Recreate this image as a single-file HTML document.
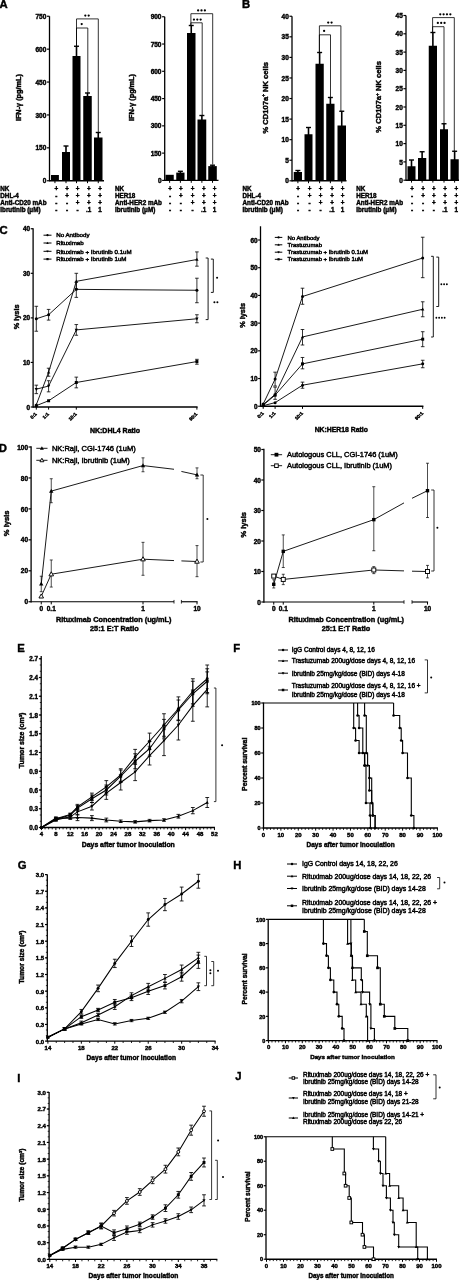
<!DOCTYPE html>
<html><head><meta charset="utf-8"><style>
html,body{margin:0;padding:0;background:#fff;width:460px;height:1280px;overflow:hidden}
svg{display:block;will-change:transform;filter:blur(0.3px)}
text{font-family:"Liberation Sans",sans-serif;fill:#000;stroke:#000;stroke-width:0.42px}
text[font-weight="normal"]{stroke-width:0.45px}
</style></head><body>
<svg width="460" height="1280" viewBox="0 0 460 1280">
<rect width="460" height="1280" fill="#fff"/>
<text x="-0.6" y="8.1" font-size="11.3" font-weight="bold" text-anchor="start">A</text>
<text x="242" y="8.2" font-size="11.3" font-weight="bold" text-anchor="start">B</text>
<line x1="49.5" y1="16.25" x2="49.5" y2="181.4" stroke="#000" stroke-width="1.3"/>
<line x1="46.9" y1="180.75" x2="49.5" y2="180.75" stroke="#000" stroke-width="1.17"/>
<text x="46.3" y="183.35" font-size="6.5" font-weight="bold" text-anchor="end">0</text>
<line x1="46.9" y1="147.85" x2="49.5" y2="147.85" stroke="#000" stroke-width="1.17"/>
<text x="46.3" y="150.45" font-size="6.5" font-weight="bold" text-anchor="end">150</text>
<line x1="46.9" y1="114.95" x2="49.5" y2="114.95" stroke="#000" stroke-width="1.17"/>
<text x="46.3" y="117.55" font-size="6.5" font-weight="bold" text-anchor="end">300</text>
<line x1="46.9" y1="82.05" x2="49.5" y2="82.05" stroke="#000" stroke-width="1.17"/>
<text x="46.3" y="84.65" font-size="6.5" font-weight="bold" text-anchor="end">450</text>
<line x1="46.9" y1="49.15" x2="49.5" y2="49.15" stroke="#000" stroke-width="1.17"/>
<text x="46.3" y="51.75" font-size="6.5" font-weight="bold" text-anchor="end">600</text>
<line x1="46.9" y1="16.25" x2="49.5" y2="16.25" stroke="#000" stroke-width="1.17"/>
<text x="46.3" y="18.85" font-size="6.5" font-weight="bold" text-anchor="end">750</text>
<line x1="49.5" y1="180.75" x2="104" y2="180.75" stroke="#000" stroke-width="1.4"/>
<rect x="51" y="175" width="7.9" height="5.75" fill="#000"/>
<line x1="54.95" y1="180.75" x2="54.95" y2="183.15" stroke="#000" stroke-width="1"/>
<rect x="62" y="152" width="8" height="28.75" fill="#000"/>
<line x1="66" y1="180.75" x2="66" y2="183.15" stroke="#000" stroke-width="1"/>
<line x1="66" y1="146" x2="66" y2="154" stroke="#000" stroke-width="1.6"/>
<line x1="63.5" y1="146" x2="68.5" y2="146" stroke="#000" stroke-width="1.4"/>
<rect x="72.5" y="56" width="8" height="124.75" fill="#000"/>
<line x1="76.5" y1="180.75" x2="76.5" y2="183.15" stroke="#000" stroke-width="1"/>
<line x1="76.5" y1="46.25" x2="76.5" y2="58" stroke="#000" stroke-width="1.6"/>
<line x1="74" y1="46.25" x2="79" y2="46.25" stroke="#000" stroke-width="1.4"/>
<rect x="83.25" y="96" width="8.5" height="84.75" fill="#000"/>
<line x1="87.5" y1="180.75" x2="87.5" y2="183.15" stroke="#000" stroke-width="1"/>
<line x1="87.5" y1="93" x2="87.5" y2="98" stroke="#000" stroke-width="1.6"/>
<line x1="85" y1="93" x2="90" y2="93" stroke="#000" stroke-width="1.4"/>
<rect x="94" y="137.5" width="8.5" height="43.25" fill="#000"/>
<line x1="98.25" y1="180.75" x2="98.25" y2="183.15" stroke="#000" stroke-width="1"/>
<line x1="98.25" y1="132.5" x2="98.25" y2="139.5" stroke="#000" stroke-width="1.6"/>
<line x1="95.75" y1="132.5" x2="100.75" y2="132.5" stroke="#000" stroke-width="1.4"/>
<polyline points="76.5,46.25 76.5,18.9 98.3,18.9 98.3,132.5" fill="none" stroke="#000" stroke-width="0.8" stroke-linejoin="miter"/>
<circle cx="85.32" cy="15.6" r="1.13" fill="#000"/>
<circle cx="88.68" cy="15.6" r="1.13" fill="#000"/>
<polyline points="76.5,46.25 76.5,28 87.8,28 87.8,93" fill="none" stroke="#000" stroke-width="0.8" stroke-linejoin="miter"/>
<circle cx="81.7" cy="24.1" r="1.13" fill="#000"/>
<text x="21.2" y="97.6" font-size="7.3" font-weight="bold" text-anchor="middle" transform="rotate(-90 21.2 97.6)">IFN-γ (pg/mL)</text>
<text x="0.3" y="191" font-size="6.3" font-weight="bold" text-anchor="start">NK</text>
<text x="56.25" y="191" font-size="6.3" font-weight="bold" text-anchor="middle">+</text>
<text x="67" y="191" font-size="6.3" font-weight="bold" text-anchor="middle">+</text>
<text x="77.5" y="191" font-size="6.3" font-weight="bold" text-anchor="middle">+</text>
<text x="88.75" y="191" font-size="6.3" font-weight="bold" text-anchor="middle">+</text>
<text x="100" y="191" font-size="6.3" font-weight="bold" text-anchor="middle">+</text>
<text x="0.3" y="197.7" font-size="6.3" font-weight="bold" text-anchor="start">DHL-4</text>
<text x="56.25" y="197.7" font-size="6.3" font-weight="bold" text-anchor="middle">-</text>
<text x="67" y="197.7" font-size="6.3" font-weight="bold" text-anchor="middle">+</text>
<text x="77.5" y="197.7" font-size="6.3" font-weight="bold" text-anchor="middle">+</text>
<text x="88.75" y="197.7" font-size="6.3" font-weight="bold" text-anchor="middle">+</text>
<text x="100" y="197.7" font-size="6.3" font-weight="bold" text-anchor="middle">+</text>
<text x="0.3" y="204.9" font-size="6.3" font-weight="bold" text-anchor="start">Anti-CD20 mAb</text>
<text x="56.25" y="204.9" font-size="6.3" font-weight="bold" text-anchor="middle">-</text>
<text x="67" y="204.9" font-size="6.3" font-weight="bold" text-anchor="middle">-</text>
<text x="77.5" y="204.9" font-size="6.3" font-weight="bold" text-anchor="middle">+</text>
<text x="88.75" y="204.9" font-size="6.3" font-weight="bold" text-anchor="middle">+</text>
<text x="100" y="204.9" font-size="6.3" font-weight="bold" text-anchor="middle">+</text>
<text x="0.3" y="211.6" font-size="6.3" font-weight="bold" text-anchor="start">Ibrutinib (μM)</text>
<text x="56.25" y="211.6" font-size="6.3" font-weight="bold" text-anchor="middle">-</text>
<text x="67" y="211.6" font-size="6.3" font-weight="bold" text-anchor="middle">-</text>
<text x="77.5" y="211.6" font-size="6.3" font-weight="bold" text-anchor="middle">-</text>
<text x="88.75" y="211.6" font-size="6.3" font-weight="bold" text-anchor="middle">.1</text>
<text x="100" y="211.6" font-size="6.3" font-weight="bold" text-anchor="middle">1</text>
<line x1="164.7" y1="16.75" x2="164.7" y2="181.05" stroke="#000" stroke-width="1.3"/>
<line x1="162.1" y1="180.4" x2="164.7" y2="180.4" stroke="#000" stroke-width="1.17"/>
<text x="161.5" y="183" font-size="6.5" font-weight="bold" text-anchor="end">0</text>
<line x1="162.1" y1="153.12" x2="164.7" y2="153.12" stroke="#000" stroke-width="1.17"/>
<text x="161.5" y="155.72" font-size="6.5" font-weight="bold" text-anchor="end">150</text>
<line x1="162.1" y1="125.85" x2="164.7" y2="125.85" stroke="#000" stroke-width="1.17"/>
<text x="161.5" y="128.45" font-size="6.5" font-weight="bold" text-anchor="end">300</text>
<line x1="162.1" y1="98.58" x2="164.7" y2="98.58" stroke="#000" stroke-width="1.17"/>
<text x="161.5" y="101.17" font-size="6.5" font-weight="bold" text-anchor="end">450</text>
<line x1="162.1" y1="71.3" x2="164.7" y2="71.3" stroke="#000" stroke-width="1.17"/>
<text x="161.5" y="73.9" font-size="6.5" font-weight="bold" text-anchor="end">600</text>
<line x1="162.1" y1="44.03" x2="164.7" y2="44.03" stroke="#000" stroke-width="1.17"/>
<text x="161.5" y="46.63" font-size="6.5" font-weight="bold" text-anchor="end">750</text>
<line x1="162.1" y1="16.75" x2="164.7" y2="16.75" stroke="#000" stroke-width="1.17"/>
<text x="161.5" y="19.35" font-size="6.5" font-weight="bold" text-anchor="end">900</text>
<line x1="164.7" y1="180.4" x2="218.5" y2="180.4" stroke="#000" stroke-width="1.4"/>
<rect x="165.5" y="174.8" width="8.25" height="5.6" fill="#000"/>
<line x1="169.62" y1="180.4" x2="169.62" y2="182.8" stroke="#000" stroke-width="1"/>
<rect x="176.25" y="172.6" width="8.25" height="7.8" fill="#000"/>
<line x1="180.38" y1="180.4" x2="180.38" y2="182.8" stroke="#000" stroke-width="1"/>
<line x1="180.38" y1="171.3" x2="180.38" y2="174.6" stroke="#000" stroke-width="1.6"/>
<line x1="177.88" y1="171.3" x2="182.88" y2="171.3" stroke="#000" stroke-width="1.4"/>
<rect x="187" y="33" width="8.5" height="147.4" fill="#000"/>
<line x1="191.25" y1="180.4" x2="191.25" y2="182.8" stroke="#000" stroke-width="1"/>
<line x1="191.25" y1="25.5" x2="191.25" y2="35" stroke="#000" stroke-width="1.6"/>
<line x1="188.75" y1="25.5" x2="193.75" y2="25.5" stroke="#000" stroke-width="1.4"/>
<rect x="197.5" y="119.5" width="8.75" height="60.9" fill="#000"/>
<line x1="201.88" y1="180.4" x2="201.88" y2="182.8" stroke="#000" stroke-width="1"/>
<line x1="201.88" y1="115.5" x2="201.88" y2="121.5" stroke="#000" stroke-width="1.6"/>
<line x1="199.38" y1="115.5" x2="204.38" y2="115.5" stroke="#000" stroke-width="1.4"/>
<rect x="208.25" y="166.1" width="8.55" height="14.3" fill="#000"/>
<line x1="212.53" y1="180.4" x2="212.53" y2="182.8" stroke="#000" stroke-width="1"/>
<line x1="212.53" y1="165.2" x2="212.53" y2="168.1" stroke="#000" stroke-width="1.6"/>
<line x1="210.03" y1="165.2" x2="215.03" y2="165.2" stroke="#000" stroke-width="1.4"/>
<polyline points="190.9,25.7 190.9,13.7 212.7,13.7 212.7,164.5" fill="none" stroke="#000" stroke-width="0.8" stroke-linejoin="miter"/>
<circle cx="198.14" cy="10.4" r="1.13" fill="#000"/>
<circle cx="201.5" cy="10.4" r="1.13" fill="#000"/>
<circle cx="204.86" cy="10.4" r="1.13" fill="#000"/>
<polyline points="190.9,25.7 190.9,22.8 202.2,22.8 202.2,115.5" fill="none" stroke="#000" stroke-width="0.8" stroke-linejoin="miter"/>
<circle cx="193.94" cy="19.6" r="1.13" fill="#000"/>
<circle cx="197.3" cy="19.6" r="1.13" fill="#000"/>
<circle cx="200.66" cy="19.6" r="1.13" fill="#000"/>
<text x="134.3" y="97.5" font-size="7.3" font-weight="bold" text-anchor="middle" transform="rotate(-90 134.3 97.5)">IFN-γ (pg/mL)</text>
<text x="115" y="191" font-size="6.3" font-weight="bold" text-anchor="start">NK</text>
<text x="170" y="191" font-size="6.3" font-weight="bold" text-anchor="middle">+</text>
<text x="180.75" y="191" font-size="6.3" font-weight="bold" text-anchor="middle">+</text>
<text x="192.5" y="191" font-size="6.3" font-weight="bold" text-anchor="middle">+</text>
<text x="203.75" y="191" font-size="6.3" font-weight="bold" text-anchor="middle">+</text>
<text x="214.5" y="191" font-size="6.3" font-weight="bold" text-anchor="middle">+</text>
<text x="115" y="197.7" font-size="6.3" font-weight="bold" text-anchor="start">HER18</text>
<text x="170" y="197.7" font-size="6.3" font-weight="bold" text-anchor="middle">-</text>
<text x="180.75" y="197.7" font-size="6.3" font-weight="bold" text-anchor="middle">+</text>
<text x="192.5" y="197.7" font-size="6.3" font-weight="bold" text-anchor="middle">+</text>
<text x="203.75" y="197.7" font-size="6.3" font-weight="bold" text-anchor="middle">+</text>
<text x="214.5" y="197.7" font-size="6.3" font-weight="bold" text-anchor="middle">+</text>
<text x="115" y="204.9" font-size="6.3" font-weight="bold" text-anchor="start">Anti-HER2 mAb</text>
<text x="170" y="204.9" font-size="6.3" font-weight="bold" text-anchor="middle">-</text>
<text x="180.75" y="204.9" font-size="6.3" font-weight="bold" text-anchor="middle">-</text>
<text x="192.5" y="204.9" font-size="6.3" font-weight="bold" text-anchor="middle">+</text>
<text x="203.75" y="204.9" font-size="6.3" font-weight="bold" text-anchor="middle">+</text>
<text x="214.5" y="204.9" font-size="6.3" font-weight="bold" text-anchor="middle">+</text>
<text x="115" y="211.6" font-size="6.3" font-weight="bold" text-anchor="start">Ibrutinib (μM)</text>
<text x="170" y="211.6" font-size="6.3" font-weight="bold" text-anchor="middle">-</text>
<text x="180.75" y="211.6" font-size="6.3" font-weight="bold" text-anchor="middle">-</text>
<text x="192.5" y="211.6" font-size="6.3" font-weight="bold" text-anchor="middle">-</text>
<text x="203.75" y="211.6" font-size="6.3" font-weight="bold" text-anchor="middle">.1</text>
<text x="214.5" y="211.6" font-size="6.3" font-weight="bold" text-anchor="middle">1</text>
<line x1="292" y1="16.25" x2="292" y2="181.45" stroke="#000" stroke-width="1.3"/>
<line x1="289.4" y1="180.8" x2="292" y2="180.8" stroke="#000" stroke-width="1.17"/>
<text x="288.8" y="183.4" font-size="6.5" font-weight="bold" text-anchor="end">0</text>
<line x1="289.4" y1="160.23" x2="292" y2="160.23" stroke="#000" stroke-width="1.17"/>
<text x="288.8" y="162.83" font-size="6.5" font-weight="bold" text-anchor="end">5</text>
<line x1="289.4" y1="139.66" x2="292" y2="139.66" stroke="#000" stroke-width="1.17"/>
<text x="288.8" y="142.26" font-size="6.5" font-weight="bold" text-anchor="end">10</text>
<line x1="289.4" y1="119.09" x2="292" y2="119.09" stroke="#000" stroke-width="1.17"/>
<text x="288.8" y="121.69" font-size="6.5" font-weight="bold" text-anchor="end">15</text>
<line x1="289.4" y1="98.53" x2="292" y2="98.53" stroke="#000" stroke-width="1.17"/>
<text x="288.8" y="101.12" font-size="6.5" font-weight="bold" text-anchor="end">20</text>
<line x1="289.4" y1="77.96" x2="292" y2="77.96" stroke="#000" stroke-width="1.17"/>
<text x="288.8" y="80.56" font-size="6.5" font-weight="bold" text-anchor="end">25</text>
<line x1="289.4" y1="57.39" x2="292" y2="57.39" stroke="#000" stroke-width="1.17"/>
<text x="288.8" y="59.99" font-size="6.5" font-weight="bold" text-anchor="end">30</text>
<line x1="289.4" y1="36.82" x2="292" y2="36.82" stroke="#000" stroke-width="1.17"/>
<text x="288.8" y="39.42" font-size="6.5" font-weight="bold" text-anchor="end">35</text>
<line x1="289.4" y1="16.25" x2="292" y2="16.25" stroke="#000" stroke-width="1.17"/>
<text x="288.8" y="18.85" font-size="6.5" font-weight="bold" text-anchor="end">40</text>
<line x1="292" y1="180.8" x2="346.5" y2="180.8" stroke="#000" stroke-width="1.4"/>
<rect x="293.75" y="172" width="8.25" height="8.8" fill="#000"/>
<line x1="297.88" y1="180.8" x2="297.88" y2="183.2" stroke="#000" stroke-width="1"/>
<line x1="297.88" y1="170.5" x2="297.88" y2="174" stroke="#000" stroke-width="1.6"/>
<line x1="295.38" y1="170.5" x2="300.38" y2="170.5" stroke="#000" stroke-width="1.4"/>
<rect x="304.5" y="134.25" width="8" height="46.55" fill="#000"/>
<line x1="308.5" y1="180.8" x2="308.5" y2="183.2" stroke="#000" stroke-width="1"/>
<line x1="308.5" y1="127.5" x2="308.5" y2="136.25" stroke="#000" stroke-width="1.6"/>
<line x1="306" y1="127.5" x2="311" y2="127.5" stroke="#000" stroke-width="1.4"/>
<rect x="315.5" y="63.75" width="8.25" height="117.05" fill="#000"/>
<line x1="319.62" y1="180.8" x2="319.62" y2="183.2" stroke="#000" stroke-width="1"/>
<line x1="319.62" y1="52.5" x2="319.62" y2="65.75" stroke="#000" stroke-width="1.6"/>
<line x1="317.12" y1="52.5" x2="322.12" y2="52.5" stroke="#000" stroke-width="1.4"/>
<rect x="326.25" y="103.75" width="8.25" height="77.05" fill="#000"/>
<line x1="330.38" y1="180.8" x2="330.38" y2="183.2" stroke="#000" stroke-width="1"/>
<line x1="330.38" y1="97.5" x2="330.38" y2="105.75" stroke="#000" stroke-width="1.6"/>
<line x1="327.88" y1="97.5" x2="332.88" y2="97.5" stroke="#000" stroke-width="1.4"/>
<rect x="337.5" y="125.5" width="8.5" height="55.3" fill="#000"/>
<line x1="341.75" y1="180.8" x2="341.75" y2="183.2" stroke="#000" stroke-width="1"/>
<line x1="341.75" y1="111.25" x2="341.75" y2="127.5" stroke="#000" stroke-width="1.6"/>
<line x1="339.25" y1="111.25" x2="344.25" y2="111.25" stroke="#000" stroke-width="1.4"/>
<polyline points="319.4,52.5 319.4,25.8 340.9,25.8 340.9,111.25" fill="none" stroke="#000" stroke-width="0.8" stroke-linejoin="miter"/>
<circle cx="328.22" cy="22.6" r="1.13" fill="#000"/>
<circle cx="331.58" cy="22.6" r="1.13" fill="#000"/>
<polyline points="319.4,52.5 319.4,34.8 330.5,34.8 330.5,97.5" fill="none" stroke="#000" stroke-width="0.8" stroke-linejoin="miter"/>
<circle cx="324.1" cy="30.9" r="1.13" fill="#000"/>
<text x="267.6" y="97.8" font-size="7.6" font-weight="bold" text-anchor="middle" transform="rotate(-90 267.6 97.8)">% CD107a<tspan font-size="4.71" dy="-2.6">+</tspan><tspan dy="2.6"> NK cells</tspan></text>
<text x="242.5" y="191" font-size="6.3" font-weight="bold" text-anchor="start">NK</text>
<text x="298" y="191" font-size="6.3" font-weight="bold" text-anchor="middle">+</text>
<text x="309.5" y="191" font-size="6.3" font-weight="bold" text-anchor="middle">+</text>
<text x="320.5" y="191" font-size="6.3" font-weight="bold" text-anchor="middle">+</text>
<text x="332" y="191" font-size="6.3" font-weight="bold" text-anchor="middle">+</text>
<text x="342.5" y="191" font-size="6.3" font-weight="bold" text-anchor="middle">+</text>
<text x="242.5" y="197.7" font-size="6.3" font-weight="bold" text-anchor="start">DHL-4</text>
<text x="298" y="197.7" font-size="6.3" font-weight="bold" text-anchor="middle">-</text>
<text x="309.5" y="197.7" font-size="6.3" font-weight="bold" text-anchor="middle">+</text>
<text x="320.5" y="197.7" font-size="6.3" font-weight="bold" text-anchor="middle">+</text>
<text x="332" y="197.7" font-size="6.3" font-weight="bold" text-anchor="middle">+</text>
<text x="342.5" y="197.7" font-size="6.3" font-weight="bold" text-anchor="middle">+</text>
<text x="242.5" y="204.9" font-size="6.3" font-weight="bold" text-anchor="start">Anti-CD20 mAb</text>
<text x="298" y="204.9" font-size="6.3" font-weight="bold" text-anchor="middle">-</text>
<text x="309.5" y="204.9" font-size="6.3" font-weight="bold" text-anchor="middle">-</text>
<text x="320.5" y="204.9" font-size="6.3" font-weight="bold" text-anchor="middle">+</text>
<text x="332" y="204.9" font-size="6.3" font-weight="bold" text-anchor="middle">+</text>
<text x="342.5" y="204.9" font-size="6.3" font-weight="bold" text-anchor="middle">+</text>
<text x="242.5" y="211.6" font-size="6.3" font-weight="bold" text-anchor="start">Ibrutinib (μM)</text>
<text x="298" y="211.6" font-size="6.3" font-weight="bold" text-anchor="middle">-</text>
<text x="309.5" y="211.6" font-size="6.3" font-weight="bold" text-anchor="middle">-</text>
<text x="320.5" y="211.6" font-size="6.3" font-weight="bold" text-anchor="middle">-</text>
<text x="332" y="211.6" font-size="6.3" font-weight="bold" text-anchor="middle">.1</text>
<text x="342.5" y="211.6" font-size="6.3" font-weight="bold" text-anchor="middle">1</text>
<line x1="406" y1="15.5" x2="406" y2="180.85" stroke="#000" stroke-width="1.3"/>
<line x1="403.4" y1="180.2" x2="406" y2="180.2" stroke="#000" stroke-width="1.17"/>
<text x="402.8" y="182.8" font-size="6.5" font-weight="bold" text-anchor="end">0</text>
<line x1="403.4" y1="161.9" x2="406" y2="161.9" stroke="#000" stroke-width="1.17"/>
<text x="402.8" y="164.5" font-size="6.5" font-weight="bold" text-anchor="end">5</text>
<line x1="403.4" y1="143.6" x2="406" y2="143.6" stroke="#000" stroke-width="1.17"/>
<text x="402.8" y="146.2" font-size="6.5" font-weight="bold" text-anchor="end">10</text>
<line x1="403.4" y1="125.3" x2="406" y2="125.3" stroke="#000" stroke-width="1.17"/>
<text x="402.8" y="127.9" font-size="6.5" font-weight="bold" text-anchor="end">15</text>
<line x1="403.4" y1="107" x2="406" y2="107" stroke="#000" stroke-width="1.17"/>
<text x="402.8" y="109.6" font-size="6.5" font-weight="bold" text-anchor="end">20</text>
<line x1="403.4" y1="88.7" x2="406" y2="88.7" stroke="#000" stroke-width="1.17"/>
<text x="402.8" y="91.3" font-size="6.5" font-weight="bold" text-anchor="end">25</text>
<line x1="403.4" y1="70.4" x2="406" y2="70.4" stroke="#000" stroke-width="1.17"/>
<text x="402.8" y="73" font-size="6.5" font-weight="bold" text-anchor="end">30</text>
<line x1="403.4" y1="52.1" x2="406" y2="52.1" stroke="#000" stroke-width="1.17"/>
<text x="402.8" y="54.7" font-size="6.5" font-weight="bold" text-anchor="end">35</text>
<line x1="403.4" y1="33.8" x2="406" y2="33.8" stroke="#000" stroke-width="1.17"/>
<text x="402.8" y="36.4" font-size="6.5" font-weight="bold" text-anchor="end">40</text>
<line x1="403.4" y1="15.5" x2="406" y2="15.5" stroke="#000" stroke-width="1.17"/>
<text x="402.8" y="18.1" font-size="6.5" font-weight="bold" text-anchor="end">45</text>
<line x1="406" y1="180.2" x2="459" y2="180.2" stroke="#000" stroke-width="1.4"/>
<rect x="407.5" y="166.25" width="8" height="13.95" fill="#000"/>
<line x1="411.5" y1="180.2" x2="411.5" y2="182.6" stroke="#000" stroke-width="1"/>
<line x1="411.5" y1="160" x2="411.5" y2="168.25" stroke="#000" stroke-width="1.6"/>
<line x1="409" y1="160" x2="414" y2="160" stroke="#000" stroke-width="1.4"/>
<rect x="418" y="158" width="8.25" height="22.2" fill="#000"/>
<line x1="422.12" y1="180.2" x2="422.12" y2="182.6" stroke="#000" stroke-width="1"/>
<line x1="422.12" y1="151.75" x2="422.12" y2="160" stroke="#000" stroke-width="1.6"/>
<line x1="419.62" y1="151.75" x2="424.62" y2="151.75" stroke="#000" stroke-width="1.4"/>
<rect x="428.75" y="45.75" width="8.25" height="134.45" fill="#000"/>
<line x1="432.88" y1="180.2" x2="432.88" y2="182.6" stroke="#000" stroke-width="1"/>
<line x1="432.88" y1="32.5" x2="432.88" y2="47.75" stroke="#000" stroke-width="1.6"/>
<line x1="430.38" y1="32.5" x2="435.38" y2="32.5" stroke="#000" stroke-width="1.4"/>
<rect x="440" y="129.25" width="8" height="50.95" fill="#000"/>
<line x1="444" y1="180.2" x2="444" y2="182.6" stroke="#000" stroke-width="1"/>
<line x1="444" y1="123.75" x2="444" y2="131.25" stroke="#000" stroke-width="1.6"/>
<line x1="441.5" y1="123.75" x2="446.5" y2="123.75" stroke="#000" stroke-width="1.4"/>
<rect x="450.5" y="159.25" width="8.25" height="20.95" fill="#000"/>
<line x1="454.62" y1="180.2" x2="454.62" y2="182.6" stroke="#000" stroke-width="1"/>
<line x1="454.62" y1="151.25" x2="454.62" y2="161.25" stroke="#000" stroke-width="1.6"/>
<line x1="452.12" y1="151.25" x2="457.12" y2="151.25" stroke="#000" stroke-width="1.4"/>
<polyline points="432.6,32.5 432.6,17.6 454.3,17.6 454.3,151.25" fill="none" stroke="#000" stroke-width="0.8" stroke-linejoin="miter"/>
<circle cx="440.26" cy="14.3" r="1.13" fill="#000"/>
<circle cx="443.62" cy="14.3" r="1.13" fill="#000"/>
<circle cx="446.98" cy="14.3" r="1.13" fill="#000"/>
<circle cx="450.34" cy="14.3" r="1.13" fill="#000"/>
<polyline points="432.6,32.5 432.6,26.7 444,26.7 444,123.75" fill="none" stroke="#000" stroke-width="0.8" stroke-linejoin="miter"/>
<circle cx="437.84" cy="22.9" r="1.13" fill="#000"/>
<circle cx="441.2" cy="22.9" r="1.13" fill="#000"/>
<circle cx="444.56" cy="22.9" r="1.13" fill="#000"/>
<text x="381.4" y="96.9" font-size="7.6" font-weight="bold" text-anchor="middle" transform="rotate(-90 381.4 96.9)">% CD107a<tspan font-size="4.71" dy="-2.6">+</tspan><tspan dy="2.6"> NK cells</tspan></text>
<text x="356.25" y="191" font-size="6.3" font-weight="bold" text-anchor="start">NK</text>
<text x="412" y="191" font-size="6.3" font-weight="bold" text-anchor="middle">+</text>
<text x="423" y="191" font-size="6.3" font-weight="bold" text-anchor="middle">+</text>
<text x="433.75" y="191" font-size="6.3" font-weight="bold" text-anchor="middle">+</text>
<text x="445" y="191" font-size="6.3" font-weight="bold" text-anchor="middle">+</text>
<text x="456.25" y="191" font-size="6.3" font-weight="bold" text-anchor="middle">+</text>
<text x="356.25" y="197.7" font-size="6.3" font-weight="bold" text-anchor="start">HER18</text>
<text x="412" y="197.7" font-size="6.3" font-weight="bold" text-anchor="middle">-</text>
<text x="423" y="197.7" font-size="6.3" font-weight="bold" text-anchor="middle">+</text>
<text x="433.75" y="197.7" font-size="6.3" font-weight="bold" text-anchor="middle">+</text>
<text x="445" y="197.7" font-size="6.3" font-weight="bold" text-anchor="middle">+</text>
<text x="456.25" y="197.7" font-size="6.3" font-weight="bold" text-anchor="middle">+</text>
<text x="356.25" y="204.9" font-size="6.3" font-weight="bold" text-anchor="start">Anti-HER2 mAb</text>
<text x="412" y="204.9" font-size="6.3" font-weight="bold" text-anchor="middle">-</text>
<text x="423" y="204.9" font-size="6.3" font-weight="bold" text-anchor="middle">-</text>
<text x="433.75" y="204.9" font-size="6.3" font-weight="bold" text-anchor="middle">+</text>
<text x="445" y="204.9" font-size="6.3" font-weight="bold" text-anchor="middle">+</text>
<text x="456.25" y="204.9" font-size="6.3" font-weight="bold" text-anchor="middle">+</text>
<text x="356.25" y="211.6" font-size="6.3" font-weight="bold" text-anchor="start">Ibrutinib (μM)</text>
<text x="412" y="211.6" font-size="6.3" font-weight="bold" text-anchor="middle">-</text>
<text x="423" y="211.6" font-size="6.3" font-weight="bold" text-anchor="middle">-</text>
<text x="433.75" y="211.6" font-size="6.3" font-weight="bold" text-anchor="middle">-</text>
<text x="445" y="211.6" font-size="6.3" font-weight="bold" text-anchor="middle">.1</text>
<text x="456.25" y="211.6" font-size="6.3" font-weight="bold" text-anchor="middle">1</text>
<text x="-0.5" y="234.2" font-size="11.3" font-weight="bold" text-anchor="start">C</text>
<line x1="33.1" y1="228.3" x2="33.1" y2="407.65" stroke="#000" stroke-width="1.3"/>
<line x1="30.7" y1="407" x2="33.1" y2="407" stroke="#000" stroke-width="1.17"/>
<text x="30.1" y="409.56" font-size="6.4" font-weight="bold" text-anchor="end">0</text>
<line x1="30.7" y1="362.44" x2="33.1" y2="362.44" stroke="#000" stroke-width="1.17"/>
<text x="30.1" y="365" font-size="6.4" font-weight="bold" text-anchor="end">10</text>
<line x1="30.7" y1="317.88" x2="33.1" y2="317.88" stroke="#000" stroke-width="1.17"/>
<text x="30.1" y="320.44" font-size="6.4" font-weight="bold" text-anchor="end">20</text>
<line x1="30.7" y1="273.31" x2="33.1" y2="273.31" stroke="#000" stroke-width="1.17"/>
<text x="30.1" y="275.87" font-size="6.4" font-weight="bold" text-anchor="end">30</text>
<line x1="30.7" y1="228.75" x2="33.1" y2="228.75" stroke="#000" stroke-width="1.17"/>
<text x="30.1" y="231.31" font-size="6.4" font-weight="bold" text-anchor="end">40</text>
<line x1="33.1" y1="407" x2="197.6" y2="407" stroke="#000" stroke-width="1.4"/>
<line x1="36.3" y1="407" x2="36.3" y2="409.6" stroke="#000" stroke-width="1"/>
<line x1="48.6" y1="407" x2="48.6" y2="409.6" stroke="#000" stroke-width="1"/>
<line x1="76.3" y1="407" x2="76.3" y2="409.6" stroke="#000" stroke-width="1"/>
<line x1="196.9" y1="407" x2="196.9" y2="409.6" stroke="#000" stroke-width="1"/>
<text x="37.1" y="414.4" font-size="4.7" font-weight="bold" text-anchor="end" transform="rotate(-45 37.1 414.4)">0:1</text>
<text x="49.4" y="414.4" font-size="4.7" font-weight="bold" text-anchor="end" transform="rotate(-45 49.4 414.4)">1:1</text>
<text x="77.1" y="414.4" font-size="4.7" font-weight="bold" text-anchor="end" transform="rotate(-45 77.1 414.4)">10:1</text>
<text x="197.7" y="414.4" font-size="4.7" font-weight="bold" text-anchor="end" transform="rotate(-45 197.7 414.4)">90:1</text>
<polyline points="36.3,318.77 48.6,314.76 76.3,289.36 196.9,290.25" fill="none" stroke="#000" stroke-width="0.9" stroke-linejoin="miter"/>
<line x1="36.3" y1="306.29" x2="36.3" y2="331.24" stroke="#000" stroke-width="0.8"/>
<line x1="34.5" y1="306.29" x2="38.1" y2="306.29" stroke="#000" stroke-width="0.8"/>
<line x1="34.5" y1="331.24" x2="38.1" y2="331.24" stroke="#000" stroke-width="0.8"/>
<line x1="48.6" y1="309.41" x2="48.6" y2="320.1" stroke="#000" stroke-width="0.8"/>
<line x1="46.8" y1="309.41" x2="50.4" y2="309.41" stroke="#000" stroke-width="0.8"/>
<line x1="46.8" y1="320.1" x2="50.4" y2="320.1" stroke="#000" stroke-width="0.8"/>
<line x1="76.3" y1="282.23" x2="76.3" y2="297.38" stroke="#000" stroke-width="0.8"/>
<line x1="74.5" y1="282.23" x2="78.1" y2="282.23" stroke="#000" stroke-width="0.8"/>
<line x1="74.5" y1="297.38" x2="78.1" y2="297.38" stroke="#000" stroke-width="0.8"/>
<line x1="196.9" y1="278.21" x2="196.9" y2="302.72" stroke="#000" stroke-width="0.8"/>
<line x1="195.1" y1="278.21" x2="198.7" y2="278.21" stroke="#000" stroke-width="0.8"/>
<line x1="195.1" y1="302.72" x2="198.7" y2="302.72" stroke="#000" stroke-width="0.8"/>
<circle cx="36.3" cy="318.77" r="1.5" fill="#000"/>
<circle cx="48.6" cy="314.76" r="1.5" fill="#000"/>
<circle cx="76.3" cy="289.36" r="1.5" fill="#000"/>
<circle cx="196.9" cy="290.25" r="1.5" fill="#000"/>
<polyline points="36.3,404.77 48.6,372.24 76.3,281.33 196.9,259.5" fill="none" stroke="#000" stroke-width="0.9" stroke-linejoin="miter"/>
<line x1="48.6" y1="368.23" x2="48.6" y2="376.25" stroke="#000" stroke-width="0.8"/>
<line x1="46.8" y1="368.23" x2="50.4" y2="368.23" stroke="#000" stroke-width="0.8"/>
<line x1="46.8" y1="376.25" x2="50.4" y2="376.25" stroke="#000" stroke-width="0.8"/>
<line x1="76.3" y1="273.31" x2="76.3" y2="288.91" stroke="#000" stroke-width="0.8"/>
<line x1="74.5" y1="273.31" x2="78.1" y2="273.31" stroke="#000" stroke-width="0.8"/>
<line x1="74.5" y1="288.91" x2="78.1" y2="288.91" stroke="#000" stroke-width="0.8"/>
<line x1="196.9" y1="251.92" x2="196.9" y2="266.18" stroke="#000" stroke-width="0.8"/>
<line x1="195.1" y1="251.92" x2="198.7" y2="251.92" stroke="#000" stroke-width="0.8"/>
<line x1="195.1" y1="266.18" x2="198.7" y2="266.18" stroke="#000" stroke-width="0.8"/>
<polygon points="36.3,403.05 34.65,405.97 37.95,405.97" fill="#000"/>
<polygon points="48.6,370.52 46.95,373.44 50.25,373.44" fill="#000"/>
<polygon points="76.3,279.61 74.65,282.53 77.95,282.53" fill="#000"/>
<polygon points="196.9,257.77 195.25,260.7 198.55,260.7" fill="#000"/>
<polyline points="36.3,389.18 48.6,386.06 76.3,329.91 196.9,318.77" fill="none" stroke="#000" stroke-width="0.9" stroke-linejoin="miter"/>
<line x1="36.3" y1="385.16" x2="36.3" y2="393.63" stroke="#000" stroke-width="0.8"/>
<line x1="34.5" y1="385.16" x2="38.1" y2="385.16" stroke="#000" stroke-width="0.8"/>
<line x1="34.5" y1="393.63" x2="38.1" y2="393.63" stroke="#000" stroke-width="0.8"/>
<line x1="48.6" y1="380.71" x2="48.6" y2="391.85" stroke="#000" stroke-width="0.8"/>
<line x1="46.8" y1="380.71" x2="50.4" y2="380.71" stroke="#000" stroke-width="0.8"/>
<line x1="46.8" y1="391.85" x2="50.4" y2="391.85" stroke="#000" stroke-width="0.8"/>
<line x1="76.3" y1="324.56" x2="76.3" y2="335.25" stroke="#000" stroke-width="0.8"/>
<line x1="74.5" y1="324.56" x2="78.1" y2="324.56" stroke="#000" stroke-width="0.8"/>
<line x1="74.5" y1="335.25" x2="78.1" y2="335.25" stroke="#000" stroke-width="0.8"/>
<line x1="196.9" y1="314.76" x2="196.9" y2="322.78" stroke="#000" stroke-width="0.8"/>
<line x1="195.1" y1="314.76" x2="198.7" y2="314.76" stroke="#000" stroke-width="0.8"/>
<line x1="195.1" y1="322.78" x2="198.7" y2="322.78" stroke="#000" stroke-width="0.8"/>
<polygon points="36.3,390.9 34.65,387.98 37.95,387.98" fill="#000"/>
<polygon points="48.6,387.78 46.95,384.86 50.25,384.86" fill="#000"/>
<polygon points="76.3,331.63 74.65,328.71 77.95,328.71" fill="#000"/>
<polygon points="196.9,320.49 195.25,317.57 198.55,317.57" fill="#000"/>
<polyline points="36.3,405.66 48.6,400.76 76.3,382.49 196.9,361.55" fill="none" stroke="#000" stroke-width="0.9" stroke-linejoin="miter"/>
<line x1="76.3" y1="377.14" x2="76.3" y2="387.84" stroke="#000" stroke-width="0.8"/>
<line x1="74.5" y1="377.14" x2="78.1" y2="377.14" stroke="#000" stroke-width="0.8"/>
<line x1="74.5" y1="387.84" x2="78.1" y2="387.84" stroke="#000" stroke-width="0.8"/>
<line x1="196.9" y1="359.32" x2="196.9" y2="364.22" stroke="#000" stroke-width="0.8"/>
<line x1="195.1" y1="359.32" x2="198.7" y2="359.32" stroke="#000" stroke-width="0.8"/>
<line x1="195.1" y1="364.22" x2="198.7" y2="364.22" stroke="#000" stroke-width="0.8"/>
<rect x="34.8" y="404.16" width="3" height="3" fill="#000"/>
<rect x="47.1" y="399.26" width="3" height="3" fill="#000"/>
<rect x="74.8" y="380.99" width="3" height="3" fill="#000"/>
<rect x="195.4" y="360.05" width="3" height="3" fill="#000"/>
<line x1="43.5" y1="235.2" x2="51.5" y2="235.2" stroke="#000" stroke-width="1"/>
<circle cx="47.5" cy="235.2" r="1.1" fill="#000"/>
<text x="56.2" y="237.43" font-size="6.2" font-weight="normal" text-anchor="start">No Antibody</text>
<line x1="43.5" y1="243" x2="51.5" y2="243" stroke="#000" stroke-width="1"/>
<polygon points="47.5,241.74 46.29,243.88 48.71,243.88" fill="#000"/>
<text x="56.2" y="245.23" font-size="6.2" font-weight="normal" text-anchor="start">Rituximab</text>
<line x1="43.5" y1="251.3" x2="51.5" y2="251.3" stroke="#000" stroke-width="1"/>
<polygon points="47.5,252.56 46.29,250.42 48.71,250.42" fill="#000"/>
<text x="56.2" y="253.53" font-size="6.2" font-weight="normal" text-anchor="start">Rituximab + Ibrutinib 0.1uM</text>
<line x1="43.5" y1="259.1" x2="51.5" y2="259.1" stroke="#000" stroke-width="1"/>
<rect x="46.4" y="258" width="2.2" height="2.2" fill="#000"/>
<text x="56.2" y="261.33" font-size="6.2" font-weight="normal" text-anchor="start">Rituximab + Ibrutinib 1uM</text>
<polyline points="205.7,258 208.1,258 208.1,319.6 205.7,319.6" fill="none" stroke="#000" stroke-width="0.9" stroke-linejoin="miter"/>
<polyline points="210.9,259.1 213.3,259.1 213.3,292.4 210.9,292.4" fill="none" stroke="#000" stroke-width="0.9" stroke-linejoin="miter"/>
<circle cx="217.1" cy="277.8" r="1.01" fill="#000"/>
<circle cx="214.41" cy="302.3" r="1.01" fill="#000"/>
<circle cx="217.4" cy="302.3" r="1.01" fill="#000"/>
<text x="18.8" y="316.9" font-size="7.3" font-weight="bold" text-anchor="middle" transform="rotate(-90 18.8 316.9)">% lysis</text>
<text x="115" y="432.7" font-size="7" font-weight="bold" text-anchor="middle">NK:DHL4 Ratio</text>
<line x1="260.5" y1="226.25" x2="260.5" y2="406.9" stroke="#000" stroke-width="1.3"/>
<line x1="258.1" y1="406.25" x2="260.5" y2="406.25" stroke="#000" stroke-width="1.17"/>
<text x="257.5" y="408.81" font-size="6.4" font-weight="bold" text-anchor="end">0</text>
<line x1="258.1" y1="378.54" x2="260.5" y2="378.54" stroke="#000" stroke-width="1.17"/>
<text x="257.5" y="381.1" font-size="6.4" font-weight="bold" text-anchor="end">10</text>
<line x1="258.1" y1="350.83" x2="260.5" y2="350.83" stroke="#000" stroke-width="1.17"/>
<text x="257.5" y="353.39" font-size="6.4" font-weight="bold" text-anchor="end">20</text>
<line x1="258.1" y1="323.12" x2="260.5" y2="323.12" stroke="#000" stroke-width="1.17"/>
<text x="257.5" y="325.69" font-size="6.4" font-weight="bold" text-anchor="end">30</text>
<line x1="258.1" y1="295.42" x2="260.5" y2="295.42" stroke="#000" stroke-width="1.17"/>
<text x="257.5" y="297.98" font-size="6.4" font-weight="bold" text-anchor="end">40</text>
<line x1="258.1" y1="267.71" x2="260.5" y2="267.71" stroke="#000" stroke-width="1.17"/>
<text x="257.5" y="270.27" font-size="6.4" font-weight="bold" text-anchor="end">50</text>
<line x1="258.1" y1="240" x2="260.5" y2="240" stroke="#000" stroke-width="1.17"/>
<text x="257.5" y="242.56" font-size="6.4" font-weight="bold" text-anchor="end">60</text>
<line x1="260.5" y1="406.25" x2="423.4" y2="406.25" stroke="#000" stroke-width="1.4"/>
<line x1="263.2" y1="406.25" x2="263.2" y2="408.85" stroke="#000" stroke-width="1"/>
<line x1="275.1" y1="406.25" x2="275.1" y2="408.85" stroke="#000" stroke-width="1"/>
<line x1="302.5" y1="406.25" x2="302.5" y2="408.85" stroke="#000" stroke-width="1"/>
<line x1="422.7" y1="406.25" x2="422.7" y2="408.85" stroke="#000" stroke-width="1"/>
<text x="264" y="413.65" font-size="4.7" font-weight="bold" text-anchor="end" transform="rotate(-45 264 413.65)">0:1</text>
<text x="275.9" y="413.65" font-size="4.7" font-weight="bold" text-anchor="end" transform="rotate(-45 275.9 413.65)">1:1</text>
<text x="303.3" y="413.65" font-size="4.7" font-weight="bold" text-anchor="end" transform="rotate(-45 303.3 413.65)">10:1</text>
<text x="423.5" y="413.65" font-size="4.7" font-weight="bold" text-anchor="end" transform="rotate(-45 423.5 413.65)">90:1</text>
<polyline points="263.2,404.03 275.1,379.1 302.5,296.52 422.7,258.01" fill="none" stroke="#000" stroke-width="0.9" stroke-linejoin="miter"/>
<line x1="275.1" y1="372.17" x2="275.1" y2="386.02" stroke="#000" stroke-width="0.8"/>
<line x1="273.3" y1="372.17" x2="276.9" y2="372.17" stroke="#000" stroke-width="0.8"/>
<line x1="273.3" y1="386.02" x2="276.9" y2="386.02" stroke="#000" stroke-width="0.8"/>
<line x1="302.5" y1="288.21" x2="302.5" y2="304.28" stroke="#000" stroke-width="0.8"/>
<line x1="300.7" y1="288.21" x2="304.3" y2="288.21" stroke="#000" stroke-width="0.8"/>
<line x1="300.7" y1="304.28" x2="304.3" y2="304.28" stroke="#000" stroke-width="0.8"/>
<line x1="422.7" y1="237.23" x2="422.7" y2="277.68" stroke="#000" stroke-width="0.8"/>
<line x1="420.9" y1="237.23" x2="424.5" y2="237.23" stroke="#000" stroke-width="0.8"/>
<line x1="420.9" y1="277.68" x2="424.5" y2="277.68" stroke="#000" stroke-width="0.8"/>
<circle cx="263.2" cy="404.03" r="1.5" fill="#000"/>
<circle cx="275.1" cy="379.1" r="1.5" fill="#000"/>
<circle cx="302.5" cy="296.52" r="1.5" fill="#000"/>
<circle cx="422.7" cy="258.01" r="1.5" fill="#000"/>
<polyline points="263.2,404.59 275.1,394.34 302.5,336.98 422.7,309.27" fill="none" stroke="#000" stroke-width="0.9" stroke-linejoin="miter"/>
<line x1="275.1" y1="387.13" x2="275.1" y2="399.32" stroke="#000" stroke-width="0.8"/>
<line x1="273.3" y1="387.13" x2="276.9" y2="387.13" stroke="#000" stroke-width="0.8"/>
<line x1="273.3" y1="399.32" x2="276.9" y2="399.32" stroke="#000" stroke-width="0.8"/>
<line x1="302.5" y1="329.5" x2="302.5" y2="345.01" stroke="#000" stroke-width="0.8"/>
<line x1="300.7" y1="329.5" x2="304.3" y2="329.5" stroke="#000" stroke-width="0.8"/>
<line x1="300.7" y1="345.01" x2="304.3" y2="345.01" stroke="#000" stroke-width="0.8"/>
<line x1="422.7" y1="301.79" x2="422.7" y2="316.75" stroke="#000" stroke-width="0.8"/>
<line x1="420.9" y1="301.79" x2="424.5" y2="301.79" stroke="#000" stroke-width="0.8"/>
<line x1="420.9" y1="316.75" x2="424.5" y2="316.75" stroke="#000" stroke-width="0.8"/>
<polygon points="263.2,402.86 261.55,405.79 264.85,405.79" fill="#000"/>
<polygon points="275.1,392.61 273.45,395.54 276.75,395.54" fill="#000"/>
<polygon points="302.5,335.25 300.85,338.18 304.15,338.18" fill="#000"/>
<polygon points="422.7,307.55 421.05,310.47 424.35,310.47" fill="#000"/>
<polyline points="263.2,405.14 275.1,395.17 302.5,363.86 422.7,339.2" fill="none" stroke="#000" stroke-width="0.9" stroke-linejoin="miter"/>
<line x1="302.5" y1="357.48" x2="302.5" y2="368.84" stroke="#000" stroke-width="0.8"/>
<line x1="300.7" y1="357.48" x2="304.3" y2="357.48" stroke="#000" stroke-width="0.8"/>
<line x1="300.7" y1="368.84" x2="304.3" y2="368.84" stroke="#000" stroke-width="0.8"/>
<line x1="422.7" y1="331.71" x2="422.7" y2="346.68" stroke="#000" stroke-width="0.8"/>
<line x1="420.9" y1="331.71" x2="424.5" y2="331.71" stroke="#000" stroke-width="0.8"/>
<line x1="420.9" y1="346.68" x2="424.5" y2="346.68" stroke="#000" stroke-width="0.8"/>
<rect x="261.7" y="403.64" width="3" height="3" fill="#000"/>
<rect x="273.6" y="393.67" width="3" height="3" fill="#000"/>
<rect x="301" y="362.36" width="3" height="3" fill="#000"/>
<rect x="421.2" y="337.7" width="3" height="3" fill="#000"/>
<polyline points="263.2,405.7 275.1,402.65 302.5,385.19 422.7,363.86" fill="none" stroke="#000" stroke-width="0.9" stroke-linejoin="miter"/>
<line x1="302.5" y1="382.14" x2="302.5" y2="388.24" stroke="#000" stroke-width="0.8"/>
<line x1="300.7" y1="382.14" x2="304.3" y2="382.14" stroke="#000" stroke-width="0.8"/>
<line x1="300.7" y1="388.24" x2="304.3" y2="388.24" stroke="#000" stroke-width="0.8"/>
<line x1="422.7" y1="360.25" x2="422.7" y2="367.74" stroke="#000" stroke-width="0.8"/>
<line x1="420.9" y1="360.25" x2="424.5" y2="360.25" stroke="#000" stroke-width="0.8"/>
<line x1="420.9" y1="367.74" x2="424.5" y2="367.74" stroke="#000" stroke-width="0.8"/>
<circle cx="263.2" cy="405.7" r="1.5" fill="#000"/>
<circle cx="275.1" cy="402.65" r="1.5" fill="#000"/>
<circle cx="302.5" cy="385.19" r="1.5" fill="#000"/>
<circle cx="422.7" cy="363.86" r="1.5" fill="#000"/>
<line x1="274.8" y1="237.4" x2="282.3" y2="237.4" stroke="#000" stroke-width="1"/>
<circle cx="278.55" cy="237.4" r="1.1" fill="#000"/>
<text x="287.5" y="239.54" font-size="5.95" font-weight="normal" text-anchor="start">No Antibody</text>
<line x1="274.8" y1="244.8" x2="282.3" y2="244.8" stroke="#000" stroke-width="1"/>
<polygon points="278.55,243.54 277.34,245.68 279.76,245.68" fill="#000"/>
<text x="287.5" y="246.94" font-size="5.95" font-weight="normal" text-anchor="start">Trastuzumab</text>
<line x1="274.8" y1="252.2" x2="282.3" y2="252.2" stroke="#000" stroke-width="1"/>
<polygon points="278.55,253.46 277.34,251.32 279.76,251.32" fill="#000"/>
<text x="287.5" y="254.34" font-size="5.95" font-weight="normal" text-anchor="start">Trastuzumab + Ibrutinib 0.1uM</text>
<line x1="274.8" y1="259.3" x2="282.3" y2="259.3" stroke="#000" stroke-width="1"/>
<rect x="277.45" y="258.2" width="2.2" height="2.2" fill="#000"/>
<text x="287.5" y="261.44" font-size="5.95" font-weight="normal" text-anchor="start">Trastuzumab + Ibrutinib 1uM</text>
<polyline points="431.1,256.3 433.3,256.3 433.3,337 431.1,337" fill="none" stroke="#000" stroke-width="0.9" stroke-linejoin="miter"/>
<polyline points="436.3,257.1 438.7,257.1 438.7,306.5 436.3,306.5" fill="none" stroke="#000" stroke-width="0.9" stroke-linejoin="miter"/>
<circle cx="441.34" cy="284.3" r="0.93" fill="#000"/>
<circle cx="444.1" cy="284.3" r="0.93" fill="#000"/>
<circle cx="446.86" cy="284.3" r="0.93" fill="#000"/>
<circle cx="436.36" cy="317.8" r="0.93" fill="#000"/>
<circle cx="439.12" cy="317.8" r="0.93" fill="#000"/>
<circle cx="441.88" cy="317.8" r="0.93" fill="#000"/>
<circle cx="444.64" cy="317.8" r="0.93" fill="#000"/>
<text x="244.8" y="315.4" font-size="7.3" font-weight="bold" text-anchor="middle" transform="rotate(-90 244.8 315.4)">% lysis</text>
<text x="341.3" y="432.4" font-size="6.85" font-weight="bold" text-anchor="middle">NK:HER18 Ratio</text>
<text x="-1.3" y="451.7" font-size="11.3" font-weight="bold" text-anchor="start">D</text>
<line x1="31.1" y1="446.25" x2="31.1" y2="602.4" stroke="#000" stroke-width="1.3"/>
<line x1="28.5" y1="601.75" x2="31.1" y2="601.75" stroke="#000" stroke-width="1.17"/>
<text x="28.1" y="604.35" font-size="6.5" font-weight="bold" text-anchor="end">0</text>
<line x1="28.5" y1="570.8" x2="31.1" y2="570.8" stroke="#000" stroke-width="1.17"/>
<text x="28.1" y="573.4" font-size="6.5" font-weight="bold" text-anchor="end">20</text>
<line x1="28.5" y1="539.85" x2="31.1" y2="539.85" stroke="#000" stroke-width="1.17"/>
<text x="28.1" y="542.45" font-size="6.5" font-weight="bold" text-anchor="end">40</text>
<line x1="28.5" y1="508.9" x2="31.1" y2="508.9" stroke="#000" stroke-width="1.17"/>
<text x="28.1" y="511.5" font-size="6.5" font-weight="bold" text-anchor="end">60</text>
<line x1="28.5" y1="477.95" x2="31.1" y2="477.95" stroke="#000" stroke-width="1.17"/>
<text x="28.1" y="480.55" font-size="6.5" font-weight="bold" text-anchor="end">80</text>
<line x1="28.5" y1="447" x2="31.1" y2="447" stroke="#000" stroke-width="1.17"/>
<text x="28.1" y="449.6" font-size="6.5" font-weight="bold" text-anchor="end">100</text>
<line x1="31.1" y1="601.75" x2="174" y2="601.75" stroke="#000" stroke-width="1.15"/>
<line x1="174" y1="599.95" x2="174" y2="603.55" stroke="#000" stroke-width="0.8"/>
<line x1="181.4" y1="601.75" x2="197.6" y2="601.75" stroke="#000" stroke-width="1.15"/>
<line x1="181.4" y1="599.95" x2="181.4" y2="603.55" stroke="#000" stroke-width="0.8"/>
<line x1="41.25" y1="601.75" x2="41.25" y2="604.35" stroke="#000" stroke-width="1"/>
<line x1="51.25" y1="601.75" x2="51.25" y2="604.35" stroke="#000" stroke-width="1"/>
<line x1="143" y1="601.75" x2="143" y2="604.35" stroke="#000" stroke-width="1"/>
<line x1="197" y1="601.75" x2="197" y2="604.35" stroke="#000" stroke-width="1"/>
<text x="41.25" y="611.4" font-size="6.5" font-weight="bold" text-anchor="middle">0</text>
<text x="51.25" y="611.4" font-size="6.5" font-weight="bold" text-anchor="middle">0.1</text>
<text x="143" y="611.4" font-size="6.5" font-weight="bold" text-anchor="middle">1</text>
<text x="197" y="611.4" font-size="6.5" font-weight="bold" text-anchor="middle">10</text>
<polyline points="41.25,583.95 51.25,491.1 143,465.57 174,469.28" fill="none" stroke="#000" stroke-width="0.9" stroke-linejoin="miter"/>
<polyline points="181.4,471.45 197,474.86" fill="none" stroke="#000" stroke-width="0.9" stroke-linejoin="miter"/>
<line x1="41.25" y1="576.22" x2="41.25" y2="591.69" stroke="#000" stroke-width="0.7"/>
<line x1="39.75" y1="576.22" x2="42.75" y2="576.22" stroke="#000" stroke-width="0.7"/>
<line x1="39.75" y1="591.69" x2="42.75" y2="591.69" stroke="#000" stroke-width="0.7"/>
<line x1="51.25" y1="478.72" x2="51.25" y2="502.71" stroke="#000" stroke-width="0.7"/>
<line x1="49.75" y1="478.72" x2="52.75" y2="478.72" stroke="#000" stroke-width="0.7"/>
<line x1="49.75" y1="502.71" x2="52.75" y2="502.71" stroke="#000" stroke-width="0.7"/>
<line x1="143" y1="457.83" x2="143" y2="471.76" stroke="#000" stroke-width="0.7"/>
<line x1="141.5" y1="457.83" x2="144.5" y2="457.83" stroke="#000" stroke-width="0.7"/>
<line x1="141.5" y1="471.76" x2="144.5" y2="471.76" stroke="#000" stroke-width="0.7"/>
<line x1="197" y1="467.89" x2="197" y2="478.72" stroke="#000" stroke-width="0.7"/>
<line x1="195.5" y1="467.89" x2="198.5" y2="467.89" stroke="#000" stroke-width="0.7"/>
<line x1="195.5" y1="478.72" x2="198.5" y2="478.72" stroke="#000" stroke-width="0.7"/>
<polygon points="41.25,581.65 39.05,585.55 43.45,585.55" fill="#000"/>
<polygon points="51.25,488.8 49.05,492.7 53.45,492.7" fill="#000"/>
<polygon points="143,463.27 140.8,467.17 145.2,467.17" fill="#000"/>
<polygon points="197,472.56 194.8,476.46 199.2,476.46" fill="#000"/>
<polyline points="41.25,596.33 51.25,574.2 143,559.19 174,560.59" fill="none" stroke="#000" stroke-width="0.9" stroke-linejoin="miter"/>
<polyline points="181.4,560.9 197,561.51" fill="none" stroke="#000" stroke-width="0.9" stroke-linejoin="miter"/>
<line x1="51.25" y1="559.97" x2="51.25" y2="587.05" stroke="#000" stroke-width="0.7"/>
<line x1="49.75" y1="559.97" x2="52.75" y2="559.97" stroke="#000" stroke-width="0.7"/>
<line x1="49.75" y1="587.05" x2="52.75" y2="587.05" stroke="#000" stroke-width="0.7"/>
<line x1="143" y1="542.33" x2="143" y2="575.29" stroke="#000" stroke-width="0.7"/>
<line x1="141.5" y1="542.33" x2="144.5" y2="542.33" stroke="#000" stroke-width="0.7"/>
<line x1="141.5" y1="575.29" x2="144.5" y2="575.29" stroke="#000" stroke-width="0.7"/>
<line x1="197" y1="545.58" x2="197" y2="576.68" stroke="#000" stroke-width="0.7"/>
<line x1="195.5" y1="545.58" x2="198.5" y2="545.58" stroke="#000" stroke-width="0.7"/>
<line x1="195.5" y1="576.68" x2="198.5" y2="576.68" stroke="#000" stroke-width="0.7"/>
<polygon points="41.25,593.92 38.94,598.01 43.56,598.01" fill="#fff" stroke="#000" stroke-width="0.95"/>
<polygon points="51.25,571.79 48.94,575.88 53.56,575.88" fill="#fff" stroke="#000" stroke-width="0.95"/>
<polygon points="143,556.78 140.69,560.87 145.31,560.87" fill="#fff" stroke="#000" stroke-width="0.95"/>
<polygon points="197,559.1 194.69,563.19 199.31,563.19" fill="#fff" stroke="#000" stroke-width="0.95"/>
<line x1="36.3" y1="448.3" x2="47.5" y2="448.3" stroke="#000" stroke-width="0.9"/>
<polygon points="41.9,446.23 39.92,449.74 43.88,449.74" fill="#000"/>
<text x="51.9" y="451" font-size="7.5" font-weight="normal" text-anchor="start">NK:Raji, CGI-1746 (1uM)</text>
<line x1="36.3" y1="460.3" x2="47.5" y2="460.3" stroke="#000" stroke-width="0.9"/>
<polygon points="41.9,458.23 39.92,461.74 43.88,461.74" fill="#fff" stroke="#000" stroke-width="0.95"/>
<text x="51.9" y="463" font-size="7.5" font-weight="normal" text-anchor="start">NK:Raji, Ibrutinib (1uM)</text>
<polyline points="200.4,475 203.2,475 203.2,562 200.4,562" fill="none" stroke="#000" stroke-width="0.8" stroke-linejoin="miter"/>
<circle cx="207.4" cy="519" r="1.01" fill="#000"/>
<text x="9.1" y="523.3" font-size="7.6" font-weight="bold" text-anchor="middle" transform="rotate(-90 9.1 523.3)">% lysis</text>
<text x="113.7" y="622.4" font-size="7.3" font-weight="bold" text-anchor="middle">Rituximab Concentration (ug/mL)</text>
<text x="114.4" y="631.2" font-size="7.3" font-weight="bold" text-anchor="middle">25:1 E:T Ratio</text>
<line x1="263.9" y1="448.75" x2="263.9" y2="602.65" stroke="#000" stroke-width="1.3"/>
<line x1="261.3" y1="602" x2="263.9" y2="602" stroke="#000" stroke-width="1.17"/>
<text x="260.9" y="604.6" font-size="6.5" font-weight="bold" text-anchor="end">0</text>
<line x1="261.3" y1="571.5" x2="263.9" y2="571.5" stroke="#000" stroke-width="1.17"/>
<text x="260.9" y="574.1" font-size="6.5" font-weight="bold" text-anchor="end">10</text>
<line x1="261.3" y1="541" x2="263.9" y2="541" stroke="#000" stroke-width="1.17"/>
<text x="260.9" y="543.6" font-size="6.5" font-weight="bold" text-anchor="end">20</text>
<line x1="261.3" y1="510.5" x2="263.9" y2="510.5" stroke="#000" stroke-width="1.17"/>
<text x="260.9" y="513.1" font-size="6.5" font-weight="bold" text-anchor="end">30</text>
<line x1="261.3" y1="480" x2="263.9" y2="480" stroke="#000" stroke-width="1.17"/>
<text x="260.9" y="482.6" font-size="6.5" font-weight="bold" text-anchor="end">40</text>
<line x1="261.3" y1="449.5" x2="263.9" y2="449.5" stroke="#000" stroke-width="1.17"/>
<text x="260.9" y="452.1" font-size="6.5" font-weight="bold" text-anchor="end">50</text>
<line x1="263.9" y1="602" x2="404" y2="602" stroke="#000" stroke-width="1.15"/>
<line x1="404" y1="600.2" x2="404" y2="603.8" stroke="#000" stroke-width="0.8"/>
<line x1="412" y1="602" x2="428.1" y2="602" stroke="#000" stroke-width="1.15"/>
<line x1="412" y1="600.2" x2="412" y2="603.8" stroke="#000" stroke-width="0.8"/>
<line x1="273.75" y1="602" x2="273.75" y2="604.6" stroke="#000" stroke-width="1"/>
<line x1="283.25" y1="602" x2="283.25" y2="604.6" stroke="#000" stroke-width="1"/>
<line x1="373.8" y1="602" x2="373.8" y2="604.6" stroke="#000" stroke-width="1"/>
<line x1="427.5" y1="602" x2="427.5" y2="604.6" stroke="#000" stroke-width="1"/>
<text x="273.75" y="611.4" font-size="6.5" font-weight="bold" text-anchor="middle">0</text>
<text x="283.25" y="611.4" font-size="6.5" font-weight="bold" text-anchor="middle">0.1</text>
<text x="373.8" y="611.4" font-size="6.5" font-weight="bold" text-anchor="middle">1</text>
<text x="427.5" y="611.4" font-size="6.5" font-weight="bold" text-anchor="middle">10</text>
<polyline points="273.75,584.31 283.25,551.37 373.8,519.65 404,502.88" fill="none" stroke="#000" stroke-width="0.9" stroke-linejoin="miter"/>
<polyline points="412,498.3 427.5,490.68" fill="none" stroke="#000" stroke-width="0.9" stroke-linejoin="miter"/>
<line x1="273.75" y1="579.74" x2="273.75" y2="587.97" stroke="#000" stroke-width="0.7"/>
<line x1="272.25" y1="579.74" x2="275.25" y2="579.74" stroke="#000" stroke-width="0.7"/>
<line x1="272.25" y1="587.97" x2="275.25" y2="587.97" stroke="#000" stroke-width="0.7"/>
<line x1="283.25" y1="534.9" x2="283.25" y2="567.53" stroke="#000" stroke-width="0.7"/>
<line x1="281.75" y1="534.9" x2="284.75" y2="534.9" stroke="#000" stroke-width="0.7"/>
<line x1="281.75" y1="567.53" x2="284.75" y2="567.53" stroke="#000" stroke-width="0.7"/>
<line x1="373.8" y1="486.71" x2="373.8" y2="550.76" stroke="#000" stroke-width="0.7"/>
<line x1="372.3" y1="486.71" x2="375.3" y2="486.71" stroke="#000" stroke-width="0.7"/>
<line x1="372.3" y1="550.76" x2="375.3" y2="550.76" stroke="#000" stroke-width="0.7"/>
<line x1="427.5" y1="463.23" x2="427.5" y2="517.51" stroke="#000" stroke-width="0.7"/>
<line x1="426" y1="463.23" x2="429" y2="463.23" stroke="#000" stroke-width="0.7"/>
<line x1="426" y1="517.51" x2="429" y2="517.51" stroke="#000" stroke-width="0.7"/>
<rect x="272.05" y="582.61" width="3.4" height="3.4" fill="#000"/>
<rect x="281.55" y="549.67" width="3.4" height="3.4" fill="#000"/>
<rect x="372.1" y="517.95" width="3.4" height="3.4" fill="#000"/>
<rect x="425.8" y="488.98" width="3.4" height="3.4" fill="#000"/>
<polyline points="273.75,576.08 283.25,579.43 373.8,569.98 404,570.89" fill="none" stroke="#000" stroke-width="0.9" stroke-linejoin="miter"/>
<polyline points="412,571.2 427.5,571.5" fill="none" stroke="#000" stroke-width="0.9" stroke-linejoin="miter"/>
<line x1="283.25" y1="574.25" x2="283.25" y2="584.62" stroke="#000" stroke-width="0.7"/>
<line x1="281.75" y1="574.25" x2="284.75" y2="574.25" stroke="#000" stroke-width="0.7"/>
<line x1="281.75" y1="584.62" x2="284.75" y2="584.62" stroke="#000" stroke-width="0.7"/>
<line x1="373.8" y1="566.62" x2="373.8" y2="573.63" stroke="#000" stroke-width="0.7"/>
<line x1="372.3" y1="566.62" x2="375.3" y2="566.62" stroke="#000" stroke-width="0.7"/>
<line x1="372.3" y1="573.63" x2="375.3" y2="573.63" stroke="#000" stroke-width="0.7"/>
<line x1="427.5" y1="565.4" x2="427.5" y2="577.9" stroke="#000" stroke-width="0.7"/>
<line x1="426" y1="565.4" x2="429" y2="565.4" stroke="#000" stroke-width="0.7"/>
<line x1="426" y1="577.9" x2="429" y2="577.9" stroke="#000" stroke-width="0.7"/>
<rect x="271.75" y="574.08" width="4" height="4" fill="#fff" stroke="#000" stroke-width="0.95"/>
<rect x="281.25" y="577.43" width="4" height="4" fill="#fff" stroke="#000" stroke-width="0.95"/>
<rect x="371.8" y="567.98" width="4" height="4" fill="#fff" stroke="#000" stroke-width="0.95"/>
<rect x="425.5" y="569.5" width="4" height="4" fill="#fff" stroke="#000" stroke-width="0.95"/>
<line x1="270.8" y1="454.7" x2="282.1" y2="454.7" stroke="#000" stroke-width="0.9"/>
<rect x="274.55" y="452.8" width="3.8" height="3.8" fill="#000"/>
<text x="287" y="457.38" font-size="7.45" font-weight="normal" text-anchor="start">Autologous CLL, CGI-1746 (1uM)</text>
<line x1="270.8" y1="465.7" x2="282.1" y2="465.7" stroke="#000" stroke-width="0.9"/>
<rect x="274.65" y="463.9" width="3.6" height="3.6" fill="#fff" stroke="#000" stroke-width="0.95"/>
<text x="287" y="468.38" font-size="7.45" font-weight="normal" text-anchor="start">Autologous CLL, Ibrutinib (1uM)</text>
<polyline points="431.2,490 434,490 434,571 431.2,571" fill="none" stroke="#000" stroke-width="0.8" stroke-linejoin="miter"/>
<circle cx="437.4" cy="527.7" r="1.01" fill="#000"/>
<text x="246.1" y="524.8" font-size="7.5" font-weight="bold" text-anchor="middle" transform="rotate(-90 246.1 524.8)">% lysis</text>
<text x="346.3" y="622.4" font-size="7.3" font-weight="bold" text-anchor="middle">Rituximab Concentration (ug/mL)</text>
<text x="346" y="631.2" font-size="7.3" font-weight="bold" text-anchor="middle">25:1 E:T Ratio</text>
<text x="17.2" y="651.7" font-size="11.3" font-weight="bold" text-anchor="start">E</text>
<line x1="41.2" y1="656" x2="41.2" y2="828.15" stroke="#000" stroke-width="1.3"/>
<line x1="38.9" y1="827.5" x2="41.2" y2="827.5" stroke="#000" stroke-width="1.17"/>
<text x="38.1" y="830.02" font-size="6.3" font-weight="bold" text-anchor="end">0.0</text>
<line x1="38.9" y1="808.75" x2="41.2" y2="808.75" stroke="#000" stroke-width="1.17"/>
<text x="38.1" y="811.27" font-size="6.3" font-weight="bold" text-anchor="end">0.3</text>
<line x1="38.9" y1="790" x2="41.2" y2="790" stroke="#000" stroke-width="1.17"/>
<text x="38.1" y="792.52" font-size="6.3" font-weight="bold" text-anchor="end">0.6</text>
<line x1="38.9" y1="771.25" x2="41.2" y2="771.25" stroke="#000" stroke-width="1.17"/>
<text x="38.1" y="773.77" font-size="6.3" font-weight="bold" text-anchor="end">0.9</text>
<line x1="38.9" y1="752.5" x2="41.2" y2="752.5" stroke="#000" stroke-width="1.17"/>
<text x="38.1" y="755.02" font-size="6.3" font-weight="bold" text-anchor="end">1.2</text>
<line x1="38.9" y1="733.75" x2="41.2" y2="733.75" stroke="#000" stroke-width="1.17"/>
<text x="38.1" y="736.27" font-size="6.3" font-weight="bold" text-anchor="end">1.5</text>
<line x1="38.9" y1="715" x2="41.2" y2="715" stroke="#000" stroke-width="1.17"/>
<text x="38.1" y="717.52" font-size="6.3" font-weight="bold" text-anchor="end">1.8</text>
<line x1="38.9" y1="696.25" x2="41.2" y2="696.25" stroke="#000" stroke-width="1.17"/>
<text x="38.1" y="698.77" font-size="6.3" font-weight="bold" text-anchor="end">2.1</text>
<line x1="38.9" y1="677.5" x2="41.2" y2="677.5" stroke="#000" stroke-width="1.17"/>
<text x="38.1" y="680.02" font-size="6.3" font-weight="bold" text-anchor="end">2.4</text>
<line x1="38.9" y1="658.75" x2="41.2" y2="658.75" stroke="#000" stroke-width="1.17"/>
<text x="38.1" y="661.27" font-size="6.3" font-weight="bold" text-anchor="end">2.7</text>
<line x1="39.8" y1="821.25" x2="41.2" y2="821.25" stroke="#000" stroke-width="0.8"/>
<line x1="39.8" y1="815" x2="41.2" y2="815" stroke="#000" stroke-width="0.8"/>
<line x1="39.8" y1="808.75" x2="41.2" y2="808.75" stroke="#000" stroke-width="0.8"/>
<line x1="39.8" y1="802.5" x2="41.2" y2="802.5" stroke="#000" stroke-width="0.8"/>
<line x1="39.8" y1="796.25" x2="41.2" y2="796.25" stroke="#000" stroke-width="0.8"/>
<line x1="39.8" y1="790" x2="41.2" y2="790" stroke="#000" stroke-width="0.8"/>
<line x1="39.8" y1="783.75" x2="41.2" y2="783.75" stroke="#000" stroke-width="0.8"/>
<line x1="39.8" y1="777.5" x2="41.2" y2="777.5" stroke="#000" stroke-width="0.8"/>
<line x1="39.8" y1="771.25" x2="41.2" y2="771.25" stroke="#000" stroke-width="0.8"/>
<line x1="39.8" y1="765" x2="41.2" y2="765" stroke="#000" stroke-width="0.8"/>
<line x1="39.8" y1="758.75" x2="41.2" y2="758.75" stroke="#000" stroke-width="0.8"/>
<line x1="39.8" y1="752.5" x2="41.2" y2="752.5" stroke="#000" stroke-width="0.8"/>
<line x1="39.8" y1="746.25" x2="41.2" y2="746.25" stroke="#000" stroke-width="0.8"/>
<line x1="39.8" y1="740" x2="41.2" y2="740" stroke="#000" stroke-width="0.8"/>
<line x1="39.8" y1="733.75" x2="41.2" y2="733.75" stroke="#000" stroke-width="0.8"/>
<line x1="39.8" y1="727.5" x2="41.2" y2="727.5" stroke="#000" stroke-width="0.8"/>
<line x1="39.8" y1="721.25" x2="41.2" y2="721.25" stroke="#000" stroke-width="0.8"/>
<line x1="39.8" y1="715" x2="41.2" y2="715" stroke="#000" stroke-width="0.8"/>
<line x1="39.8" y1="708.75" x2="41.2" y2="708.75" stroke="#000" stroke-width="0.8"/>
<line x1="39.8" y1="702.5" x2="41.2" y2="702.5" stroke="#000" stroke-width="0.8"/>
<line x1="39.8" y1="696.25" x2="41.2" y2="696.25" stroke="#000" stroke-width="0.8"/>
<line x1="39.8" y1="690" x2="41.2" y2="690" stroke="#000" stroke-width="0.8"/>
<line x1="39.8" y1="683.75" x2="41.2" y2="683.75" stroke="#000" stroke-width="0.8"/>
<line x1="39.8" y1="677.5" x2="41.2" y2="677.5" stroke="#000" stroke-width="0.8"/>
<line x1="39.8" y1="671.25" x2="41.2" y2="671.25" stroke="#000" stroke-width="0.8"/>
<line x1="39.8" y1="665" x2="41.2" y2="665" stroke="#000" stroke-width="0.8"/>
<line x1="39.8" y1="658.75" x2="41.2" y2="658.75" stroke="#000" stroke-width="0.8"/>
<line x1="41.2" y1="827.5" x2="214.94" y2="827.5" stroke="#000" stroke-width="1.4"/>
<line x1="41.45" y1="827.5" x2="41.45" y2="830.1" stroke="#000" stroke-width="1"/>
<line x1="45.05" y1="827.5" x2="45.05" y2="829.4" stroke="#000" stroke-width="0.85"/>
<line x1="48.66" y1="827.5" x2="48.66" y2="829.4" stroke="#000" stroke-width="0.85"/>
<line x1="52.26" y1="827.5" x2="52.26" y2="829.4" stroke="#000" stroke-width="0.85"/>
<line x1="55.87" y1="827.5" x2="55.87" y2="830.1" stroke="#000" stroke-width="1"/>
<line x1="59.47" y1="827.5" x2="59.47" y2="829.4" stroke="#000" stroke-width="0.85"/>
<line x1="63.07" y1="827.5" x2="63.07" y2="829.4" stroke="#000" stroke-width="0.85"/>
<line x1="66.68" y1="827.5" x2="66.68" y2="829.4" stroke="#000" stroke-width="0.85"/>
<line x1="70.28" y1="827.5" x2="70.28" y2="830.1" stroke="#000" stroke-width="1"/>
<line x1="73.89" y1="827.5" x2="73.89" y2="829.4" stroke="#000" stroke-width="0.85"/>
<line x1="77.49" y1="827.5" x2="77.49" y2="829.4" stroke="#000" stroke-width="0.85"/>
<line x1="81.09" y1="827.5" x2="81.09" y2="829.4" stroke="#000" stroke-width="0.85"/>
<line x1="84.7" y1="827.5" x2="84.7" y2="830.1" stroke="#000" stroke-width="1"/>
<line x1="88.3" y1="827.5" x2="88.3" y2="829.4" stroke="#000" stroke-width="0.85"/>
<line x1="91.91" y1="827.5" x2="91.91" y2="829.4" stroke="#000" stroke-width="0.85"/>
<line x1="95.51" y1="827.5" x2="95.51" y2="829.4" stroke="#000" stroke-width="0.85"/>
<line x1="99.11" y1="827.5" x2="99.11" y2="830.1" stroke="#000" stroke-width="1"/>
<line x1="102.72" y1="827.5" x2="102.72" y2="829.4" stroke="#000" stroke-width="0.85"/>
<line x1="106.32" y1="827.5" x2="106.32" y2="829.4" stroke="#000" stroke-width="0.85"/>
<line x1="109.93" y1="827.5" x2="109.93" y2="829.4" stroke="#000" stroke-width="0.85"/>
<line x1="113.53" y1="827.5" x2="113.53" y2="830.1" stroke="#000" stroke-width="1"/>
<line x1="117.13" y1="827.5" x2="117.13" y2="829.4" stroke="#000" stroke-width="0.85"/>
<line x1="120.74" y1="827.5" x2="120.74" y2="829.4" stroke="#000" stroke-width="0.85"/>
<line x1="124.34" y1="827.5" x2="124.34" y2="829.4" stroke="#000" stroke-width="0.85"/>
<line x1="127.95" y1="827.5" x2="127.95" y2="830.1" stroke="#000" stroke-width="1"/>
<line x1="131.55" y1="827.5" x2="131.55" y2="829.4" stroke="#000" stroke-width="0.85"/>
<line x1="135.15" y1="827.5" x2="135.15" y2="829.4" stroke="#000" stroke-width="0.85"/>
<line x1="138.76" y1="827.5" x2="138.76" y2="829.4" stroke="#000" stroke-width="0.85"/>
<line x1="142.36" y1="827.5" x2="142.36" y2="830.1" stroke="#000" stroke-width="1"/>
<line x1="145.97" y1="827.5" x2="145.97" y2="829.4" stroke="#000" stroke-width="0.85"/>
<line x1="149.57" y1="827.5" x2="149.57" y2="829.4" stroke="#000" stroke-width="0.85"/>
<line x1="153.17" y1="827.5" x2="153.17" y2="829.4" stroke="#000" stroke-width="0.85"/>
<line x1="156.78" y1="827.5" x2="156.78" y2="830.1" stroke="#000" stroke-width="1"/>
<line x1="160.38" y1="827.5" x2="160.38" y2="829.4" stroke="#000" stroke-width="0.85"/>
<line x1="163.99" y1="827.5" x2="163.99" y2="829.4" stroke="#000" stroke-width="0.85"/>
<line x1="167.59" y1="827.5" x2="167.59" y2="829.4" stroke="#000" stroke-width="0.85"/>
<line x1="171.19" y1="827.5" x2="171.19" y2="830.1" stroke="#000" stroke-width="1"/>
<line x1="174.8" y1="827.5" x2="174.8" y2="829.4" stroke="#000" stroke-width="0.85"/>
<line x1="178.4" y1="827.5" x2="178.4" y2="829.4" stroke="#000" stroke-width="0.85"/>
<line x1="182.01" y1="827.5" x2="182.01" y2="829.4" stroke="#000" stroke-width="0.85"/>
<line x1="185.61" y1="827.5" x2="185.61" y2="830.1" stroke="#000" stroke-width="1"/>
<line x1="189.21" y1="827.5" x2="189.21" y2="829.4" stroke="#000" stroke-width="0.85"/>
<line x1="192.82" y1="827.5" x2="192.82" y2="829.4" stroke="#000" stroke-width="0.85"/>
<line x1="196.42" y1="827.5" x2="196.42" y2="829.4" stroke="#000" stroke-width="0.85"/>
<line x1="200.03" y1="827.5" x2="200.03" y2="830.1" stroke="#000" stroke-width="1"/>
<line x1="203.63" y1="827.5" x2="203.63" y2="829.4" stroke="#000" stroke-width="0.85"/>
<line x1="207.23" y1="827.5" x2="207.23" y2="829.4" stroke="#000" stroke-width="0.85"/>
<line x1="210.84" y1="827.5" x2="210.84" y2="829.4" stroke="#000" stroke-width="0.85"/>
<line x1="214.44" y1="827.5" x2="214.44" y2="830.1" stroke="#000" stroke-width="1"/>
<text x="41.45" y="836.3" font-size="6" font-weight="bold" text-anchor="middle">4</text>
<text x="55.87" y="836.3" font-size="6" font-weight="bold" text-anchor="middle">8</text>
<text x="70.28" y="836.3" font-size="6" font-weight="bold" text-anchor="middle">12</text>
<text x="84.7" y="836.3" font-size="6" font-weight="bold" text-anchor="middle">16</text>
<text x="99.11" y="836.3" font-size="6" font-weight="bold" text-anchor="middle">20</text>
<text x="113.53" y="836.3" font-size="6" font-weight="bold" text-anchor="middle">24</text>
<text x="127.95" y="836.3" font-size="6" font-weight="bold" text-anchor="middle">28</text>
<text x="142.36" y="836.3" font-size="6" font-weight="bold" text-anchor="middle">32</text>
<text x="156.78" y="836.3" font-size="6" font-weight="bold" text-anchor="middle">36</text>
<text x="171.19" y="836.3" font-size="6" font-weight="bold" text-anchor="middle">40</text>
<text x="185.61" y="836.3" font-size="6" font-weight="bold" text-anchor="middle">44</text>
<text x="200.03" y="836.3" font-size="6" font-weight="bold" text-anchor="middle">48</text>
<text x="214.44" y="836.3" font-size="6" font-weight="bold" text-anchor="middle">52</text>
<polyline points="41.45,827.5 55.87,818.75 70.28,814.38 77.49,806.88 91.91,796.88 106.32,786.88 120.74,775 135.15,756.88 149.57,741.25 163.99,725 178.4,708.75 192.82,691.25 207.23,678.75" fill="none" stroke="#000" stroke-width="1.05" stroke-linejoin="miter"/>
<line x1="55.87" y1="817.5" x2="55.87" y2="820" stroke="#000" stroke-width="0.85"/>
<line x1="53.97" y1="817.5" x2="57.77" y2="817.5" stroke="#000" stroke-width="0.85"/>
<line x1="53.97" y1="820" x2="57.77" y2="820" stroke="#000" stroke-width="0.85"/>
<line x1="70.28" y1="813.12" x2="70.28" y2="815.62" stroke="#000" stroke-width="0.85"/>
<line x1="68.38" y1="813.12" x2="72.18" y2="813.12" stroke="#000" stroke-width="0.85"/>
<line x1="68.38" y1="815.62" x2="72.18" y2="815.62" stroke="#000" stroke-width="0.85"/>
<line x1="77.49" y1="804.38" x2="77.49" y2="809.38" stroke="#000" stroke-width="0.85"/>
<line x1="75.59" y1="804.38" x2="79.39" y2="804.38" stroke="#000" stroke-width="0.85"/>
<line x1="75.59" y1="809.38" x2="79.39" y2="809.38" stroke="#000" stroke-width="0.85"/>
<line x1="91.91" y1="793.12" x2="91.91" y2="800.62" stroke="#000" stroke-width="0.85"/>
<line x1="90.01" y1="793.12" x2="93.81" y2="793.12" stroke="#000" stroke-width="0.85"/>
<line x1="90.01" y1="800.62" x2="93.81" y2="800.62" stroke="#000" stroke-width="0.85"/>
<line x1="106.32" y1="780.62" x2="106.32" y2="793.12" stroke="#000" stroke-width="0.85"/>
<line x1="104.42" y1="780.62" x2="108.22" y2="780.62" stroke="#000" stroke-width="0.85"/>
<line x1="104.42" y1="793.12" x2="108.22" y2="793.12" stroke="#000" stroke-width="0.85"/>
<line x1="120.74" y1="768.75" x2="120.74" y2="781.25" stroke="#000" stroke-width="0.85"/>
<line x1="118.84" y1="768.75" x2="122.64" y2="768.75" stroke="#000" stroke-width="0.85"/>
<line x1="118.84" y1="781.25" x2="122.64" y2="781.25" stroke="#000" stroke-width="0.85"/>
<line x1="135.15" y1="749.38" x2="135.15" y2="764.38" stroke="#000" stroke-width="0.85"/>
<line x1="133.25" y1="749.38" x2="137.05" y2="749.38" stroke="#000" stroke-width="0.85"/>
<line x1="133.25" y1="764.38" x2="137.05" y2="764.38" stroke="#000" stroke-width="0.85"/>
<line x1="149.57" y1="733.12" x2="149.57" y2="749.38" stroke="#000" stroke-width="0.85"/>
<line x1="147.67" y1="733.12" x2="151.47" y2="733.12" stroke="#000" stroke-width="0.85"/>
<line x1="147.67" y1="749.38" x2="151.47" y2="749.38" stroke="#000" stroke-width="0.85"/>
<line x1="163.99" y1="713.75" x2="163.99" y2="736.25" stroke="#000" stroke-width="0.85"/>
<line x1="162.09" y1="713.75" x2="165.89" y2="713.75" stroke="#000" stroke-width="0.85"/>
<line x1="162.09" y1="736.25" x2="165.89" y2="736.25" stroke="#000" stroke-width="0.85"/>
<line x1="178.4" y1="696.88" x2="178.4" y2="720.62" stroke="#000" stroke-width="0.85"/>
<line x1="176.5" y1="696.88" x2="180.3" y2="696.88" stroke="#000" stroke-width="0.85"/>
<line x1="176.5" y1="720.62" x2="180.3" y2="720.62" stroke="#000" stroke-width="0.85"/>
<line x1="192.82" y1="678.75" x2="192.82" y2="703.75" stroke="#000" stroke-width="0.85"/>
<line x1="190.92" y1="678.75" x2="194.72" y2="678.75" stroke="#000" stroke-width="0.85"/>
<line x1="190.92" y1="703.75" x2="194.72" y2="703.75" stroke="#000" stroke-width="0.85"/>
<line x1="207.23" y1="665" x2="207.23" y2="692.5" stroke="#000" stroke-width="0.85"/>
<line x1="205.33" y1="665" x2="209.13" y2="665" stroke="#000" stroke-width="0.85"/>
<line x1="205.33" y1="692.5" x2="209.13" y2="692.5" stroke="#000" stroke-width="0.85"/>
<circle cx="41.45" cy="827.5" r="1.45" fill="#000"/>
<circle cx="55.87" cy="818.75" r="1.45" fill="#000"/>
<circle cx="70.28" cy="814.38" r="1.45" fill="#000"/>
<circle cx="77.49" cy="806.88" r="1.45" fill="#000"/>
<circle cx="91.91" cy="796.88" r="1.45" fill="#000"/>
<circle cx="106.32" cy="786.88" r="1.45" fill="#000"/>
<circle cx="120.74" cy="775" r="1.45" fill="#000"/>
<circle cx="135.15" cy="756.88" r="1.45" fill="#000"/>
<circle cx="149.57" cy="741.25" r="1.45" fill="#000"/>
<circle cx="163.99" cy="725" r="1.45" fill="#000"/>
<circle cx="178.4" cy="708.75" r="1.45" fill="#000"/>
<circle cx="192.82" cy="691.25" r="1.45" fill="#000"/>
<circle cx="207.23" cy="678.75" r="1.45" fill="#000"/>
<polyline points="41.45,827.5 55.87,819.38 70.28,815 77.49,808.12 91.91,798.75 106.32,790 120.74,776.25 135.15,761.25 149.57,748.75 163.99,728.75 178.4,710 192.82,693.75 207.23,681.25" fill="none" stroke="#000" stroke-width="1.05" stroke-linejoin="miter"/>
<line x1="55.87" y1="818.12" x2="55.87" y2="820.62" stroke="#000" stroke-width="0.85"/>
<line x1="53.97" y1="818.12" x2="57.77" y2="818.12" stroke="#000" stroke-width="0.85"/>
<line x1="53.97" y1="820.62" x2="57.77" y2="820.62" stroke="#000" stroke-width="0.85"/>
<line x1="70.28" y1="813.75" x2="70.28" y2="816.25" stroke="#000" stroke-width="0.85"/>
<line x1="68.38" y1="813.75" x2="72.18" y2="813.75" stroke="#000" stroke-width="0.85"/>
<line x1="68.38" y1="816.25" x2="72.18" y2="816.25" stroke="#000" stroke-width="0.85"/>
<line x1="77.49" y1="805.62" x2="77.49" y2="810.62" stroke="#000" stroke-width="0.85"/>
<line x1="75.59" y1="805.62" x2="79.39" y2="805.62" stroke="#000" stroke-width="0.85"/>
<line x1="75.59" y1="810.62" x2="79.39" y2="810.62" stroke="#000" stroke-width="0.85"/>
<line x1="91.91" y1="795" x2="91.91" y2="802.5" stroke="#000" stroke-width="0.85"/>
<line x1="90.01" y1="795" x2="93.81" y2="795" stroke="#000" stroke-width="0.85"/>
<line x1="90.01" y1="802.5" x2="93.81" y2="802.5" stroke="#000" stroke-width="0.85"/>
<line x1="106.32" y1="785" x2="106.32" y2="795" stroke="#000" stroke-width="0.85"/>
<line x1="104.42" y1="785" x2="108.22" y2="785" stroke="#000" stroke-width="0.85"/>
<line x1="104.42" y1="795" x2="108.22" y2="795" stroke="#000" stroke-width="0.85"/>
<line x1="120.74" y1="770" x2="120.74" y2="782.5" stroke="#000" stroke-width="0.85"/>
<line x1="118.84" y1="770" x2="122.64" y2="770" stroke="#000" stroke-width="0.85"/>
<line x1="118.84" y1="782.5" x2="122.64" y2="782.5" stroke="#000" stroke-width="0.85"/>
<line x1="135.15" y1="753.75" x2="135.15" y2="768.75" stroke="#000" stroke-width="0.85"/>
<line x1="133.25" y1="753.75" x2="137.05" y2="753.75" stroke="#000" stroke-width="0.85"/>
<line x1="133.25" y1="768.75" x2="137.05" y2="768.75" stroke="#000" stroke-width="0.85"/>
<line x1="149.57" y1="741.25" x2="149.57" y2="756.25" stroke="#000" stroke-width="0.85"/>
<line x1="147.67" y1="741.25" x2="151.47" y2="741.25" stroke="#000" stroke-width="0.85"/>
<line x1="147.67" y1="756.25" x2="151.47" y2="756.25" stroke="#000" stroke-width="0.85"/>
<line x1="163.99" y1="719.38" x2="163.99" y2="738.12" stroke="#000" stroke-width="0.85"/>
<line x1="162.09" y1="719.38" x2="165.89" y2="719.38" stroke="#000" stroke-width="0.85"/>
<line x1="162.09" y1="738.12" x2="165.89" y2="738.12" stroke="#000" stroke-width="0.85"/>
<line x1="178.4" y1="700" x2="178.4" y2="720" stroke="#000" stroke-width="0.85"/>
<line x1="176.5" y1="700" x2="180.3" y2="700" stroke="#000" stroke-width="0.85"/>
<line x1="176.5" y1="720" x2="180.3" y2="720" stroke="#000" stroke-width="0.85"/>
<line x1="192.82" y1="681.25" x2="192.82" y2="706.25" stroke="#000" stroke-width="0.85"/>
<line x1="190.92" y1="681.25" x2="194.72" y2="681.25" stroke="#000" stroke-width="0.85"/>
<line x1="190.92" y1="706.25" x2="194.72" y2="706.25" stroke="#000" stroke-width="0.85"/>
<line x1="207.23" y1="668.75" x2="207.23" y2="693.75" stroke="#000" stroke-width="0.85"/>
<line x1="205.33" y1="668.75" x2="209.13" y2="668.75" stroke="#000" stroke-width="0.85"/>
<line x1="205.33" y1="693.75" x2="209.13" y2="693.75" stroke="#000" stroke-width="0.85"/>
<rect x="40" y="826.05" width="2.9" height="2.9" fill="#000"/>
<rect x="54.42" y="817.92" width="2.9" height="2.9" fill="#000"/>
<rect x="68.83" y="813.55" width="2.9" height="2.9" fill="#000"/>
<rect x="76.04" y="806.67" width="2.9" height="2.9" fill="#000"/>
<rect x="90.46" y="797.3" width="2.9" height="2.9" fill="#000"/>
<rect x="104.87" y="788.55" width="2.9" height="2.9" fill="#000"/>
<rect x="119.29" y="774.8" width="2.9" height="2.9" fill="#000"/>
<rect x="133.7" y="759.8" width="2.9" height="2.9" fill="#000"/>
<rect x="148.12" y="747.3" width="2.9" height="2.9" fill="#000"/>
<rect x="162.54" y="727.3" width="2.9" height="2.9" fill="#000"/>
<rect x="176.95" y="708.55" width="2.9" height="2.9" fill="#000"/>
<rect x="191.37" y="692.3" width="2.9" height="2.9" fill="#000"/>
<rect x="205.78" y="679.8" width="2.9" height="2.9" fill="#000"/>
<polyline points="41.45,827.5 55.87,820 70.28,816.88 77.49,811.88 91.91,806.25 106.32,793.12 120.74,782.5 135.15,771.88 149.57,755.62 163.99,740.62 178.4,725 192.82,705.62 207.23,689.38" fill="none" stroke="#000" stroke-width="1.05" stroke-linejoin="miter"/>
<line x1="55.87" y1="818.75" x2="55.87" y2="821.25" stroke="#000" stroke-width="0.85"/>
<line x1="53.97" y1="818.75" x2="57.77" y2="818.75" stroke="#000" stroke-width="0.85"/>
<line x1="53.97" y1="821.25" x2="57.77" y2="821.25" stroke="#000" stroke-width="0.85"/>
<line x1="70.28" y1="815.62" x2="70.28" y2="818.12" stroke="#000" stroke-width="0.85"/>
<line x1="68.38" y1="815.62" x2="72.18" y2="815.62" stroke="#000" stroke-width="0.85"/>
<line x1="68.38" y1="818.12" x2="72.18" y2="818.12" stroke="#000" stroke-width="0.85"/>
<line x1="77.49" y1="808.75" x2="77.49" y2="815" stroke="#000" stroke-width="0.85"/>
<line x1="75.59" y1="808.75" x2="79.39" y2="808.75" stroke="#000" stroke-width="0.85"/>
<line x1="75.59" y1="815" x2="79.39" y2="815" stroke="#000" stroke-width="0.85"/>
<line x1="91.91" y1="802.5" x2="91.91" y2="810" stroke="#000" stroke-width="0.85"/>
<line x1="90.01" y1="802.5" x2="93.81" y2="802.5" stroke="#000" stroke-width="0.85"/>
<line x1="90.01" y1="810" x2="93.81" y2="810" stroke="#000" stroke-width="0.85"/>
<line x1="106.32" y1="786.88" x2="106.32" y2="799.38" stroke="#000" stroke-width="0.85"/>
<line x1="104.42" y1="786.88" x2="108.22" y2="786.88" stroke="#000" stroke-width="0.85"/>
<line x1="104.42" y1="799.38" x2="108.22" y2="799.38" stroke="#000" stroke-width="0.85"/>
<line x1="120.74" y1="775" x2="120.74" y2="790" stroke="#000" stroke-width="0.85"/>
<line x1="118.84" y1="775" x2="122.64" y2="775" stroke="#000" stroke-width="0.85"/>
<line x1="118.84" y1="790" x2="122.64" y2="790" stroke="#000" stroke-width="0.85"/>
<line x1="135.15" y1="763.12" x2="135.15" y2="780.62" stroke="#000" stroke-width="0.85"/>
<line x1="133.25" y1="763.12" x2="137.05" y2="763.12" stroke="#000" stroke-width="0.85"/>
<line x1="133.25" y1="780.62" x2="137.05" y2="780.62" stroke="#000" stroke-width="0.85"/>
<line x1="149.57" y1="746.25" x2="149.57" y2="765" stroke="#000" stroke-width="0.85"/>
<line x1="147.67" y1="746.25" x2="151.47" y2="746.25" stroke="#000" stroke-width="0.85"/>
<line x1="147.67" y1="765" x2="151.47" y2="765" stroke="#000" stroke-width="0.85"/>
<line x1="163.99" y1="725.62" x2="163.99" y2="755.62" stroke="#000" stroke-width="0.85"/>
<line x1="162.09" y1="725.62" x2="165.89" y2="725.62" stroke="#000" stroke-width="0.85"/>
<line x1="162.09" y1="755.62" x2="165.89" y2="755.62" stroke="#000" stroke-width="0.85"/>
<line x1="178.4" y1="710" x2="178.4" y2="740" stroke="#000" stroke-width="0.85"/>
<line x1="176.5" y1="710" x2="180.3" y2="710" stroke="#000" stroke-width="0.85"/>
<line x1="176.5" y1="740" x2="180.3" y2="740" stroke="#000" stroke-width="0.85"/>
<line x1="192.82" y1="690" x2="192.82" y2="721.25" stroke="#000" stroke-width="0.85"/>
<line x1="190.92" y1="690" x2="194.72" y2="690" stroke="#000" stroke-width="0.85"/>
<line x1="190.92" y1="721.25" x2="194.72" y2="721.25" stroke="#000" stroke-width="0.85"/>
<line x1="207.23" y1="671.88" x2="207.23" y2="706.88" stroke="#000" stroke-width="0.85"/>
<line x1="205.33" y1="671.88" x2="209.13" y2="671.88" stroke="#000" stroke-width="0.85"/>
<line x1="205.33" y1="706.88" x2="209.13" y2="706.88" stroke="#000" stroke-width="0.85"/>
<polygon points="41.45,829.17 39.86,826.34 43.05,826.34" fill="#000"/>
<polygon points="55.87,821.67 54.27,818.84 57.46,818.84" fill="#000"/>
<polygon points="70.28,818.54 68.69,815.72 71.88,815.72" fill="#000"/>
<polygon points="77.49,813.54 75.9,810.72 79.09,810.72" fill="#000"/>
<polygon points="91.91,807.92 90.31,805.09 93.5,805.09" fill="#000"/>
<polygon points="106.32,794.79 104.73,791.97 107.92,791.97" fill="#000"/>
<polygon points="120.74,784.17 119.14,781.34 122.33,781.34" fill="#000"/>
<polygon points="135.15,773.54 133.56,770.72 136.75,770.72" fill="#000"/>
<polygon points="149.57,757.29 147.97,754.47 151.16,754.47" fill="#000"/>
<polygon points="163.99,742.29 162.39,739.47 165.58,739.47" fill="#000"/>
<polygon points="178.4,726.67 176.81,723.84 180,723.84" fill="#000"/>
<polygon points="192.82,707.29 191.22,704.47 194.41,704.47" fill="#000"/>
<polygon points="207.23,691.04 205.64,688.22 208.83,688.22" fill="#000"/>
<polyline points="41.45,827.5 55.87,818.12 70.28,818.12 77.49,817.5 91.91,818.12 106.32,820 120.74,821.25 135.15,821.88 149.57,820.62 163.99,820 178.4,816.25 192.82,810.62 207.23,802.5" fill="none" stroke="#000" stroke-width="1.05" stroke-linejoin="miter"/>
<line x1="55.87" y1="816.88" x2="55.87" y2="819.38" stroke="#000" stroke-width="0.85"/>
<line x1="53.97" y1="816.88" x2="57.77" y2="816.88" stroke="#000" stroke-width="0.85"/>
<line x1="53.97" y1="819.38" x2="57.77" y2="819.38" stroke="#000" stroke-width="0.85"/>
<line x1="70.28" y1="816.88" x2="70.28" y2="819.38" stroke="#000" stroke-width="0.85"/>
<line x1="68.38" y1="816.88" x2="72.18" y2="816.88" stroke="#000" stroke-width="0.85"/>
<line x1="68.38" y1="819.38" x2="72.18" y2="819.38" stroke="#000" stroke-width="0.85"/>
<line x1="77.49" y1="814.38" x2="77.49" y2="820.62" stroke="#000" stroke-width="0.85"/>
<line x1="75.59" y1="814.38" x2="79.39" y2="814.38" stroke="#000" stroke-width="0.85"/>
<line x1="75.59" y1="820.62" x2="79.39" y2="820.62" stroke="#000" stroke-width="0.85"/>
<line x1="91.91" y1="815.62" x2="91.91" y2="820.62" stroke="#000" stroke-width="0.85"/>
<line x1="90.01" y1="815.62" x2="93.81" y2="815.62" stroke="#000" stroke-width="0.85"/>
<line x1="90.01" y1="820.62" x2="93.81" y2="820.62" stroke="#000" stroke-width="0.85"/>
<line x1="106.32" y1="818.12" x2="106.32" y2="821.88" stroke="#000" stroke-width="0.85"/>
<line x1="104.42" y1="818.12" x2="108.22" y2="818.12" stroke="#000" stroke-width="0.85"/>
<line x1="104.42" y1="821.88" x2="108.22" y2="821.88" stroke="#000" stroke-width="0.85"/>
<line x1="120.74" y1="820" x2="120.74" y2="822.5" stroke="#000" stroke-width="0.85"/>
<line x1="118.84" y1="820" x2="122.64" y2="820" stroke="#000" stroke-width="0.85"/>
<line x1="118.84" y1="822.5" x2="122.64" y2="822.5" stroke="#000" stroke-width="0.85"/>
<line x1="135.15" y1="820.62" x2="135.15" y2="823.12" stroke="#000" stroke-width="0.85"/>
<line x1="133.25" y1="820.62" x2="137.05" y2="820.62" stroke="#000" stroke-width="0.85"/>
<line x1="133.25" y1="823.12" x2="137.05" y2="823.12" stroke="#000" stroke-width="0.85"/>
<line x1="149.57" y1="819.38" x2="149.57" y2="821.88" stroke="#000" stroke-width="0.85"/>
<line x1="147.67" y1="819.38" x2="151.47" y2="819.38" stroke="#000" stroke-width="0.85"/>
<line x1="147.67" y1="821.88" x2="151.47" y2="821.88" stroke="#000" stroke-width="0.85"/>
<line x1="163.99" y1="818.75" x2="163.99" y2="821.25" stroke="#000" stroke-width="0.85"/>
<line x1="162.09" y1="818.75" x2="165.89" y2="818.75" stroke="#000" stroke-width="0.85"/>
<line x1="162.09" y1="821.25" x2="165.89" y2="821.25" stroke="#000" stroke-width="0.85"/>
<line x1="178.4" y1="814.38" x2="178.4" y2="818.12" stroke="#000" stroke-width="0.85"/>
<line x1="176.5" y1="814.38" x2="180.3" y2="814.38" stroke="#000" stroke-width="0.85"/>
<line x1="176.5" y1="818.12" x2="180.3" y2="818.12" stroke="#000" stroke-width="0.85"/>
<line x1="192.82" y1="807.5" x2="192.82" y2="813.75" stroke="#000" stroke-width="0.85"/>
<line x1="190.92" y1="807.5" x2="194.72" y2="807.5" stroke="#000" stroke-width="0.85"/>
<line x1="190.92" y1="813.75" x2="194.72" y2="813.75" stroke="#000" stroke-width="0.85"/>
<line x1="207.23" y1="797.5" x2="207.23" y2="807.5" stroke="#000" stroke-width="0.85"/>
<line x1="205.33" y1="797.5" x2="209.13" y2="797.5" stroke="#000" stroke-width="0.85"/>
<line x1="205.33" y1="807.5" x2="209.13" y2="807.5" stroke="#000" stroke-width="0.85"/>
<polygon points="41.45,825.83 39.86,828.66 43.05,828.66" fill="#000"/>
<polygon points="55.87,816.46 54.27,819.28 57.46,819.28" fill="#000"/>
<polygon points="70.28,816.46 68.69,819.28 71.88,819.28" fill="#000"/>
<polygon points="77.49,815.83 75.9,818.66 79.09,818.66" fill="#000"/>
<polygon points="91.91,816.46 90.31,819.28 93.5,819.28" fill="#000"/>
<polygon points="106.32,818.33 104.73,821.16 107.92,821.16" fill="#000"/>
<polygon points="120.74,819.58 119.14,822.41 122.33,822.41" fill="#000"/>
<polygon points="135.15,820.21 133.56,823.03 136.75,823.03" fill="#000"/>
<polygon points="149.57,818.96 147.97,821.78 151.16,821.78" fill="#000"/>
<polygon points="163.99,818.33 162.39,821.16 165.58,821.16" fill="#000"/>
<polygon points="178.4,814.58 176.81,817.41 180,817.41" fill="#000"/>
<polygon points="192.82,808.96 191.22,811.78 194.41,811.78" fill="#000"/>
<polygon points="207.23,800.83 205.64,803.66 208.83,803.66" fill="#000"/>
<polyline points="213.9,688 215.9,688 215.9,801.6 213.9,801.6" fill="none" stroke="#000" stroke-width="0.8" stroke-linejoin="miter"/>
<circle cx="222.1" cy="745.2" r="1.01" fill="#000"/>
<text x="23.6" y="740.4" font-size="7" font-weight="bold" text-anchor="middle" transform="rotate(-90 23.6 740.4)">Tumor size (cm³)</text>
<text x="128.3" y="846.6" font-size="6.86" font-weight="bold" text-anchor="middle">Days after tumor inoculation</text>
<text x="233.2" y="651.7" font-size="11.3" font-weight="bold" text-anchor="start">F</text>
<line x1="263.5" y1="702.5" x2="263.5" y2="828.65" stroke="#000" stroke-width="1.3"/>
<line x1="261.2" y1="828" x2="263.5" y2="828" stroke="#000" stroke-width="1.17"/>
<text x="260.6" y="830.2" font-size="5.5" font-weight="bold" text-anchor="end">0</text>
<line x1="261.2" y1="803" x2="263.5" y2="803" stroke="#000" stroke-width="1.17"/>
<text x="260.6" y="805.2" font-size="5.5" font-weight="bold" text-anchor="end">20</text>
<line x1="261.2" y1="778" x2="263.5" y2="778" stroke="#000" stroke-width="1.17"/>
<text x="260.6" y="780.2" font-size="5.5" font-weight="bold" text-anchor="end">40</text>
<line x1="261.2" y1="753" x2="263.5" y2="753" stroke="#000" stroke-width="1.17"/>
<text x="260.6" y="755.2" font-size="5.5" font-weight="bold" text-anchor="end">60</text>
<line x1="261.2" y1="728" x2="263.5" y2="728" stroke="#000" stroke-width="1.17"/>
<text x="260.6" y="730.2" font-size="5.5" font-weight="bold" text-anchor="end">80</text>
<line x1="261.2" y1="703" x2="263.5" y2="703" stroke="#000" stroke-width="1.17"/>
<text x="260.6" y="705.2" font-size="5.5" font-weight="bold" text-anchor="end">100</text>
<line x1="263.5" y1="828" x2="437.9" y2="828" stroke="#000" stroke-width="1.4"/>
<line x1="263.5" y1="828" x2="263.5" y2="830.6" stroke="#000" stroke-width="1"/>
<line x1="266.98" y1="828" x2="266.98" y2="829.9" stroke="#000" stroke-width="0.85"/>
<line x1="270.46" y1="828" x2="270.46" y2="829.9" stroke="#000" stroke-width="0.85"/>
<line x1="273.93" y1="828" x2="273.93" y2="829.9" stroke="#000" stroke-width="0.85"/>
<line x1="277.41" y1="828" x2="277.41" y2="829.9" stroke="#000" stroke-width="0.85"/>
<line x1="280.89" y1="828" x2="280.89" y2="830.6" stroke="#000" stroke-width="1"/>
<line x1="284.37" y1="828" x2="284.37" y2="829.9" stroke="#000" stroke-width="0.85"/>
<line x1="287.85" y1="828" x2="287.85" y2="829.9" stroke="#000" stroke-width="0.85"/>
<line x1="291.32" y1="828" x2="291.32" y2="829.9" stroke="#000" stroke-width="0.85"/>
<line x1="294.8" y1="828" x2="294.8" y2="829.9" stroke="#000" stroke-width="0.85"/>
<line x1="298.28" y1="828" x2="298.28" y2="830.6" stroke="#000" stroke-width="1"/>
<line x1="301.76" y1="828" x2="301.76" y2="829.9" stroke="#000" stroke-width="0.85"/>
<line x1="305.24" y1="828" x2="305.24" y2="829.9" stroke="#000" stroke-width="0.85"/>
<line x1="308.71" y1="828" x2="308.71" y2="829.9" stroke="#000" stroke-width="0.85"/>
<line x1="312.19" y1="828" x2="312.19" y2="829.9" stroke="#000" stroke-width="0.85"/>
<line x1="315.67" y1="828" x2="315.67" y2="830.6" stroke="#000" stroke-width="1"/>
<line x1="319.15" y1="828" x2="319.15" y2="829.9" stroke="#000" stroke-width="0.85"/>
<line x1="322.63" y1="828" x2="322.63" y2="829.9" stroke="#000" stroke-width="0.85"/>
<line x1="326.1" y1="828" x2="326.1" y2="829.9" stroke="#000" stroke-width="0.85"/>
<line x1="329.58" y1="828" x2="329.58" y2="829.9" stroke="#000" stroke-width="0.85"/>
<line x1="333.06" y1="828" x2="333.06" y2="830.6" stroke="#000" stroke-width="1"/>
<line x1="336.54" y1="828" x2="336.54" y2="829.9" stroke="#000" stroke-width="0.85"/>
<line x1="340.02" y1="828" x2="340.02" y2="829.9" stroke="#000" stroke-width="0.85"/>
<line x1="343.49" y1="828" x2="343.49" y2="829.9" stroke="#000" stroke-width="0.85"/>
<line x1="346.97" y1="828" x2="346.97" y2="829.9" stroke="#000" stroke-width="0.85"/>
<line x1="350.45" y1="828" x2="350.45" y2="830.6" stroke="#000" stroke-width="1"/>
<line x1="353.93" y1="828" x2="353.93" y2="829.9" stroke="#000" stroke-width="0.85"/>
<line x1="357.41" y1="828" x2="357.41" y2="829.9" stroke="#000" stroke-width="0.85"/>
<line x1="360.88" y1="828" x2="360.88" y2="829.9" stroke="#000" stroke-width="0.85"/>
<line x1="364.36" y1="828" x2="364.36" y2="829.9" stroke="#000" stroke-width="0.85"/>
<line x1="367.84" y1="828" x2="367.84" y2="830.6" stroke="#000" stroke-width="1"/>
<line x1="371.32" y1="828" x2="371.32" y2="829.9" stroke="#000" stroke-width="0.85"/>
<line x1="374.8" y1="828" x2="374.8" y2="829.9" stroke="#000" stroke-width="0.85"/>
<line x1="378.27" y1="828" x2="378.27" y2="829.9" stroke="#000" stroke-width="0.85"/>
<line x1="381.75" y1="828" x2="381.75" y2="829.9" stroke="#000" stroke-width="0.85"/>
<line x1="385.23" y1="828" x2="385.23" y2="830.6" stroke="#000" stroke-width="1"/>
<line x1="388.71" y1="828" x2="388.71" y2="829.9" stroke="#000" stroke-width="0.85"/>
<line x1="392.19" y1="828" x2="392.19" y2="829.9" stroke="#000" stroke-width="0.85"/>
<line x1="395.66" y1="828" x2="395.66" y2="829.9" stroke="#000" stroke-width="0.85"/>
<line x1="399.14" y1="828" x2="399.14" y2="829.9" stroke="#000" stroke-width="0.85"/>
<line x1="402.62" y1="828" x2="402.62" y2="830.6" stroke="#000" stroke-width="1"/>
<line x1="406.1" y1="828" x2="406.1" y2="829.9" stroke="#000" stroke-width="0.85"/>
<line x1="409.58" y1="828" x2="409.58" y2="829.9" stroke="#000" stroke-width="0.85"/>
<line x1="413.05" y1="828" x2="413.05" y2="829.9" stroke="#000" stroke-width="0.85"/>
<line x1="416.53" y1="828" x2="416.53" y2="829.9" stroke="#000" stroke-width="0.85"/>
<line x1="420.01" y1="828" x2="420.01" y2="830.6" stroke="#000" stroke-width="1"/>
<line x1="423.49" y1="828" x2="423.49" y2="829.9" stroke="#000" stroke-width="0.85"/>
<line x1="426.97" y1="828" x2="426.97" y2="829.9" stroke="#000" stroke-width="0.85"/>
<line x1="430.44" y1="828" x2="430.44" y2="829.9" stroke="#000" stroke-width="0.85"/>
<line x1="433.92" y1="828" x2="433.92" y2="829.9" stroke="#000" stroke-width="0.85"/>
<line x1="437.4" y1="828" x2="437.4" y2="830.6" stroke="#000" stroke-width="1"/>
<text x="263.5" y="836.9" font-size="6" font-weight="bold" text-anchor="middle">0</text>
<text x="280.89" y="836.9" font-size="6" font-weight="bold" text-anchor="middle">10</text>
<text x="298.28" y="836.9" font-size="6" font-weight="bold" text-anchor="middle">20</text>
<text x="315.67" y="836.9" font-size="6" font-weight="bold" text-anchor="middle">30</text>
<text x="333.06" y="836.9" font-size="6" font-weight="bold" text-anchor="middle">40</text>
<text x="350.45" y="836.9" font-size="6" font-weight="bold" text-anchor="middle">50</text>
<text x="367.84" y="836.9" font-size="6" font-weight="bold" text-anchor="middle">60</text>
<text x="385.23" y="836.9" font-size="6" font-weight="bold" text-anchor="middle">70</text>
<text x="402.62" y="836.9" font-size="6" font-weight="bold" text-anchor="middle">80</text>
<text x="420.01" y="836.9" font-size="6" font-weight="bold" text-anchor="middle">90</text>
<text x="437.4" y="836.9" font-size="6" font-weight="bold" text-anchor="middle">100</text>
<polyline points="353.7,703 353.7,703 353.7,728 355.6,728 355.6,740.5 359.1,740.5 359.1,753 364.5,753 364.5,765.5 366,765.5 366,803 370,803 370,815.5 370.4,815.5 370.4,828" fill="none" stroke="#000" stroke-width="1.1" stroke-linejoin="miter"/>
<circle cx="353.7" cy="728" r="1.35" fill="#000"/>
<circle cx="355.6" cy="740.5" r="1.35" fill="#000"/>
<circle cx="359.1" cy="753" r="1.35" fill="#000"/>
<circle cx="364.5" cy="765.5" r="1.35" fill="#000"/>
<circle cx="366" cy="803" r="1.35" fill="#000"/>
<circle cx="370" cy="815.5" r="1.35" fill="#000"/>
<circle cx="370.4" cy="828" r="1.35" fill="#000"/>
<polyline points="357.6,703 357.6,703 357.6,715.5 359.1,715.5 359.1,728 362.8,728 362.8,753 364.8,753 364.8,765.5 369.4,765.5 369.4,790.5 371.7,790.5 371.7,803 372.8,803 372.8,815.5 375.1,815.5 375.1,828" fill="none" stroke="#000" stroke-width="1.1" stroke-linejoin="miter"/>
<circle cx="357.6" cy="715.5" r="1.35" fill="#000"/>
<circle cx="359.1" cy="728" r="1.35" fill="#000"/>
<circle cx="362.8" cy="753" r="1.35" fill="#000"/>
<circle cx="364.8" cy="765.5" r="1.35" fill="#000"/>
<circle cx="369.4" cy="790.5" r="1.35" fill="#000"/>
<circle cx="371.7" cy="803" r="1.35" fill="#000"/>
<circle cx="372.8" cy="815.5" r="1.35" fill="#000"/>
<circle cx="375.1" cy="828" r="1.35" fill="#000"/>
<polyline points="364.6,703 364.6,703 364.6,715.5 366.3,715.5 366.3,753 367.6,753 367.6,765.5 369.4,765.5 369.4,778 371.7,778 371.7,803 372.8,803 372.8,815.5 375.1,815.5 375.1,828" fill="none" stroke="#000" stroke-width="1.1" stroke-linejoin="miter"/>
<circle cx="364.6" cy="715.5" r="1.35" fill="#000"/>
<circle cx="366.3" cy="753" r="1.35" fill="#000"/>
<circle cx="367.6" cy="765.5" r="1.35" fill="#000"/>
<circle cx="369.4" cy="778" r="1.35" fill="#000"/>
<circle cx="371.7" cy="803" r="1.35" fill="#000"/>
<circle cx="372.8" cy="815.5" r="1.35" fill="#000"/>
<circle cx="375.1" cy="828" r="1.35" fill="#000"/>
<polyline points="393.6,703 393.6,703 393.6,715.5 399.7,715.5 399.7,728 401.2,728 401.2,740.5 402.6,740.5 402.6,753 407.5,753 407.5,778 411.3,778 411.3,815.5 413.9,815.5 413.9,828" fill="none" stroke="#000" stroke-width="1.1" stroke-linejoin="miter"/>
<circle cx="393.6" cy="715.5" r="1.35" fill="#000"/>
<circle cx="399.7" cy="728" r="1.35" fill="#000"/>
<circle cx="401.2" cy="740.5" r="1.35" fill="#000"/>
<circle cx="402.6" cy="753" r="1.35" fill="#000"/>
<circle cx="407.5" cy="778" r="1.35" fill="#000"/>
<circle cx="411.3" cy="815.5" r="1.35" fill="#000"/>
<circle cx="413.9" cy="828" r="1.35" fill="#000"/>
<line x1="263.5" y1="703" x2="393.6" y2="703" stroke="#000" stroke-width="1.1"/>
<line x1="278.1" y1="650" x2="288" y2="650" stroke="#000" stroke-width="1"/>
<circle cx="283.05" cy="650" r="1.25" fill="#000"/>
<text x="291.7" y="652.34" font-size="6.5" font-weight="normal" text-anchor="start">IgG Control days 4, 8, 12, 16</text>
<line x1="278.1" y1="660.9" x2="288" y2="660.9" stroke="#000" stroke-width="1"/>
<polygon points="283.05,659.46 281.68,661.9 284.43,661.9" fill="#000"/>
<text x="291.7" y="663.24" font-size="6.5" font-weight="normal" text-anchor="start">Trastuzumab 200ug/dose days 4, 8, 12, 16</text>
<line x1="278.1" y1="673.2" x2="288" y2="673.2" stroke="#000" stroke-width="1"/>
<polygon points="283.05,674.64 281.68,672.2 284.43,672.2" fill="#000"/>
<text x="291.7" y="675.54" font-size="6.5" font-weight="normal" text-anchor="start">Ibrutinib 25mg/kg/dose (BID) days 4-18</text>
<line x1="278.1" y1="690" x2="288" y2="690" stroke="#000" stroke-width="1"/>
<rect x="281.8" y="688.75" width="2.5" height="2.5" fill="#000"/>
<text x="291.7" y="692.34" font-size="6.5" font-weight="normal" text-anchor="start"></text>
<text x="291.7" y="688.3" font-size="6.5" font-weight="normal" text-anchor="start">Trastuzumab 200ug/dose days 4, 8, 12, 16 +</text>
<text x="291.7" y="696.6" font-size="6.5" font-weight="normal" text-anchor="start">Ibrutinib 25mg/kg/dose (BID) days 4-18</text>
<polyline points="424.7,659.9 427.5,659.9 427.5,692.9 424.7,692.9" fill="none" stroke="#000" stroke-width="0.8" stroke-linejoin="miter"/>
<circle cx="431.2" cy="677.4" r="1.01" fill="#000"/>
<text x="246.8" y="764.3" font-size="6.9" font-weight="bold" text-anchor="middle" transform="rotate(-90 246.8 764.3)">Percent survival</text>
<text x="350.6" y="846.6" font-size="6.5" font-weight="bold" text-anchor="middle">Days after tumor inoculation</text>
<text x="17.7" y="868.8" font-size="11.3" font-weight="bold" text-anchor="start">G</text>
<line x1="47.3" y1="874.5" x2="47.3" y2="1041.75" stroke="#000" stroke-width="1.3"/>
<line x1="45" y1="1041.1" x2="47.3" y2="1041.1" stroke="#000" stroke-width="1.17"/>
<text x="44.2" y="1043.5" font-size="6" font-weight="bold" text-anchor="end">0.0</text>
<line x1="45" y1="1024.45" x2="47.3" y2="1024.45" stroke="#000" stroke-width="1.17"/>
<text x="44.2" y="1026.85" font-size="6" font-weight="bold" text-anchor="end">0.3</text>
<line x1="45" y1="1007.8" x2="47.3" y2="1007.8" stroke="#000" stroke-width="1.17"/>
<text x="44.2" y="1010.2" font-size="6" font-weight="bold" text-anchor="end">0.6</text>
<line x1="45" y1="991.15" x2="47.3" y2="991.15" stroke="#000" stroke-width="1.17"/>
<text x="44.2" y="993.55" font-size="6" font-weight="bold" text-anchor="end">0.9</text>
<line x1="45" y1="974.5" x2="47.3" y2="974.5" stroke="#000" stroke-width="1.17"/>
<text x="44.2" y="976.9" font-size="6" font-weight="bold" text-anchor="end">1.2</text>
<line x1="45" y1="957.85" x2="47.3" y2="957.85" stroke="#000" stroke-width="1.17"/>
<text x="44.2" y="960.25" font-size="6" font-weight="bold" text-anchor="end">1.5</text>
<line x1="45" y1="941.2" x2="47.3" y2="941.2" stroke="#000" stroke-width="1.17"/>
<text x="44.2" y="943.6" font-size="6" font-weight="bold" text-anchor="end">1.8</text>
<line x1="45" y1="924.55" x2="47.3" y2="924.55" stroke="#000" stroke-width="1.17"/>
<text x="44.2" y="926.95" font-size="6" font-weight="bold" text-anchor="end">2.1</text>
<line x1="45" y1="907.9" x2="47.3" y2="907.9" stroke="#000" stroke-width="1.17"/>
<text x="44.2" y="910.3" font-size="6" font-weight="bold" text-anchor="end">2.4</text>
<line x1="45" y1="891.25" x2="47.3" y2="891.25" stroke="#000" stroke-width="1.17"/>
<text x="44.2" y="893.65" font-size="6" font-weight="bold" text-anchor="end">2.7</text>
<line x1="45" y1="874.6" x2="47.3" y2="874.6" stroke="#000" stroke-width="1.17"/>
<text x="44.2" y="877" font-size="6" font-weight="bold" text-anchor="end">3.0</text>
<line x1="45.9" y1="1035.55" x2="47.3" y2="1035.55" stroke="#000" stroke-width="0.8"/>
<line x1="45.9" y1="1030" x2="47.3" y2="1030" stroke="#000" stroke-width="0.8"/>
<line x1="45.9" y1="1024.45" x2="47.3" y2="1024.45" stroke="#000" stroke-width="0.8"/>
<line x1="45.9" y1="1018.9" x2="47.3" y2="1018.9" stroke="#000" stroke-width="0.8"/>
<line x1="45.9" y1="1013.35" x2="47.3" y2="1013.35" stroke="#000" stroke-width="0.8"/>
<line x1="45.9" y1="1007.8" x2="47.3" y2="1007.8" stroke="#000" stroke-width="0.8"/>
<line x1="45.9" y1="1002.25" x2="47.3" y2="1002.25" stroke="#000" stroke-width="0.8"/>
<line x1="45.9" y1="996.7" x2="47.3" y2="996.7" stroke="#000" stroke-width="0.8"/>
<line x1="45.9" y1="991.15" x2="47.3" y2="991.15" stroke="#000" stroke-width="0.8"/>
<line x1="45.9" y1="985.6" x2="47.3" y2="985.6" stroke="#000" stroke-width="0.8"/>
<line x1="45.9" y1="980.05" x2="47.3" y2="980.05" stroke="#000" stroke-width="0.8"/>
<line x1="45.9" y1="974.5" x2="47.3" y2="974.5" stroke="#000" stroke-width="0.8"/>
<line x1="45.9" y1="968.95" x2="47.3" y2="968.95" stroke="#000" stroke-width="0.8"/>
<line x1="45.9" y1="963.4" x2="47.3" y2="963.4" stroke="#000" stroke-width="0.8"/>
<line x1="45.9" y1="957.85" x2="47.3" y2="957.85" stroke="#000" stroke-width="0.8"/>
<line x1="45.9" y1="952.3" x2="47.3" y2="952.3" stroke="#000" stroke-width="0.8"/>
<line x1="45.9" y1="946.75" x2="47.3" y2="946.75" stroke="#000" stroke-width="0.8"/>
<line x1="45.9" y1="941.2" x2="47.3" y2="941.2" stroke="#000" stroke-width="0.8"/>
<line x1="45.9" y1="935.65" x2="47.3" y2="935.65" stroke="#000" stroke-width="0.8"/>
<line x1="45.9" y1="930.1" x2="47.3" y2="930.1" stroke="#000" stroke-width="0.8"/>
<line x1="45.9" y1="924.55" x2="47.3" y2="924.55" stroke="#000" stroke-width="0.8"/>
<line x1="45.9" y1="919" x2="47.3" y2="919" stroke="#000" stroke-width="0.8"/>
<line x1="45.9" y1="913.45" x2="47.3" y2="913.45" stroke="#000" stroke-width="0.8"/>
<line x1="45.9" y1="907.9" x2="47.3" y2="907.9" stroke="#000" stroke-width="0.8"/>
<line x1="45.9" y1="902.35" x2="47.3" y2="902.35" stroke="#000" stroke-width="0.8"/>
<line x1="45.9" y1="896.8" x2="47.3" y2="896.8" stroke="#000" stroke-width="0.8"/>
<line x1="45.9" y1="891.25" x2="47.3" y2="891.25" stroke="#000" stroke-width="0.8"/>
<line x1="45.9" y1="885.7" x2="47.3" y2="885.7" stroke="#000" stroke-width="0.8"/>
<line x1="45.9" y1="880.15" x2="47.3" y2="880.15" stroke="#000" stroke-width="0.8"/>
<line x1="45.9" y1="874.6" x2="47.3" y2="874.6" stroke="#000" stroke-width="0.8"/>
<line x1="47.3" y1="1041.1" x2="215.6" y2="1041.1" stroke="#000" stroke-width="1.4"/>
<line x1="47.9" y1="1041.1" x2="47.9" y2="1043.7" stroke="#000" stroke-width="1"/>
<line x1="56.26" y1="1041.1" x2="56.26" y2="1043" stroke="#000" stroke-width="0.85"/>
<line x1="64.62" y1="1041.1" x2="64.62" y2="1043" stroke="#000" stroke-width="0.85"/>
<line x1="72.98" y1="1041.1" x2="72.98" y2="1043" stroke="#000" stroke-width="0.85"/>
<line x1="81.34" y1="1041.1" x2="81.34" y2="1043.7" stroke="#000" stroke-width="1"/>
<line x1="89.7" y1="1041.1" x2="89.7" y2="1043" stroke="#000" stroke-width="0.85"/>
<line x1="98.06" y1="1041.1" x2="98.06" y2="1043" stroke="#000" stroke-width="0.85"/>
<line x1="106.42" y1="1041.1" x2="106.42" y2="1043" stroke="#000" stroke-width="0.85"/>
<line x1="114.78" y1="1041.1" x2="114.78" y2="1043.7" stroke="#000" stroke-width="1"/>
<line x1="123.14" y1="1041.1" x2="123.14" y2="1043" stroke="#000" stroke-width="0.85"/>
<line x1="131.5" y1="1041.1" x2="131.5" y2="1043" stroke="#000" stroke-width="0.85"/>
<line x1="139.86" y1="1041.1" x2="139.86" y2="1043" stroke="#000" stroke-width="0.85"/>
<line x1="148.22" y1="1041.1" x2="148.22" y2="1043.7" stroke="#000" stroke-width="1"/>
<line x1="156.58" y1="1041.1" x2="156.58" y2="1043" stroke="#000" stroke-width="0.85"/>
<line x1="164.94" y1="1041.1" x2="164.94" y2="1043" stroke="#000" stroke-width="0.85"/>
<line x1="173.3" y1="1041.1" x2="173.3" y2="1043" stroke="#000" stroke-width="0.85"/>
<line x1="181.66" y1="1041.1" x2="181.66" y2="1043.7" stroke="#000" stroke-width="1"/>
<line x1="190.02" y1="1041.1" x2="190.02" y2="1043" stroke="#000" stroke-width="0.85"/>
<line x1="198.38" y1="1041.1" x2="198.38" y2="1043" stroke="#000" stroke-width="0.85"/>
<line x1="206.74" y1="1041.1" x2="206.74" y2="1043" stroke="#000" stroke-width="0.85"/>
<line x1="215.1" y1="1041.1" x2="215.1" y2="1043.7" stroke="#000" stroke-width="1"/>
<text x="47.9" y="1050" font-size="6" font-weight="bold" text-anchor="middle">14</text>
<text x="81.34" y="1050" font-size="6" font-weight="bold" text-anchor="middle">18</text>
<text x="114.78" y="1050" font-size="6" font-weight="bold" text-anchor="middle">22</text>
<text x="148.22" y="1050" font-size="6" font-weight="bold" text-anchor="middle">26</text>
<text x="181.66" y="1050" font-size="6" font-weight="bold" text-anchor="middle">30</text>
<text x="215.1" y="1050" font-size="6" font-weight="bold" text-anchor="middle">34</text>
<polyline points="47.9,1037.21 64.62,1028.89 81.34,1011.68 98.06,988.37 114.78,963.4 131.5,941.2 148.22,919.55 164.94,904.57 181.66,894.02 198.38,881.26" fill="none" stroke="#000" stroke-width="1.05" stroke-linejoin="miter"/>
<line x1="64.62" y1="1027.78" x2="64.62" y2="1030" stroke="#000" stroke-width="0.85"/>
<line x1="62.72" y1="1027.78" x2="66.52" y2="1027.78" stroke="#000" stroke-width="0.85"/>
<line x1="62.72" y1="1030" x2="66.52" y2="1030" stroke="#000" stroke-width="0.85"/>
<line x1="81.34" y1="1009.46" x2="81.34" y2="1013.9" stroke="#000" stroke-width="0.85"/>
<line x1="79.44" y1="1009.46" x2="83.24" y2="1009.46" stroke="#000" stroke-width="0.85"/>
<line x1="79.44" y1="1013.9" x2="83.24" y2="1013.9" stroke="#000" stroke-width="0.85"/>
<line x1="98.06" y1="985.04" x2="98.06" y2="991.7" stroke="#000" stroke-width="0.85"/>
<line x1="96.16" y1="985.04" x2="99.96" y2="985.04" stroke="#000" stroke-width="0.85"/>
<line x1="96.16" y1="991.7" x2="99.96" y2="991.7" stroke="#000" stroke-width="0.85"/>
<line x1="114.78" y1="959.24" x2="114.78" y2="967.56" stroke="#000" stroke-width="0.85"/>
<line x1="112.88" y1="959.24" x2="116.68" y2="959.24" stroke="#000" stroke-width="0.85"/>
<line x1="112.88" y1="967.56" x2="116.68" y2="967.56" stroke="#000" stroke-width="0.85"/>
<line x1="131.5" y1="935.93" x2="131.5" y2="946.47" stroke="#000" stroke-width="0.85"/>
<line x1="129.6" y1="935.93" x2="133.4" y2="935.93" stroke="#000" stroke-width="0.85"/>
<line x1="129.6" y1="946.47" x2="133.4" y2="946.47" stroke="#000" stroke-width="0.85"/>
<line x1="148.22" y1="912.89" x2="148.22" y2="926.21" stroke="#000" stroke-width="0.85"/>
<line x1="146.32" y1="912.89" x2="150.12" y2="912.89" stroke="#000" stroke-width="0.85"/>
<line x1="146.32" y1="926.21" x2="150.12" y2="926.21" stroke="#000" stroke-width="0.85"/>
<line x1="164.94" y1="898.46" x2="164.94" y2="910.67" stroke="#000" stroke-width="0.85"/>
<line x1="163.04" y1="898.46" x2="166.84" y2="898.46" stroke="#000" stroke-width="0.85"/>
<line x1="163.04" y1="910.67" x2="166.84" y2="910.67" stroke="#000" stroke-width="0.85"/>
<line x1="181.66" y1="887.09" x2="181.66" y2="900.96" stroke="#000" stroke-width="0.85"/>
<line x1="179.76" y1="887.09" x2="183.56" y2="887.09" stroke="#000" stroke-width="0.85"/>
<line x1="179.76" y1="900.96" x2="183.56" y2="900.96" stroke="#000" stroke-width="0.85"/>
<line x1="198.38" y1="874.32" x2="198.38" y2="888.2" stroke="#000" stroke-width="0.85"/>
<line x1="196.48" y1="874.32" x2="200.28" y2="874.32" stroke="#000" stroke-width="0.85"/>
<line x1="196.48" y1="888.2" x2="200.28" y2="888.2" stroke="#000" stroke-width="0.85"/>
<circle cx="47.9" cy="1037.21" r="1.45" fill="#000"/>
<circle cx="64.62" cy="1028.89" r="1.45" fill="#000"/>
<circle cx="81.34" cy="1011.68" r="1.45" fill="#000"/>
<circle cx="98.06" cy="988.37" r="1.45" fill="#000"/>
<circle cx="114.78" cy="963.4" r="1.45" fill="#000"/>
<circle cx="131.5" cy="941.2" r="1.45" fill="#000"/>
<circle cx="148.22" cy="919.55" r="1.45" fill="#000"/>
<circle cx="164.94" cy="904.57" r="1.45" fill="#000"/>
<circle cx="181.66" cy="894.02" r="1.45" fill="#000"/>
<circle cx="198.38" cy="881.26" r="1.45" fill="#000"/>
<polyline points="47.9,1037.21 64.62,1028.89 81.34,1016.68 98.06,1010.02 114.78,1002.25 131.5,997.81 148.22,991.15 164.94,985.6 181.66,976.72 198.38,961.73" fill="none" stroke="#000" stroke-width="1.05" stroke-linejoin="miter"/>
<line x1="64.62" y1="1027.78" x2="64.62" y2="1030" stroke="#000" stroke-width="0.85"/>
<line x1="62.72" y1="1027.78" x2="66.52" y2="1027.78" stroke="#000" stroke-width="0.85"/>
<line x1="62.72" y1="1030" x2="66.52" y2="1030" stroke="#000" stroke-width="0.85"/>
<line x1="81.34" y1="1015.01" x2="81.34" y2="1018.34" stroke="#000" stroke-width="0.85"/>
<line x1="79.44" y1="1015.01" x2="83.24" y2="1015.01" stroke="#000" stroke-width="0.85"/>
<line x1="79.44" y1="1018.34" x2="83.24" y2="1018.34" stroke="#000" stroke-width="0.85"/>
<line x1="98.06" y1="1008.35" x2="98.06" y2="1011.68" stroke="#000" stroke-width="0.85"/>
<line x1="96.16" y1="1008.35" x2="99.96" y2="1008.35" stroke="#000" stroke-width="0.85"/>
<line x1="96.16" y1="1011.68" x2="99.96" y2="1011.68" stroke="#000" stroke-width="0.85"/>
<line x1="114.78" y1="999.47" x2="114.78" y2="1005.02" stroke="#000" stroke-width="0.85"/>
<line x1="112.88" y1="999.47" x2="116.68" y2="999.47" stroke="#000" stroke-width="0.85"/>
<line x1="112.88" y1="1005.02" x2="116.68" y2="1005.02" stroke="#000" stroke-width="0.85"/>
<line x1="131.5" y1="995.03" x2="131.5" y2="1000.58" stroke="#000" stroke-width="0.85"/>
<line x1="129.6" y1="995.03" x2="133.4" y2="995.03" stroke="#000" stroke-width="0.85"/>
<line x1="129.6" y1="1000.58" x2="133.4" y2="1000.58" stroke="#000" stroke-width="0.85"/>
<line x1="148.22" y1="987.82" x2="148.22" y2="994.48" stroke="#000" stroke-width="0.85"/>
<line x1="146.32" y1="987.82" x2="150.12" y2="987.82" stroke="#000" stroke-width="0.85"/>
<line x1="146.32" y1="994.48" x2="150.12" y2="994.48" stroke="#000" stroke-width="0.85"/>
<line x1="164.94" y1="982.27" x2="164.94" y2="988.93" stroke="#000" stroke-width="0.85"/>
<line x1="163.04" y1="982.27" x2="166.84" y2="982.27" stroke="#000" stroke-width="0.85"/>
<line x1="163.04" y1="988.93" x2="166.84" y2="988.93" stroke="#000" stroke-width="0.85"/>
<line x1="181.66" y1="972.28" x2="181.66" y2="981.16" stroke="#000" stroke-width="0.85"/>
<line x1="179.76" y1="972.28" x2="183.56" y2="972.28" stroke="#000" stroke-width="0.85"/>
<line x1="179.76" y1="981.16" x2="183.56" y2="981.16" stroke="#000" stroke-width="0.85"/>
<line x1="198.38" y1="955.07" x2="198.38" y2="968.39" stroke="#000" stroke-width="0.85"/>
<line x1="196.48" y1="955.07" x2="200.28" y2="955.07" stroke="#000" stroke-width="0.85"/>
<line x1="196.48" y1="968.39" x2="200.28" y2="968.39" stroke="#000" stroke-width="0.85"/>
<rect x="46.45" y="1035.76" width="2.9" height="2.9" fill="#000"/>
<rect x="63.17" y="1027.44" width="2.9" height="2.9" fill="#000"/>
<rect x="79.89" y="1015.23" width="2.9" height="2.9" fill="#000"/>
<rect x="96.61" y="1008.57" width="2.9" height="2.9" fill="#000"/>
<rect x="113.33" y="1000.8" width="2.9" height="2.9" fill="#000"/>
<rect x="130.05" y="996.36" width="2.9" height="2.9" fill="#000"/>
<rect x="146.77" y="989.7" width="2.9" height="2.9" fill="#000"/>
<rect x="163.49" y="984.15" width="2.9" height="2.9" fill="#000"/>
<rect x="180.21" y="975.27" width="2.9" height="2.9" fill="#000"/>
<rect x="196.93" y="960.28" width="2.9" height="2.9" fill="#000"/>
<polyline points="47.9,1037.21 64.62,1028.89 81.34,1022.78 98.06,1015.01 114.78,1006.69 131.5,995.59 148.22,986.71 164.94,978.38 181.66,969.5 198.38,957.85" fill="none" stroke="#000" stroke-width="1.05" stroke-linejoin="miter"/>
<line x1="64.62" y1="1027.78" x2="64.62" y2="1030" stroke="#000" stroke-width="0.85"/>
<line x1="62.72" y1="1027.78" x2="66.52" y2="1027.78" stroke="#000" stroke-width="0.85"/>
<line x1="62.72" y1="1030" x2="66.52" y2="1030" stroke="#000" stroke-width="0.85"/>
<line x1="81.34" y1="1021.12" x2="81.34" y2="1024.45" stroke="#000" stroke-width="0.85"/>
<line x1="79.44" y1="1021.12" x2="83.24" y2="1021.12" stroke="#000" stroke-width="0.85"/>
<line x1="79.44" y1="1024.45" x2="83.24" y2="1024.45" stroke="#000" stroke-width="0.85"/>
<line x1="98.06" y1="1013.35" x2="98.06" y2="1016.68" stroke="#000" stroke-width="0.85"/>
<line x1="96.16" y1="1013.35" x2="99.96" y2="1013.35" stroke="#000" stroke-width="0.85"/>
<line x1="96.16" y1="1016.68" x2="99.96" y2="1016.68" stroke="#000" stroke-width="0.85"/>
<line x1="114.78" y1="1003.91" x2="114.78" y2="1009.46" stroke="#000" stroke-width="0.85"/>
<line x1="112.88" y1="1003.91" x2="116.68" y2="1003.91" stroke="#000" stroke-width="0.85"/>
<line x1="112.88" y1="1009.46" x2="116.68" y2="1009.46" stroke="#000" stroke-width="0.85"/>
<line x1="131.5" y1="992.81" x2="131.5" y2="998.36" stroke="#000" stroke-width="0.85"/>
<line x1="129.6" y1="992.81" x2="133.4" y2="992.81" stroke="#000" stroke-width="0.85"/>
<line x1="129.6" y1="998.36" x2="133.4" y2="998.36" stroke="#000" stroke-width="0.85"/>
<line x1="148.22" y1="983.38" x2="148.22" y2="990.04" stroke="#000" stroke-width="0.85"/>
<line x1="146.32" y1="983.38" x2="150.12" y2="983.38" stroke="#000" stroke-width="0.85"/>
<line x1="146.32" y1="990.04" x2="150.12" y2="990.04" stroke="#000" stroke-width="0.85"/>
<line x1="164.94" y1="974.5" x2="164.94" y2="982.27" stroke="#000" stroke-width="0.85"/>
<line x1="163.04" y1="974.5" x2="166.84" y2="974.5" stroke="#000" stroke-width="0.85"/>
<line x1="163.04" y1="982.27" x2="166.84" y2="982.27" stroke="#000" stroke-width="0.85"/>
<line x1="181.66" y1="965.06" x2="181.66" y2="973.94" stroke="#000" stroke-width="0.85"/>
<line x1="179.76" y1="965.06" x2="183.56" y2="965.06" stroke="#000" stroke-width="0.85"/>
<line x1="179.76" y1="973.94" x2="183.56" y2="973.94" stroke="#000" stroke-width="0.85"/>
<line x1="198.38" y1="952.3" x2="198.38" y2="963.4" stroke="#000" stroke-width="0.85"/>
<line x1="196.48" y1="952.3" x2="200.28" y2="952.3" stroke="#000" stroke-width="0.85"/>
<line x1="196.48" y1="963.4" x2="200.28" y2="963.4" stroke="#000" stroke-width="0.85"/>
<polygon points="47.9,1035.55 46.3,1038.38 49.49,1038.38" fill="#000"/>
<polygon points="64.62,1027.22 63.03,1030.05 66.22,1030.05" fill="#000"/>
<polygon points="81.34,1021.12 79.75,1023.94 82.94,1023.94" fill="#000"/>
<polygon points="98.06,1013.35 96.47,1016.17 99.66,1016.17" fill="#000"/>
<polygon points="114.78,1005.02 113.19,1007.85 116.38,1007.85" fill="#000"/>
<polygon points="131.5,993.92 129.91,996.75 133.09,996.75" fill="#000"/>
<polygon points="148.22,985.04 146.62,987.87 149.81,987.87" fill="#000"/>
<polygon points="164.94,976.72 163.34,979.54 166.53,979.54" fill="#000"/>
<polygon points="181.66,967.84 180.06,970.66 183.25,970.66" fill="#000"/>
<polygon points="198.38,956.18 196.78,959.01 199.97,959.01" fill="#000"/>
<polyline points="47.9,1037.21 64.62,1028.89 81.34,1023.89 98.06,1019.45 114.78,1023.89 131.5,1020.56 148.22,1018.34 164.94,1012.24 181.66,1001.14 198.38,986.71" fill="none" stroke="#000" stroke-width="1.05" stroke-linejoin="miter"/>
<line x1="64.62" y1="1027.78" x2="64.62" y2="1030" stroke="#000" stroke-width="0.85"/>
<line x1="62.72" y1="1027.78" x2="66.52" y2="1027.78" stroke="#000" stroke-width="0.85"/>
<line x1="62.72" y1="1030" x2="66.52" y2="1030" stroke="#000" stroke-width="0.85"/>
<line x1="81.34" y1="1022.78" x2="81.34" y2="1025" stroke="#000" stroke-width="0.85"/>
<line x1="79.44" y1="1022.78" x2="83.24" y2="1022.78" stroke="#000" stroke-width="0.85"/>
<line x1="79.44" y1="1025" x2="83.24" y2="1025" stroke="#000" stroke-width="0.85"/>
<line x1="98.06" y1="1018.34" x2="98.06" y2="1020.56" stroke="#000" stroke-width="0.85"/>
<line x1="96.16" y1="1018.34" x2="99.96" y2="1018.34" stroke="#000" stroke-width="0.85"/>
<line x1="96.16" y1="1020.56" x2="99.96" y2="1020.56" stroke="#000" stroke-width="0.85"/>
<line x1="114.78" y1="1022.78" x2="114.78" y2="1025" stroke="#000" stroke-width="0.85"/>
<line x1="112.88" y1="1022.78" x2="116.68" y2="1022.78" stroke="#000" stroke-width="0.85"/>
<line x1="112.88" y1="1025" x2="116.68" y2="1025" stroke="#000" stroke-width="0.85"/>
<line x1="131.5" y1="1019.45" x2="131.5" y2="1021.67" stroke="#000" stroke-width="0.85"/>
<line x1="129.6" y1="1019.45" x2="133.4" y2="1019.45" stroke="#000" stroke-width="0.85"/>
<line x1="129.6" y1="1021.67" x2="133.4" y2="1021.67" stroke="#000" stroke-width="0.85"/>
<line x1="148.22" y1="1017.23" x2="148.22" y2="1019.45" stroke="#000" stroke-width="0.85"/>
<line x1="146.32" y1="1017.23" x2="150.12" y2="1017.23" stroke="#000" stroke-width="0.85"/>
<line x1="146.32" y1="1019.45" x2="150.12" y2="1019.45" stroke="#000" stroke-width="0.85"/>
<line x1="164.94" y1="1011.13" x2="164.94" y2="1013.35" stroke="#000" stroke-width="0.85"/>
<line x1="163.04" y1="1011.13" x2="166.84" y2="1011.13" stroke="#000" stroke-width="0.85"/>
<line x1="163.04" y1="1013.35" x2="166.84" y2="1013.35" stroke="#000" stroke-width="0.85"/>
<line x1="181.66" y1="999.47" x2="181.66" y2="1002.8" stroke="#000" stroke-width="0.85"/>
<line x1="179.76" y1="999.47" x2="183.56" y2="999.47" stroke="#000" stroke-width="0.85"/>
<line x1="179.76" y1="1002.8" x2="183.56" y2="1002.8" stroke="#000" stroke-width="0.85"/>
<line x1="198.38" y1="982.82" x2="198.38" y2="990.59" stroke="#000" stroke-width="0.85"/>
<line x1="196.48" y1="982.82" x2="200.28" y2="982.82" stroke="#000" stroke-width="0.85"/>
<line x1="196.48" y1="990.59" x2="200.28" y2="990.59" stroke="#000" stroke-width="0.85"/>
<polygon points="47.9,1038.88 46.3,1036.05 49.49,1036.05" fill="#000"/>
<polygon points="64.62,1030.56 63.03,1027.73 66.22,1027.73" fill="#000"/>
<polygon points="81.34,1025.56 79.75,1022.73 82.94,1022.73" fill="#000"/>
<polygon points="98.06,1021.12 96.47,1018.29 99.66,1018.29" fill="#000"/>
<polygon points="114.78,1025.56 113.19,1022.73 116.38,1022.73" fill="#000"/>
<polygon points="131.5,1022.23 129.91,1019.4 133.09,1019.4" fill="#000"/>
<polygon points="148.22,1020.01 146.62,1017.18 149.81,1017.18" fill="#000"/>
<polygon points="164.94,1013.91 163.34,1011.08 166.53,1011.08" fill="#000"/>
<polygon points="181.66,1002.81 180.06,999.98 183.25,999.98" fill="#000"/>
<polygon points="198.38,988.38 196.78,985.55 199.97,985.55" fill="#000"/>
<polyline points="204.3,956.3 206.5,956.3 206.5,985.7 204.3,985.7" fill="none" stroke="#000" stroke-width="0.8" stroke-linejoin="miter"/>
<polyline points="211.3,961.5 213.7,961.5 213.7,985.7 211.3,985.7" fill="none" stroke="#000" stroke-width="0.8" stroke-linejoin="miter"/>
<circle cx="210.4" cy="970.25" r="1.01" fill="#000"/>
<circle cx="210.4" cy="973.25" r="1.01" fill="#000"/>
<circle cx="218" cy="970.7" r="1.01" fill="#000"/>
<text x="24.2" y="957" font-size="6.7" font-weight="bold" text-anchor="middle" transform="rotate(-90 24.2 957)">Tumor size (cm³)</text>
<text x="131.3" y="1059.5" font-size="6.6" font-weight="bold" text-anchor="middle">Days after tumor inoculation</text>
<text x="233.3" y="868.9" font-size="11.3" font-weight="bold" text-anchor="start">H</text>
<line x1="268.2" y1="919.3" x2="268.2" y2="1041.25" stroke="#000" stroke-width="1.3"/>
<line x1="265.9" y1="1040.6" x2="268.2" y2="1040.6" stroke="#000" stroke-width="1.17"/>
<text x="265.3" y="1042.8" font-size="5.5" font-weight="bold" text-anchor="end">0</text>
<line x1="265.9" y1="1016.35" x2="268.2" y2="1016.35" stroke="#000" stroke-width="1.17"/>
<text x="265.3" y="1018.55" font-size="5.5" font-weight="bold" text-anchor="end">20</text>
<line x1="265.9" y1="992.1" x2="268.2" y2="992.1" stroke="#000" stroke-width="1.17"/>
<text x="265.3" y="994.3" font-size="5.5" font-weight="bold" text-anchor="end">40</text>
<line x1="265.9" y1="967.85" x2="268.2" y2="967.85" stroke="#000" stroke-width="1.17"/>
<text x="265.3" y="970.05" font-size="5.5" font-weight="bold" text-anchor="end">60</text>
<line x1="265.9" y1="943.6" x2="268.2" y2="943.6" stroke="#000" stroke-width="1.17"/>
<text x="265.3" y="945.8" font-size="5.5" font-weight="bold" text-anchor="end">80</text>
<line x1="265.9" y1="919.35" x2="268.2" y2="919.35" stroke="#000" stroke-width="1.17"/>
<text x="265.3" y="921.55" font-size="5.5" font-weight="bold" text-anchor="end">100</text>
<line x1="268.2" y1="1040.6" x2="437.5" y2="1040.6" stroke="#000" stroke-width="1.4"/>
<line x1="268.6" y1="1040.6" x2="268.6" y2="1043.2" stroke="#000" stroke-width="1"/>
<line x1="271.97" y1="1040.6" x2="271.97" y2="1042.5" stroke="#000" stroke-width="0.85"/>
<line x1="275.34" y1="1040.6" x2="275.34" y2="1042.5" stroke="#000" stroke-width="0.85"/>
<line x1="278.7" y1="1040.6" x2="278.7" y2="1042.5" stroke="#000" stroke-width="0.85"/>
<line x1="282.07" y1="1040.6" x2="282.07" y2="1042.5" stroke="#000" stroke-width="0.85"/>
<line x1="285.44" y1="1040.6" x2="285.44" y2="1043.2" stroke="#000" stroke-width="1"/>
<line x1="288.81" y1="1040.6" x2="288.81" y2="1042.5" stroke="#000" stroke-width="0.85"/>
<line x1="292.18" y1="1040.6" x2="292.18" y2="1042.5" stroke="#000" stroke-width="0.85"/>
<line x1="295.54" y1="1040.6" x2="295.54" y2="1042.5" stroke="#000" stroke-width="0.85"/>
<line x1="298.91" y1="1040.6" x2="298.91" y2="1042.5" stroke="#000" stroke-width="0.85"/>
<line x1="302.28" y1="1040.6" x2="302.28" y2="1043.2" stroke="#000" stroke-width="1"/>
<line x1="305.65" y1="1040.6" x2="305.65" y2="1042.5" stroke="#000" stroke-width="0.85"/>
<line x1="309.02" y1="1040.6" x2="309.02" y2="1042.5" stroke="#000" stroke-width="0.85"/>
<line x1="312.38" y1="1040.6" x2="312.38" y2="1042.5" stroke="#000" stroke-width="0.85"/>
<line x1="315.75" y1="1040.6" x2="315.75" y2="1042.5" stroke="#000" stroke-width="0.85"/>
<line x1="319.12" y1="1040.6" x2="319.12" y2="1043.2" stroke="#000" stroke-width="1"/>
<line x1="322.49" y1="1040.6" x2="322.49" y2="1042.5" stroke="#000" stroke-width="0.85"/>
<line x1="325.86" y1="1040.6" x2="325.86" y2="1042.5" stroke="#000" stroke-width="0.85"/>
<line x1="329.22" y1="1040.6" x2="329.22" y2="1042.5" stroke="#000" stroke-width="0.85"/>
<line x1="332.59" y1="1040.6" x2="332.59" y2="1042.5" stroke="#000" stroke-width="0.85"/>
<line x1="335.96" y1="1040.6" x2="335.96" y2="1043.2" stroke="#000" stroke-width="1"/>
<line x1="339.33" y1="1040.6" x2="339.33" y2="1042.5" stroke="#000" stroke-width="0.85"/>
<line x1="342.7" y1="1040.6" x2="342.7" y2="1042.5" stroke="#000" stroke-width="0.85"/>
<line x1="346.06" y1="1040.6" x2="346.06" y2="1042.5" stroke="#000" stroke-width="0.85"/>
<line x1="349.43" y1="1040.6" x2="349.43" y2="1042.5" stroke="#000" stroke-width="0.85"/>
<line x1="352.8" y1="1040.6" x2="352.8" y2="1043.2" stroke="#000" stroke-width="1"/>
<line x1="356.17" y1="1040.6" x2="356.17" y2="1042.5" stroke="#000" stroke-width="0.85"/>
<line x1="359.54" y1="1040.6" x2="359.54" y2="1042.5" stroke="#000" stroke-width="0.85"/>
<line x1="362.9" y1="1040.6" x2="362.9" y2="1042.5" stroke="#000" stroke-width="0.85"/>
<line x1="366.27" y1="1040.6" x2="366.27" y2="1042.5" stroke="#000" stroke-width="0.85"/>
<line x1="369.64" y1="1040.6" x2="369.64" y2="1043.2" stroke="#000" stroke-width="1"/>
<line x1="373.01" y1="1040.6" x2="373.01" y2="1042.5" stroke="#000" stroke-width="0.85"/>
<line x1="376.38" y1="1040.6" x2="376.38" y2="1042.5" stroke="#000" stroke-width="0.85"/>
<line x1="379.74" y1="1040.6" x2="379.74" y2="1042.5" stroke="#000" stroke-width="0.85"/>
<line x1="383.11" y1="1040.6" x2="383.11" y2="1042.5" stroke="#000" stroke-width="0.85"/>
<line x1="386.48" y1="1040.6" x2="386.48" y2="1043.2" stroke="#000" stroke-width="1"/>
<line x1="389.85" y1="1040.6" x2="389.85" y2="1042.5" stroke="#000" stroke-width="0.85"/>
<line x1="393.22" y1="1040.6" x2="393.22" y2="1042.5" stroke="#000" stroke-width="0.85"/>
<line x1="396.58" y1="1040.6" x2="396.58" y2="1042.5" stroke="#000" stroke-width="0.85"/>
<line x1="399.95" y1="1040.6" x2="399.95" y2="1042.5" stroke="#000" stroke-width="0.85"/>
<line x1="403.32" y1="1040.6" x2="403.32" y2="1043.2" stroke="#000" stroke-width="1"/>
<line x1="406.69" y1="1040.6" x2="406.69" y2="1042.5" stroke="#000" stroke-width="0.85"/>
<line x1="410.06" y1="1040.6" x2="410.06" y2="1042.5" stroke="#000" stroke-width="0.85"/>
<line x1="413.42" y1="1040.6" x2="413.42" y2="1042.5" stroke="#000" stroke-width="0.85"/>
<line x1="416.79" y1="1040.6" x2="416.79" y2="1042.5" stroke="#000" stroke-width="0.85"/>
<line x1="420.16" y1="1040.6" x2="420.16" y2="1043.2" stroke="#000" stroke-width="1"/>
<line x1="423.53" y1="1040.6" x2="423.53" y2="1042.5" stroke="#000" stroke-width="0.85"/>
<line x1="426.9" y1="1040.6" x2="426.9" y2="1042.5" stroke="#000" stroke-width="0.85"/>
<line x1="430.26" y1="1040.6" x2="430.26" y2="1042.5" stroke="#000" stroke-width="0.85"/>
<line x1="433.63" y1="1040.6" x2="433.63" y2="1042.5" stroke="#000" stroke-width="0.85"/>
<line x1="437" y1="1040.6" x2="437" y2="1043.2" stroke="#000" stroke-width="1"/>
<text x="268.6" y="1048.7" font-size="6" font-weight="bold" text-anchor="middle">0</text>
<text x="285.44" y="1048.7" font-size="6" font-weight="bold" text-anchor="middle">10</text>
<text x="302.28" y="1048.7" font-size="6" font-weight="bold" text-anchor="middle">20</text>
<text x="319.12" y="1048.7" font-size="6" font-weight="bold" text-anchor="middle">30</text>
<text x="335.96" y="1048.7" font-size="6" font-weight="bold" text-anchor="middle">40</text>
<text x="352.8" y="1048.7" font-size="6" font-weight="bold" text-anchor="middle">50</text>
<text x="369.64" y="1048.7" font-size="6" font-weight="bold" text-anchor="middle">60</text>
<text x="386.48" y="1048.7" font-size="6" font-weight="bold" text-anchor="middle">70</text>
<text x="403.32" y="1048.7" font-size="6" font-weight="bold" text-anchor="middle">80</text>
<text x="420.16" y="1048.7" font-size="6" font-weight="bold" text-anchor="middle">90</text>
<text x="437" y="1048.7" font-size="6" font-weight="bold" text-anchor="middle">100</text>
<polyline points="323.4,919.35 323.4,919.35 323.4,943.6 326.5,943.6 326.5,955.72 328.4,955.72 328.4,967.85 330.4,967.85 330.4,979.97 333.8,979.97 333.8,992.1 337,992.1 337,1004.22 338.8,1004.22 338.8,1016.35 342.2,1016.35 342.2,1028.47 344,1028.47 344,1040.6" fill="none" stroke="#000" stroke-width="1.1" stroke-linejoin="miter"/>
<circle cx="323.4" cy="943.6" r="1.35" fill="#000"/>
<circle cx="326.5" cy="955.72" r="1.35" fill="#000"/>
<circle cx="328.4" cy="967.85" r="1.35" fill="#000"/>
<circle cx="330.4" cy="979.97" r="1.35" fill="#000"/>
<circle cx="333.8" cy="992.1" r="1.35" fill="#000"/>
<circle cx="337" cy="1004.22" r="1.35" fill="#000"/>
<circle cx="338.8" cy="1016.35" r="1.35" fill="#000"/>
<circle cx="342.2" cy="1028.47" r="1.35" fill="#000"/>
<circle cx="344" cy="1040.6" r="1.35" fill="#000"/>
<polyline points="347.6,919.35 347.6,919.35 347.6,943.6 351.1,943.6 351.1,955.72 352.3,955.72 352.3,967.85 352.4,967.85 352.4,979.97 355.7,979.97 355.7,992.1 361,992.1 361,1004.22 366.3,1004.22 366.3,1016.35 367.6,1016.35 367.6,1040.6" fill="none" stroke="#000" stroke-width="1.1" stroke-linejoin="miter"/>
<polygon points="347.6,942.05 346.12,944.68 349.09,944.68" fill="#000"/>
<polygon points="351.1,954.17 349.62,956.8 352.59,956.8" fill="#000"/>
<polygon points="352.3,966.3 350.81,968.93 353.79,968.93" fill="#000"/>
<polygon points="352.4,978.42 350.91,981.05 353.88,981.05" fill="#000"/>
<polygon points="355.7,990.55 354.21,993.18 357.19,993.18" fill="#000"/>
<polygon points="361,1002.67 359.51,1005.3 362.49,1005.3" fill="#000"/>
<polygon points="366.3,1014.8 364.81,1017.43 367.79,1017.43" fill="#000"/>
<polygon points="367.6,1039.05 366.12,1041.68 369.09,1041.68" fill="#000"/>
<polyline points="350.9,919.35 350.9,919.35 350.9,943.6 351.3,943.6 351.3,955.72 352.5,955.72 352.5,967.85 361.3,967.85 361.3,979.97 362.5,979.97 362.5,992.1 369.6,992.1 369.6,1004.22 370.9,1004.22 370.9,1028.47 374.4,1028.47 374.4,1040.6" fill="none" stroke="#000" stroke-width="1.1" stroke-linejoin="miter"/>
<polygon points="350.9,945.15 349.41,942.52 352.38,942.52" fill="#000"/>
<polygon points="351.3,957.28 349.81,954.64 352.79,954.64" fill="#000"/>
<polygon points="352.5,969.4 351.01,966.77 353.99,966.77" fill="#000"/>
<polygon points="361.3,981.53 359.81,978.89 362.79,978.89" fill="#000"/>
<polygon points="362.5,993.65 361.01,991.02 363.99,991.02" fill="#000"/>
<polygon points="369.6,1005.78 368.12,1003.14 371.09,1003.14" fill="#000"/>
<polygon points="370.9,1030.03 369.41,1027.39 372.38,1027.39" fill="#000"/>
<polygon points="374.4,1042.15 372.91,1039.52 375.88,1039.52" fill="#000"/>
<polyline points="364.3,919.35 364.3,919.35 364.3,931.47 367.3,931.47 367.3,955.72 377.5,955.72 377.5,967.85 380.3,967.85 380.3,1004.22 384.3,1004.22 384.3,1016.35 394.8,1016.35 394.8,1028.47 407.8,1028.47 407.8,1040.6" fill="none" stroke="#000" stroke-width="1.1" stroke-linejoin="miter"/>
<rect x="362.95" y="930.12" width="2.7" height="2.7" fill="#000"/>
<rect x="365.95" y="954.37" width="2.7" height="2.7" fill="#000"/>
<rect x="376.15" y="966.5" width="2.7" height="2.7" fill="#000"/>
<rect x="378.95" y="1002.87" width="2.7" height="2.7" fill="#000"/>
<rect x="382.95" y="1015" width="2.7" height="2.7" fill="#000"/>
<rect x="393.45" y="1027.12" width="2.7" height="2.7" fill="#000"/>
<rect x="406.45" y="1039.25" width="2.7" height="2.7" fill="#000"/>
<line x1="268.2" y1="919.35" x2="364.3" y2="919.35" stroke="#000" stroke-width="1.1"/>
<line x1="287" y1="864" x2="297" y2="864" stroke="#000" stroke-width="1"/>
<circle cx="292" cy="864" r="1.25" fill="#000"/>
<text x="302" y="866.48" font-size="6.9" font-weight="normal" text-anchor="start">IgG Control days 14, 18, 22, 26</text>
<line x1="287" y1="876.2" x2="297" y2="876.2" stroke="#000" stroke-width="1"/>
<polygon points="292,874.76 290.62,877.2 293.38,877.2" fill="#000"/>
<text x="302" y="878.68" font-size="6.9" font-weight="normal" text-anchor="start">Rituximab 200ug/dose days 14, 18, 22, 26</text>
<line x1="287" y1="888.5" x2="297" y2="888.5" stroke="#000" stroke-width="1"/>
<polygon points="292,889.94 290.62,887.5 293.38,887.5" fill="#000"/>
<text x="302" y="890.98" font-size="6.9" font-weight="normal" text-anchor="start">Ibrutinib 25mg/kg/dose (BID) days 14-28</text>
<line x1="287" y1="905.8" x2="297" y2="905.8" stroke="#000" stroke-width="1"/>
<rect x="290.75" y="904.55" width="2.5" height="2.5" fill="#000"/>
<text x="302" y="908.28" font-size="6.9" font-weight="normal" text-anchor="start"></text>
<text x="302" y="904.7" font-size="6.9" font-weight="normal" text-anchor="start">Rituximab 200ug/dose days 14, 18, 22, 26 +</text>
<text x="302" y="912.7" font-size="6.9" font-weight="normal" text-anchor="start">Ibrutinib 25mg/kg/dose (BID) days 14-28</text>
<polyline points="437.1,877.5 439.7,877.5 439.7,888.8 437.1,888.8" fill="none" stroke="#000" stroke-width="0.8" stroke-linejoin="miter"/>
<circle cx="444.5" cy="882.6" r="1.01" fill="#000"/>
<text x="246.6" y="978.9" font-size="6.6" font-weight="bold" text-anchor="middle" transform="rotate(-90 246.6 978.9)">Percent survival</text>
<text x="352.5" y="1058.5" font-size="6.25" font-weight="bold" text-anchor="middle">Days after tumor inoculation</text>
<text x="17.2" y="1081.5" font-size="11.3" font-weight="bold" text-anchor="start">I</text>
<line x1="49.1" y1="1092" x2="49.1" y2="1260.05" stroke="#000" stroke-width="1.3"/>
<line x1="46.8" y1="1259.4" x2="49.1" y2="1259.4" stroke="#000" stroke-width="1.17"/>
<text x="46" y="1261.84" font-size="6.1" font-weight="bold" text-anchor="end">0.0</text>
<line x1="46.8" y1="1242.69" x2="49.1" y2="1242.69" stroke="#000" stroke-width="1.17"/>
<text x="46" y="1245.13" font-size="6.1" font-weight="bold" text-anchor="end">0.3</text>
<line x1="46.8" y1="1225.98" x2="49.1" y2="1225.98" stroke="#000" stroke-width="1.17"/>
<text x="46" y="1228.42" font-size="6.1" font-weight="bold" text-anchor="end">0.6</text>
<line x1="46.8" y1="1209.27" x2="49.1" y2="1209.27" stroke="#000" stroke-width="1.17"/>
<text x="46" y="1211.71" font-size="6.1" font-weight="bold" text-anchor="end">0.9</text>
<line x1="46.8" y1="1192.56" x2="49.1" y2="1192.56" stroke="#000" stroke-width="1.17"/>
<text x="46" y="1195" font-size="6.1" font-weight="bold" text-anchor="end">1.2</text>
<line x1="46.8" y1="1175.85" x2="49.1" y2="1175.85" stroke="#000" stroke-width="1.17"/>
<text x="46" y="1178.29" font-size="6.1" font-weight="bold" text-anchor="end">1.5</text>
<line x1="46.8" y1="1159.14" x2="49.1" y2="1159.14" stroke="#000" stroke-width="1.17"/>
<text x="46" y="1161.58" font-size="6.1" font-weight="bold" text-anchor="end">1.8</text>
<line x1="46.8" y1="1142.43" x2="49.1" y2="1142.43" stroke="#000" stroke-width="1.17"/>
<text x="46" y="1144.87" font-size="6.1" font-weight="bold" text-anchor="end">2.1</text>
<line x1="46.8" y1="1125.72" x2="49.1" y2="1125.72" stroke="#000" stroke-width="1.17"/>
<text x="46" y="1128.16" font-size="6.1" font-weight="bold" text-anchor="end">2.4</text>
<line x1="46.8" y1="1109.01" x2="49.1" y2="1109.01" stroke="#000" stroke-width="1.17"/>
<text x="46" y="1111.45" font-size="6.1" font-weight="bold" text-anchor="end">2.7</text>
<line x1="46.8" y1="1092.3" x2="49.1" y2="1092.3" stroke="#000" stroke-width="1.17"/>
<text x="46" y="1094.74" font-size="6.1" font-weight="bold" text-anchor="end">3.0</text>
<line x1="47.7" y1="1253.83" x2="49.1" y2="1253.83" stroke="#000" stroke-width="0.8"/>
<line x1="47.7" y1="1248.26" x2="49.1" y2="1248.26" stroke="#000" stroke-width="0.8"/>
<line x1="47.7" y1="1242.69" x2="49.1" y2="1242.69" stroke="#000" stroke-width="0.8"/>
<line x1="47.7" y1="1237.12" x2="49.1" y2="1237.12" stroke="#000" stroke-width="0.8"/>
<line x1="47.7" y1="1231.55" x2="49.1" y2="1231.55" stroke="#000" stroke-width="0.8"/>
<line x1="47.7" y1="1225.98" x2="49.1" y2="1225.98" stroke="#000" stroke-width="0.8"/>
<line x1="47.7" y1="1220.41" x2="49.1" y2="1220.41" stroke="#000" stroke-width="0.8"/>
<line x1="47.7" y1="1214.84" x2="49.1" y2="1214.84" stroke="#000" stroke-width="0.8"/>
<line x1="47.7" y1="1209.27" x2="49.1" y2="1209.27" stroke="#000" stroke-width="0.8"/>
<line x1="47.7" y1="1203.7" x2="49.1" y2="1203.7" stroke="#000" stroke-width="0.8"/>
<line x1="47.7" y1="1198.13" x2="49.1" y2="1198.13" stroke="#000" stroke-width="0.8"/>
<line x1="47.7" y1="1192.56" x2="49.1" y2="1192.56" stroke="#000" stroke-width="0.8"/>
<line x1="47.7" y1="1186.99" x2="49.1" y2="1186.99" stroke="#000" stroke-width="0.8"/>
<line x1="47.7" y1="1181.42" x2="49.1" y2="1181.42" stroke="#000" stroke-width="0.8"/>
<line x1="47.7" y1="1175.85" x2="49.1" y2="1175.85" stroke="#000" stroke-width="0.8"/>
<line x1="47.7" y1="1170.28" x2="49.1" y2="1170.28" stroke="#000" stroke-width="0.8"/>
<line x1="47.7" y1="1164.71" x2="49.1" y2="1164.71" stroke="#000" stroke-width="0.8"/>
<line x1="47.7" y1="1159.14" x2="49.1" y2="1159.14" stroke="#000" stroke-width="0.8"/>
<line x1="47.7" y1="1153.57" x2="49.1" y2="1153.57" stroke="#000" stroke-width="0.8"/>
<line x1="47.7" y1="1148" x2="49.1" y2="1148" stroke="#000" stroke-width="0.8"/>
<line x1="47.7" y1="1142.43" x2="49.1" y2="1142.43" stroke="#000" stroke-width="0.8"/>
<line x1="47.7" y1="1136.86" x2="49.1" y2="1136.86" stroke="#000" stroke-width="0.8"/>
<line x1="47.7" y1="1131.29" x2="49.1" y2="1131.29" stroke="#000" stroke-width="0.8"/>
<line x1="47.7" y1="1125.72" x2="49.1" y2="1125.72" stroke="#000" stroke-width="0.8"/>
<line x1="47.7" y1="1120.15" x2="49.1" y2="1120.15" stroke="#000" stroke-width="0.8"/>
<line x1="47.7" y1="1114.58" x2="49.1" y2="1114.58" stroke="#000" stroke-width="0.8"/>
<line x1="47.7" y1="1109.01" x2="49.1" y2="1109.01" stroke="#000" stroke-width="0.8"/>
<line x1="47.7" y1="1103.44" x2="49.1" y2="1103.44" stroke="#000" stroke-width="0.8"/>
<line x1="47.7" y1="1097.87" x2="49.1" y2="1097.87" stroke="#000" stroke-width="0.8"/>
<line x1="47.7" y1="1092.3" x2="49.1" y2="1092.3" stroke="#000" stroke-width="0.8"/>
<line x1="49.1" y1="1259.4" x2="217.35" y2="1259.4" stroke="#000" stroke-width="1.4"/>
<line x1="49.8" y1="1259.4" x2="49.8" y2="1262" stroke="#000" stroke-width="1"/>
<line x1="56.22" y1="1259.4" x2="56.22" y2="1261.3" stroke="#000" stroke-width="0.85"/>
<line x1="62.65" y1="1259.4" x2="62.65" y2="1261.3" stroke="#000" stroke-width="0.85"/>
<line x1="69.07" y1="1259.4" x2="69.07" y2="1261.3" stroke="#000" stroke-width="0.85"/>
<line x1="75.5" y1="1259.4" x2="75.5" y2="1262" stroke="#000" stroke-width="1"/>
<line x1="81.92" y1="1259.4" x2="81.92" y2="1261.3" stroke="#000" stroke-width="0.85"/>
<line x1="88.35" y1="1259.4" x2="88.35" y2="1261.3" stroke="#000" stroke-width="0.85"/>
<line x1="94.78" y1="1259.4" x2="94.78" y2="1261.3" stroke="#000" stroke-width="0.85"/>
<line x1="101.2" y1="1259.4" x2="101.2" y2="1262" stroke="#000" stroke-width="1"/>
<line x1="107.62" y1="1259.4" x2="107.62" y2="1261.3" stroke="#000" stroke-width="0.85"/>
<line x1="114.05" y1="1259.4" x2="114.05" y2="1261.3" stroke="#000" stroke-width="0.85"/>
<line x1="120.47" y1="1259.4" x2="120.47" y2="1261.3" stroke="#000" stroke-width="0.85"/>
<line x1="126.9" y1="1259.4" x2="126.9" y2="1262" stroke="#000" stroke-width="1"/>
<line x1="133.32" y1="1259.4" x2="133.32" y2="1261.3" stroke="#000" stroke-width="0.85"/>
<line x1="139.75" y1="1259.4" x2="139.75" y2="1261.3" stroke="#000" stroke-width="0.85"/>
<line x1="146.18" y1="1259.4" x2="146.18" y2="1261.3" stroke="#000" stroke-width="0.85"/>
<line x1="152.6" y1="1259.4" x2="152.6" y2="1262" stroke="#000" stroke-width="1"/>
<line x1="159.02" y1="1259.4" x2="159.02" y2="1261.3" stroke="#000" stroke-width="0.85"/>
<line x1="165.45" y1="1259.4" x2="165.45" y2="1261.3" stroke="#000" stroke-width="0.85"/>
<line x1="171.88" y1="1259.4" x2="171.88" y2="1261.3" stroke="#000" stroke-width="0.85"/>
<line x1="178.3" y1="1259.4" x2="178.3" y2="1262" stroke="#000" stroke-width="1"/>
<line x1="184.72" y1="1259.4" x2="184.72" y2="1261.3" stroke="#000" stroke-width="0.85"/>
<line x1="191.15" y1="1259.4" x2="191.15" y2="1261.3" stroke="#000" stroke-width="0.85"/>
<line x1="197.57" y1="1259.4" x2="197.57" y2="1261.3" stroke="#000" stroke-width="0.85"/>
<line x1="204" y1="1259.4" x2="204" y2="1262" stroke="#000" stroke-width="1"/>
<line x1="210.43" y1="1259.4" x2="210.43" y2="1261.3" stroke="#000" stroke-width="0.85"/>
<line x1="216.85" y1="1259.4" x2="216.85" y2="1261.3" stroke="#000" stroke-width="0.85"/>
<text x="49.8" y="1268" font-size="6" font-weight="bold" text-anchor="middle">14</text>
<text x="75.5" y="1268" font-size="6" font-weight="bold" text-anchor="middle">18</text>
<text x="101.2" y="1268" font-size="6" font-weight="bold" text-anchor="middle">22</text>
<text x="126.9" y="1268" font-size="6" font-weight="bold" text-anchor="middle">26</text>
<text x="152.6" y="1268" font-size="6" font-weight="bold" text-anchor="middle">30</text>
<text x="178.3" y="1268" font-size="6" font-weight="bold" text-anchor="middle">34</text>
<text x="204" y="1268" font-size="6" font-weight="bold" text-anchor="middle">38</text>
<polyline points="49.8,1255.5 62.65,1248.26 75.5,1239.35 88.35,1232.66 101.2,1225.98 114.05,1213.17 126.9,1200.92 139.75,1192 152.6,1180.31 165.45,1169.17 178.3,1151.9 191.15,1130.18 204,1111.24" fill="none" stroke="#000" stroke-width="1.05" stroke-linejoin="miter"/>
<line x1="62.65" y1="1247.15" x2="62.65" y2="1249.37" stroke="#000" stroke-width="0.85"/>
<line x1="60.75" y1="1247.15" x2="64.55" y2="1247.15" stroke="#000" stroke-width="0.85"/>
<line x1="60.75" y1="1249.37" x2="64.55" y2="1249.37" stroke="#000" stroke-width="0.85"/>
<line x1="75.5" y1="1238.23" x2="75.5" y2="1240.46" stroke="#000" stroke-width="0.85"/>
<line x1="73.6" y1="1238.23" x2="77.4" y2="1238.23" stroke="#000" stroke-width="0.85"/>
<line x1="73.6" y1="1240.46" x2="77.4" y2="1240.46" stroke="#000" stroke-width="0.85"/>
<line x1="88.35" y1="1230.99" x2="88.35" y2="1234.34" stroke="#000" stroke-width="0.85"/>
<line x1="86.45" y1="1230.99" x2="90.25" y2="1230.99" stroke="#000" stroke-width="0.85"/>
<line x1="86.45" y1="1234.34" x2="90.25" y2="1234.34" stroke="#000" stroke-width="0.85"/>
<line x1="101.2" y1="1223.2" x2="101.2" y2="1228.77" stroke="#000" stroke-width="0.85"/>
<line x1="99.3" y1="1223.2" x2="103.1" y2="1223.2" stroke="#000" stroke-width="0.85"/>
<line x1="99.3" y1="1228.77" x2="103.1" y2="1228.77" stroke="#000" stroke-width="0.85"/>
<line x1="114.05" y1="1210.38" x2="114.05" y2="1215.95" stroke="#000" stroke-width="0.85"/>
<line x1="112.15" y1="1210.38" x2="115.95" y2="1210.38" stroke="#000" stroke-width="0.85"/>
<line x1="112.15" y1="1215.95" x2="115.95" y2="1215.95" stroke="#000" stroke-width="0.85"/>
<line x1="126.9" y1="1197.57" x2="126.9" y2="1204.26" stroke="#000" stroke-width="0.85"/>
<line x1="125" y1="1197.57" x2="128.8" y2="1197.57" stroke="#000" stroke-width="0.85"/>
<line x1="125" y1="1204.26" x2="128.8" y2="1204.26" stroke="#000" stroke-width="0.85"/>
<line x1="139.75" y1="1188.66" x2="139.75" y2="1195.35" stroke="#000" stroke-width="0.85"/>
<line x1="137.85" y1="1188.66" x2="141.65" y2="1188.66" stroke="#000" stroke-width="0.85"/>
<line x1="137.85" y1="1195.35" x2="141.65" y2="1195.35" stroke="#000" stroke-width="0.85"/>
<line x1="152.6" y1="1176.96" x2="152.6" y2="1183.65" stroke="#000" stroke-width="0.85"/>
<line x1="150.7" y1="1176.96" x2="154.5" y2="1176.96" stroke="#000" stroke-width="0.85"/>
<line x1="150.7" y1="1183.65" x2="154.5" y2="1183.65" stroke="#000" stroke-width="0.85"/>
<line x1="165.45" y1="1165.27" x2="165.45" y2="1173.07" stroke="#000" stroke-width="0.85"/>
<line x1="163.55" y1="1165.27" x2="167.35" y2="1165.27" stroke="#000" stroke-width="0.85"/>
<line x1="163.55" y1="1173.07" x2="167.35" y2="1173.07" stroke="#000" stroke-width="0.85"/>
<line x1="178.3" y1="1148" x2="178.3" y2="1155.8" stroke="#000" stroke-width="0.85"/>
<line x1="176.4" y1="1148" x2="180.2" y2="1148" stroke="#000" stroke-width="0.85"/>
<line x1="176.4" y1="1155.8" x2="180.2" y2="1155.8" stroke="#000" stroke-width="0.85"/>
<line x1="191.15" y1="1125.16" x2="191.15" y2="1135.19" stroke="#000" stroke-width="0.85"/>
<line x1="189.25" y1="1125.16" x2="193.05" y2="1125.16" stroke="#000" stroke-width="0.85"/>
<line x1="189.25" y1="1135.19" x2="193.05" y2="1135.19" stroke="#000" stroke-width="0.85"/>
<line x1="204" y1="1106.23" x2="204" y2="1116.25" stroke="#000" stroke-width="0.85"/>
<line x1="202.1" y1="1106.23" x2="205.9" y2="1106.23" stroke="#000" stroke-width="0.85"/>
<line x1="202.1" y1="1116.25" x2="205.9" y2="1116.25" stroke="#000" stroke-width="0.85"/>
<circle cx="49.8" cy="1255.5" r="1.45" fill="#fff" stroke="#000" stroke-width="0.95"/>
<circle cx="62.65" cy="1248.26" r="1.45" fill="#fff" stroke="#000" stroke-width="0.95"/>
<circle cx="75.5" cy="1239.35" r="1.45" fill="#fff" stroke="#000" stroke-width="0.95"/>
<circle cx="88.35" cy="1232.66" r="1.45" fill="#fff" stroke="#000" stroke-width="0.95"/>
<circle cx="101.2" cy="1225.98" r="1.45" fill="#fff" stroke="#000" stroke-width="0.95"/>
<circle cx="114.05" cy="1213.17" r="1.45" fill="#fff" stroke="#000" stroke-width="0.95"/>
<circle cx="126.9" cy="1200.92" r="1.45" fill="#fff" stroke="#000" stroke-width="0.95"/>
<circle cx="139.75" cy="1192" r="1.45" fill="#fff" stroke="#000" stroke-width="0.95"/>
<circle cx="152.6" cy="1180.31" r="1.45" fill="#fff" stroke="#000" stroke-width="0.95"/>
<circle cx="165.45" cy="1169.17" r="1.45" fill="#fff" stroke="#000" stroke-width="0.95"/>
<circle cx="178.3" cy="1151.9" r="1.45" fill="#fff" stroke="#000" stroke-width="0.95"/>
<circle cx="191.15" cy="1130.18" r="1.45" fill="#fff" stroke="#000" stroke-width="0.95"/>
<circle cx="204" cy="1111.24" r="1.45" fill="#fff" stroke="#000" stroke-width="0.95"/>
<polyline points="49.8,1255.5 62.65,1248.26 75.5,1239.35 88.35,1232.66 101.2,1225.98 114.05,1232.66 126.9,1228.77 139.75,1224.31 152.6,1217.07 165.45,1208.16 178.3,1194.79 191.15,1176.41 204,1162.48" fill="none" stroke="#000" stroke-width="1.05" stroke-linejoin="miter"/>
<line x1="62.65" y1="1247.15" x2="62.65" y2="1249.37" stroke="#000" stroke-width="0.85"/>
<line x1="60.75" y1="1247.15" x2="64.55" y2="1247.15" stroke="#000" stroke-width="0.85"/>
<line x1="60.75" y1="1249.37" x2="64.55" y2="1249.37" stroke="#000" stroke-width="0.85"/>
<line x1="75.5" y1="1238.23" x2="75.5" y2="1240.46" stroke="#000" stroke-width="0.85"/>
<line x1="73.6" y1="1238.23" x2="77.4" y2="1238.23" stroke="#000" stroke-width="0.85"/>
<line x1="73.6" y1="1240.46" x2="77.4" y2="1240.46" stroke="#000" stroke-width="0.85"/>
<line x1="88.35" y1="1230.99" x2="88.35" y2="1234.34" stroke="#000" stroke-width="0.85"/>
<line x1="86.45" y1="1230.99" x2="90.25" y2="1230.99" stroke="#000" stroke-width="0.85"/>
<line x1="86.45" y1="1234.34" x2="90.25" y2="1234.34" stroke="#000" stroke-width="0.85"/>
<line x1="101.2" y1="1223.2" x2="101.2" y2="1228.77" stroke="#000" stroke-width="0.85"/>
<line x1="99.3" y1="1223.2" x2="103.1" y2="1223.2" stroke="#000" stroke-width="0.85"/>
<line x1="99.3" y1="1228.77" x2="103.1" y2="1228.77" stroke="#000" stroke-width="0.85"/>
<line x1="114.05" y1="1229.88" x2="114.05" y2="1235.45" stroke="#000" stroke-width="0.85"/>
<line x1="112.15" y1="1229.88" x2="115.95" y2="1229.88" stroke="#000" stroke-width="0.85"/>
<line x1="112.15" y1="1235.45" x2="115.95" y2="1235.45" stroke="#000" stroke-width="0.85"/>
<line x1="126.9" y1="1225.98" x2="126.9" y2="1231.55" stroke="#000" stroke-width="0.85"/>
<line x1="125" y1="1225.98" x2="128.8" y2="1225.98" stroke="#000" stroke-width="0.85"/>
<line x1="125" y1="1231.55" x2="128.8" y2="1231.55" stroke="#000" stroke-width="0.85"/>
<line x1="139.75" y1="1222.08" x2="139.75" y2="1226.54" stroke="#000" stroke-width="0.85"/>
<line x1="137.85" y1="1222.08" x2="141.65" y2="1222.08" stroke="#000" stroke-width="0.85"/>
<line x1="137.85" y1="1226.54" x2="141.65" y2="1226.54" stroke="#000" stroke-width="0.85"/>
<line x1="152.6" y1="1214.84" x2="152.6" y2="1219.3" stroke="#000" stroke-width="0.85"/>
<line x1="150.7" y1="1214.84" x2="154.5" y2="1214.84" stroke="#000" stroke-width="0.85"/>
<line x1="150.7" y1="1219.3" x2="154.5" y2="1219.3" stroke="#000" stroke-width="0.85"/>
<line x1="165.45" y1="1204.81" x2="165.45" y2="1211.5" stroke="#000" stroke-width="0.85"/>
<line x1="163.55" y1="1204.81" x2="167.35" y2="1204.81" stroke="#000" stroke-width="0.85"/>
<line x1="163.55" y1="1211.5" x2="167.35" y2="1211.5" stroke="#000" stroke-width="0.85"/>
<line x1="178.3" y1="1191.45" x2="178.3" y2="1198.13" stroke="#000" stroke-width="0.85"/>
<line x1="176.4" y1="1191.45" x2="180.2" y2="1191.45" stroke="#000" stroke-width="0.85"/>
<line x1="176.4" y1="1198.13" x2="180.2" y2="1198.13" stroke="#000" stroke-width="0.85"/>
<line x1="191.15" y1="1172.51" x2="191.15" y2="1180.31" stroke="#000" stroke-width="0.85"/>
<line x1="189.25" y1="1172.51" x2="193.05" y2="1172.51" stroke="#000" stroke-width="0.85"/>
<line x1="189.25" y1="1180.31" x2="193.05" y2="1180.31" stroke="#000" stroke-width="0.85"/>
<line x1="204" y1="1158.03" x2="204" y2="1166.94" stroke="#000" stroke-width="0.85"/>
<line x1="202.1" y1="1158.03" x2="205.9" y2="1158.03" stroke="#000" stroke-width="0.85"/>
<line x1="202.1" y1="1166.94" x2="205.9" y2="1166.94" stroke="#000" stroke-width="0.85"/>
<rect x="48.35" y="1254.05" width="2.9" height="2.9" fill="#000"/>
<rect x="61.2" y="1246.81" width="2.9" height="2.9" fill="#000"/>
<rect x="74.05" y="1237.9" width="2.9" height="2.9" fill="#000"/>
<rect x="86.9" y="1231.21" width="2.9" height="2.9" fill="#000"/>
<rect x="99.75" y="1224.53" width="2.9" height="2.9" fill="#000"/>
<rect x="112.6" y="1231.21" width="2.9" height="2.9" fill="#000"/>
<rect x="125.45" y="1227.32" width="2.9" height="2.9" fill="#000"/>
<rect x="138.3" y="1222.86" width="2.9" height="2.9" fill="#000"/>
<rect x="151.15" y="1215.62" width="2.9" height="2.9" fill="#000"/>
<rect x="164" y="1206.71" width="2.9" height="2.9" fill="#000"/>
<rect x="176.85" y="1193.34" width="2.9" height="2.9" fill="#000"/>
<rect x="189.7" y="1174.96" width="2.9" height="2.9" fill="#000"/>
<rect x="202.55" y="1161.03" width="2.9" height="2.9" fill="#000"/>
<polyline points="49.8,1255.5 62.65,1249.37 75.5,1247.15 88.35,1247.15 101.2,1244.36 114.05,1237.68 126.9,1232.11 139.75,1230.44 152.6,1224.87 165.45,1220.97 178.3,1216.51 191.15,1209.83 204,1200.36" fill="none" stroke="#000" stroke-width="1.05" stroke-linejoin="miter"/>
<line x1="62.65" y1="1248.26" x2="62.65" y2="1250.49" stroke="#000" stroke-width="0.85"/>
<line x1="60.75" y1="1248.26" x2="64.55" y2="1248.26" stroke="#000" stroke-width="0.85"/>
<line x1="60.75" y1="1250.49" x2="64.55" y2="1250.49" stroke="#000" stroke-width="0.85"/>
<line x1="75.5" y1="1246.03" x2="75.5" y2="1248.26" stroke="#000" stroke-width="0.85"/>
<line x1="73.6" y1="1246.03" x2="77.4" y2="1246.03" stroke="#000" stroke-width="0.85"/>
<line x1="73.6" y1="1248.26" x2="77.4" y2="1248.26" stroke="#000" stroke-width="0.85"/>
<line x1="88.35" y1="1246.03" x2="88.35" y2="1248.26" stroke="#000" stroke-width="0.85"/>
<line x1="86.45" y1="1246.03" x2="90.25" y2="1246.03" stroke="#000" stroke-width="0.85"/>
<line x1="86.45" y1="1248.26" x2="90.25" y2="1248.26" stroke="#000" stroke-width="0.85"/>
<line x1="101.2" y1="1243.25" x2="101.2" y2="1245.48" stroke="#000" stroke-width="0.85"/>
<line x1="99.3" y1="1243.25" x2="103.1" y2="1243.25" stroke="#000" stroke-width="0.85"/>
<line x1="99.3" y1="1245.48" x2="103.1" y2="1245.48" stroke="#000" stroke-width="0.85"/>
<line x1="114.05" y1="1234.89" x2="114.05" y2="1240.46" stroke="#000" stroke-width="0.85"/>
<line x1="112.15" y1="1234.89" x2="115.95" y2="1234.89" stroke="#000" stroke-width="0.85"/>
<line x1="112.15" y1="1240.46" x2="115.95" y2="1240.46" stroke="#000" stroke-width="0.85"/>
<line x1="126.9" y1="1229.88" x2="126.9" y2="1234.34" stroke="#000" stroke-width="0.85"/>
<line x1="125" y1="1229.88" x2="128.8" y2="1229.88" stroke="#000" stroke-width="0.85"/>
<line x1="125" y1="1234.34" x2="128.8" y2="1234.34" stroke="#000" stroke-width="0.85"/>
<line x1="139.75" y1="1228.21" x2="139.75" y2="1232.66" stroke="#000" stroke-width="0.85"/>
<line x1="137.85" y1="1228.21" x2="141.65" y2="1228.21" stroke="#000" stroke-width="0.85"/>
<line x1="137.85" y1="1232.66" x2="141.65" y2="1232.66" stroke="#000" stroke-width="0.85"/>
<line x1="152.6" y1="1222.64" x2="152.6" y2="1227.09" stroke="#000" stroke-width="0.85"/>
<line x1="150.7" y1="1222.64" x2="154.5" y2="1222.64" stroke="#000" stroke-width="0.85"/>
<line x1="150.7" y1="1227.09" x2="154.5" y2="1227.09" stroke="#000" stroke-width="0.85"/>
<line x1="165.45" y1="1218.74" x2="165.45" y2="1223.2" stroke="#000" stroke-width="0.85"/>
<line x1="163.55" y1="1218.74" x2="167.35" y2="1218.74" stroke="#000" stroke-width="0.85"/>
<line x1="163.55" y1="1223.2" x2="167.35" y2="1223.2" stroke="#000" stroke-width="0.85"/>
<line x1="178.3" y1="1213.73" x2="178.3" y2="1219.3" stroke="#000" stroke-width="0.85"/>
<line x1="176.4" y1="1213.73" x2="180.2" y2="1213.73" stroke="#000" stroke-width="0.85"/>
<line x1="176.4" y1="1219.3" x2="180.2" y2="1219.3" stroke="#000" stroke-width="0.85"/>
<line x1="191.15" y1="1207.04" x2="191.15" y2="1212.61" stroke="#000" stroke-width="0.85"/>
<line x1="189.25" y1="1207.04" x2="193.05" y2="1207.04" stroke="#000" stroke-width="0.85"/>
<line x1="189.25" y1="1212.61" x2="193.05" y2="1212.61" stroke="#000" stroke-width="0.85"/>
<line x1="204" y1="1194.79" x2="204" y2="1205.93" stroke="#000" stroke-width="0.85"/>
<line x1="202.1" y1="1194.79" x2="205.9" y2="1194.79" stroke="#000" stroke-width="0.85"/>
<line x1="202.1" y1="1205.93" x2="205.9" y2="1205.93" stroke="#000" stroke-width="0.85"/>
<polygon points="49.8,1257.17 48.2,1254.34 51.39,1254.34" fill="#000"/>
<polygon points="62.65,1251.04 61.05,1248.21 64.25,1248.21" fill="#000"/>
<polygon points="75.5,1248.81 73.91,1245.99 77.09,1245.99" fill="#000"/>
<polygon points="88.35,1248.81 86.75,1245.99 89.94,1245.99" fill="#000"/>
<polygon points="101.2,1246.03 99.6,1243.2 102.79,1243.2" fill="#000"/>
<polygon points="114.05,1239.34 112.45,1236.52 115.64,1236.52" fill="#000"/>
<polygon points="126.9,1233.77 125.3,1230.95 128.5,1230.95" fill="#000"/>
<polygon points="139.75,1232.1 138.16,1229.28 141.34,1229.28" fill="#000"/>
<polygon points="152.6,1226.53 151,1223.71 154.19,1223.71" fill="#000"/>
<polygon points="165.45,1222.63 163.85,1219.81 167.04,1219.81" fill="#000"/>
<polygon points="178.3,1218.18 176.71,1215.35 179.9,1215.35" fill="#000"/>
<polygon points="191.15,1211.49 189.55,1208.67 192.74,1208.67" fill="#000"/>
<polygon points="204,1202.03 202.41,1199.2 205.59,1199.2" fill="#000"/>
<polyline points="209.4,1110.9 211.6,1110.9 211.6,1199.5 209.4,1199.5" fill="none" stroke="#000" stroke-width="0.8" stroke-linejoin="miter"/>
<polyline points="215.1,1160.3 217.3,1160.3 217.3,1199.5 215.1,1199.5" fill="none" stroke="#000" stroke-width="0.8" stroke-linejoin="miter"/>
<circle cx="218.1" cy="1140.6" r="1.01" fill="#000"/>
<circle cx="223" cy="1176.9" r="1.01" fill="#000"/>
<text x="24.2" y="1175" font-size="6.7" font-weight="bold" text-anchor="middle" transform="rotate(-90 24.2 1175)">Tumor size (cm³)</text>
<text x="133.4" y="1278.1" font-size="6.63" font-weight="bold" text-anchor="middle">Days after tumor inoculation</text>
<text x="235.3" y="1080" font-size="11.3" font-weight="bold" text-anchor="start">J</text>
<line x1="266" y1="1136.8" x2="266" y2="1259.85" stroke="#000" stroke-width="1.3"/>
<line x1="263.7" y1="1259.2" x2="266" y2="1259.2" stroke="#000" stroke-width="1.17"/>
<text x="263.1" y="1261.4" font-size="5.5" font-weight="bold" text-anchor="end">0</text>
<line x1="263.7" y1="1234.71" x2="266" y2="1234.71" stroke="#000" stroke-width="1.17"/>
<text x="263.1" y="1236.91" font-size="5.5" font-weight="bold" text-anchor="end">20</text>
<line x1="263.7" y1="1210.22" x2="266" y2="1210.22" stroke="#000" stroke-width="1.17"/>
<text x="263.1" y="1212.42" font-size="5.5" font-weight="bold" text-anchor="end">40</text>
<line x1="263.7" y1="1185.73" x2="266" y2="1185.73" stroke="#000" stroke-width="1.17"/>
<text x="263.1" y="1187.93" font-size="5.5" font-weight="bold" text-anchor="end">60</text>
<line x1="263.7" y1="1161.24" x2="266" y2="1161.24" stroke="#000" stroke-width="1.17"/>
<text x="263.1" y="1163.44" font-size="5.5" font-weight="bold" text-anchor="end">80</text>
<line x1="263.7" y1="1136.75" x2="266" y2="1136.75" stroke="#000" stroke-width="1.17"/>
<text x="263.1" y="1138.95" font-size="5.5" font-weight="bold" text-anchor="end">100</text>
<line x1="266" y1="1259.2" x2="437" y2="1259.2" stroke="#000" stroke-width="1.4"/>
<line x1="266.5" y1="1259.2" x2="266.5" y2="1261.8" stroke="#000" stroke-width="1"/>
<line x1="269.9" y1="1259.2" x2="269.9" y2="1261.1" stroke="#000" stroke-width="0.85"/>
<line x1="273.3" y1="1259.2" x2="273.3" y2="1261.1" stroke="#000" stroke-width="0.85"/>
<line x1="276.7" y1="1259.2" x2="276.7" y2="1261.1" stroke="#000" stroke-width="0.85"/>
<line x1="280.1" y1="1259.2" x2="280.1" y2="1261.1" stroke="#000" stroke-width="0.85"/>
<line x1="283.5" y1="1259.2" x2="283.5" y2="1261.8" stroke="#000" stroke-width="1"/>
<line x1="286.9" y1="1259.2" x2="286.9" y2="1261.1" stroke="#000" stroke-width="0.85"/>
<line x1="290.3" y1="1259.2" x2="290.3" y2="1261.1" stroke="#000" stroke-width="0.85"/>
<line x1="293.7" y1="1259.2" x2="293.7" y2="1261.1" stroke="#000" stroke-width="0.85"/>
<line x1="297.1" y1="1259.2" x2="297.1" y2="1261.1" stroke="#000" stroke-width="0.85"/>
<line x1="300.5" y1="1259.2" x2="300.5" y2="1261.8" stroke="#000" stroke-width="1"/>
<line x1="303.9" y1="1259.2" x2="303.9" y2="1261.1" stroke="#000" stroke-width="0.85"/>
<line x1="307.3" y1="1259.2" x2="307.3" y2="1261.1" stroke="#000" stroke-width="0.85"/>
<line x1="310.7" y1="1259.2" x2="310.7" y2="1261.1" stroke="#000" stroke-width="0.85"/>
<line x1="314.1" y1="1259.2" x2="314.1" y2="1261.1" stroke="#000" stroke-width="0.85"/>
<line x1="317.5" y1="1259.2" x2="317.5" y2="1261.8" stroke="#000" stroke-width="1"/>
<line x1="320.9" y1="1259.2" x2="320.9" y2="1261.1" stroke="#000" stroke-width="0.85"/>
<line x1="324.3" y1="1259.2" x2="324.3" y2="1261.1" stroke="#000" stroke-width="0.85"/>
<line x1="327.7" y1="1259.2" x2="327.7" y2="1261.1" stroke="#000" stroke-width="0.85"/>
<line x1="331.1" y1="1259.2" x2="331.1" y2="1261.1" stroke="#000" stroke-width="0.85"/>
<line x1="334.5" y1="1259.2" x2="334.5" y2="1261.8" stroke="#000" stroke-width="1"/>
<line x1="337.9" y1="1259.2" x2="337.9" y2="1261.1" stroke="#000" stroke-width="0.85"/>
<line x1="341.3" y1="1259.2" x2="341.3" y2="1261.1" stroke="#000" stroke-width="0.85"/>
<line x1="344.7" y1="1259.2" x2="344.7" y2="1261.1" stroke="#000" stroke-width="0.85"/>
<line x1="348.1" y1="1259.2" x2="348.1" y2="1261.1" stroke="#000" stroke-width="0.85"/>
<line x1="351.5" y1="1259.2" x2="351.5" y2="1261.8" stroke="#000" stroke-width="1"/>
<line x1="354.9" y1="1259.2" x2="354.9" y2="1261.1" stroke="#000" stroke-width="0.85"/>
<line x1="358.3" y1="1259.2" x2="358.3" y2="1261.1" stroke="#000" stroke-width="0.85"/>
<line x1="361.7" y1="1259.2" x2="361.7" y2="1261.1" stroke="#000" stroke-width="0.85"/>
<line x1="365.1" y1="1259.2" x2="365.1" y2="1261.1" stroke="#000" stroke-width="0.85"/>
<line x1="368.5" y1="1259.2" x2="368.5" y2="1261.8" stroke="#000" stroke-width="1"/>
<line x1="371.9" y1="1259.2" x2="371.9" y2="1261.1" stroke="#000" stroke-width="0.85"/>
<line x1="375.3" y1="1259.2" x2="375.3" y2="1261.1" stroke="#000" stroke-width="0.85"/>
<line x1="378.7" y1="1259.2" x2="378.7" y2="1261.1" stroke="#000" stroke-width="0.85"/>
<line x1="382.1" y1="1259.2" x2="382.1" y2="1261.1" stroke="#000" stroke-width="0.85"/>
<line x1="385.5" y1="1259.2" x2="385.5" y2="1261.8" stroke="#000" stroke-width="1"/>
<line x1="388.9" y1="1259.2" x2="388.9" y2="1261.1" stroke="#000" stroke-width="0.85"/>
<line x1="392.3" y1="1259.2" x2="392.3" y2="1261.1" stroke="#000" stroke-width="0.85"/>
<line x1="395.7" y1="1259.2" x2="395.7" y2="1261.1" stroke="#000" stroke-width="0.85"/>
<line x1="399.1" y1="1259.2" x2="399.1" y2="1261.1" stroke="#000" stroke-width="0.85"/>
<line x1="402.5" y1="1259.2" x2="402.5" y2="1261.8" stroke="#000" stroke-width="1"/>
<line x1="405.9" y1="1259.2" x2="405.9" y2="1261.1" stroke="#000" stroke-width="0.85"/>
<line x1="409.3" y1="1259.2" x2="409.3" y2="1261.1" stroke="#000" stroke-width="0.85"/>
<line x1="412.7" y1="1259.2" x2="412.7" y2="1261.1" stroke="#000" stroke-width="0.85"/>
<line x1="416.1" y1="1259.2" x2="416.1" y2="1261.1" stroke="#000" stroke-width="0.85"/>
<line x1="419.5" y1="1259.2" x2="419.5" y2="1261.8" stroke="#000" stroke-width="1"/>
<line x1="422.9" y1="1259.2" x2="422.9" y2="1261.1" stroke="#000" stroke-width="0.85"/>
<line x1="426.3" y1="1259.2" x2="426.3" y2="1261.1" stroke="#000" stroke-width="0.85"/>
<line x1="429.7" y1="1259.2" x2="429.7" y2="1261.1" stroke="#000" stroke-width="0.85"/>
<line x1="433.1" y1="1259.2" x2="433.1" y2="1261.1" stroke="#000" stroke-width="0.85"/>
<line x1="436.5" y1="1259.2" x2="436.5" y2="1261.8" stroke="#000" stroke-width="1"/>
<text x="266.5" y="1267.5" font-size="6" font-weight="bold" text-anchor="middle">0</text>
<text x="283.5" y="1267.5" font-size="6" font-weight="bold" text-anchor="middle">10</text>
<text x="300.5" y="1267.5" font-size="6" font-weight="bold" text-anchor="middle">20</text>
<text x="317.5" y="1267.5" font-size="6" font-weight="bold" text-anchor="middle">30</text>
<text x="334.5" y="1267.5" font-size="6" font-weight="bold" text-anchor="middle">40</text>
<text x="351.5" y="1267.5" font-size="6" font-weight="bold" text-anchor="middle">50</text>
<text x="368.5" y="1267.5" font-size="6" font-weight="bold" text-anchor="middle">60</text>
<text x="385.5" y="1267.5" font-size="6" font-weight="bold" text-anchor="middle">70</text>
<text x="402.5" y="1267.5" font-size="6" font-weight="bold" text-anchor="middle">80</text>
<text x="419.5" y="1267.5" font-size="6" font-weight="bold" text-anchor="middle">90</text>
<text x="436.5" y="1267.5" font-size="6" font-weight="bold" text-anchor="middle">100</text>
<polyline points="332.3,1136.75 332.3,1136.75 332.3,1149 344.3,1149 344.3,1173.49 345.6,1173.49 345.6,1185.73 349.2,1185.73 349.2,1197.98 351.3,1197.98 351.3,1222.47 362.5,1222.47 362.5,1234.71 364.4,1234.71 364.4,1246.96 373.5,1246.96 373.5,1259.2" fill="none" stroke="#000" stroke-width="1.1" stroke-linejoin="miter"/>
<rect x="330.95" y="1147.65" width="2.7" height="2.7" fill="#fff" stroke="#000" stroke-width="0.95"/>
<rect x="342.95" y="1172.14" width="2.7" height="2.7" fill="#fff" stroke="#000" stroke-width="0.95"/>
<rect x="344.25" y="1184.38" width="2.7" height="2.7" fill="#fff" stroke="#000" stroke-width="0.95"/>
<rect x="347.85" y="1196.63" width="2.7" height="2.7" fill="#fff" stroke="#000" stroke-width="0.95"/>
<rect x="349.95" y="1221.12" width="2.7" height="2.7" fill="#fff" stroke="#000" stroke-width="0.95"/>
<rect x="361.15" y="1233.36" width="2.7" height="2.7" fill="#fff" stroke="#000" stroke-width="0.95"/>
<rect x="363.05" y="1245.61" width="2.7" height="2.7" fill="#fff" stroke="#000" stroke-width="0.95"/>
<rect x="372.15" y="1257.85" width="2.7" height="2.7" fill="#fff" stroke="#000" stroke-width="0.95"/>
<polyline points="373.4,1136.75 373.4,1136.75 373.4,1149 378.6,1149 378.6,1161.24 380.4,1161.24 380.4,1173.49 383,1173.49 383,1185.73 386.4,1185.73 386.4,1197.98 390.4,1197.98 390.4,1210.22 393,1210.22 393,1222.47 394.3,1222.47 394.3,1234.71 398.7,1234.71 398.7,1246.96 417.7,1246.96 417.7,1259.2" fill="none" stroke="#000" stroke-width="1.1" stroke-linejoin="miter"/>
<polygon points="373.4,1150.55 371.91,1147.92 374.88,1147.92" fill="#000"/>
<polygon points="378.6,1162.79 377.12,1160.16 380.09,1160.16" fill="#000"/>
<polygon points="380.4,1175.04 378.91,1172.41 381.88,1172.41" fill="#000"/>
<polygon points="383,1187.28 381.51,1184.65 384.49,1184.65" fill="#000"/>
<polygon points="386.4,1199.53 384.91,1196.9 387.88,1196.9" fill="#000"/>
<polygon points="390.4,1211.77 388.91,1209.14 391.88,1209.14" fill="#000"/>
<polygon points="393,1224.02 391.51,1221.39 394.49,1221.39" fill="#000"/>
<polygon points="394.3,1236.26 392.81,1233.63 395.79,1233.63" fill="#000"/>
<polygon points="398.7,1248.51 397.21,1245.88 400.19,1245.88" fill="#000"/>
<polygon points="417.7,1260.75 416.21,1258.12 419.19,1258.12" fill="#000"/>
<polyline points="385.7,1136.75 385.7,1136.75 385.7,1173.49 389.6,1173.49 389.6,1185.73 398.7,1185.73 398.7,1197.98 403.1,1197.98 403.1,1210.22 407.3,1210.22 407.3,1222.47 416.2,1222.47 416.2,1246.96 427.4,1246.96 427.4,1259.2" fill="none" stroke="#000" stroke-width="1.1" stroke-linejoin="miter"/>
<polygon points="385.7,1171.93 384.21,1174.57 387.19,1174.57" fill="#000"/>
<polygon points="389.6,1184.18 388.12,1186.81 391.09,1186.81" fill="#000"/>
<polygon points="398.7,1196.42 397.21,1199.06 400.19,1199.06" fill="#000"/>
<polygon points="403.1,1208.67 401.62,1211.3 404.59,1211.3" fill="#000"/>
<polygon points="407.3,1220.91 405.81,1223.55 408.79,1223.55" fill="#000"/>
<polygon points="416.2,1245.4 414.71,1248.04 417.69,1248.04" fill="#000"/>
<polygon points="427.4,1257.65 425.91,1260.28 428.88,1260.28" fill="#000"/>
<line x1="266" y1="1136.75" x2="385.7" y2="1136.75" stroke="#000" stroke-width="1.1"/>
<line x1="288.75" y1="1078" x2="298" y2="1078" stroke="#000" stroke-width="1"/>
<rect x="292.12" y="1076.75" width="2.5" height="2.5" fill="#fff" stroke="#000" stroke-width="0.95"/>
<text x="303" y="1080.32" font-size="6.45" font-weight="normal" text-anchor="start"></text>
<text x="303" y="1076.6" font-size="6.45" font-weight="normal" text-anchor="start">Rituximab 200ug/dose days 14, 18, 22, 26 +</text>
<text x="303" y="1084.1" font-size="6.45" font-weight="normal" text-anchor="start">Ibrutinib 25mg/kg/dose (BID) days 14-28</text>
<line x1="288.75" y1="1098" x2="298" y2="1098" stroke="#000" stroke-width="1"/>
<polygon points="293.38,1099.44 292,1097 294.75,1097" fill="#000"/>
<text x="303" y="1100.32" font-size="6.45" font-weight="normal" text-anchor="start"></text>
<text x="303" y="1095.8" font-size="6.45" font-weight="normal" text-anchor="start">Rituximab 200ug/dose days 14, 18 +</text>
<text x="303" y="1103.7" font-size="6.45" font-weight="normal" text-anchor="start">Ibrutinib 25mg/kg/dose (BID) days 21-28</text>
<line x1="288.75" y1="1118" x2="298" y2="1118" stroke="#000" stroke-width="1"/>
<polygon points="293.38,1116.56 292,1119 294.75,1119" fill="#000"/>
<text x="303" y="1120.32" font-size="6.45" font-weight="normal" text-anchor="start"></text>
<text x="303" y="1116.7" font-size="6.45" font-weight="normal" text-anchor="start">Ibrutinib 25mg/kg/dose (BID) days 14-21 +</text>
<text x="303" y="1124.4" font-size="6.45" font-weight="normal" text-anchor="start">Rituximab 200ug/dose days 22, 26</text>
<polyline points="433.2,1074.8 436,1074.8 436,1098.8 433.2,1098.8" fill="none" stroke="#000" stroke-width="0.8" stroke-linejoin="miter"/>
<circle cx="439.7" cy="1087.5" r="1.01" fill="#000"/>
<text x="249.6" y="1196.5" font-size="6.5" font-weight="bold" text-anchor="middle" transform="rotate(-90 249.6 1196.5)">Percent survival</text>
<text x="351.2" y="1278.2" font-size="6.3" font-weight="bold" text-anchor="middle">Days after tumor inoculation</text>
</svg></body></html>
